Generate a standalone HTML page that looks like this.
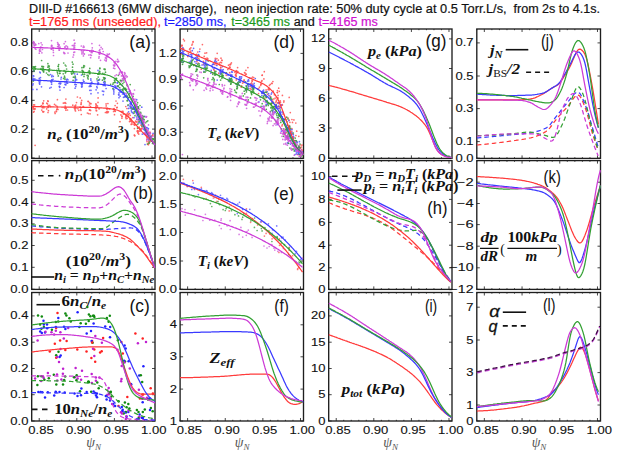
<!DOCTYPE html><html><head><meta charset="utf-8"><style>html,body{margin:0;padding:0;background:#fff;overflow:hidden}svg{display:block}</style></head><body><svg width="617" height="453" viewBox="0 0 617 453" font-family="Liberation Sans, sans-serif">
<rect width="617" height="453" fill="#fff"/>
<text x="29.1" y="12.9" font-size="12" fill="#111" stroke="#111" stroke-width="0.2" textLength="187.6" lengthAdjust="spacingAndGlyphs">DIII-D #166613 (6MW discharge),</text>
<text x="224.8" y="12.9" font-size="12" fill="#111" stroke="#111" stroke-width="0.2" textLength="281.8" lengthAdjust="spacingAndGlyphs">neon injection rate: 50% duty cycle at 0.5 Torr.L/s,</text>
<text x="513.5" y="12.9" font-size="12" fill="#111" stroke="#111" stroke-width="0.2" textLength="86.5" lengthAdjust="spacingAndGlyphs">from 2s to 4.1s.</text>
<text x="29.1" y="26.2" font-size="12" fill="#ff1a1a" stroke="#ff1a1a" stroke-width="0.2" textLength="131.9" lengthAdjust="spacingAndGlyphs">t=1765 ms (unseeded),</text>
<text x="164.0" y="26.2" font-size="12" fill="#1a1aff" stroke="#1a1aff" stroke-width="0.2" textLength="62.5" lengthAdjust="spacingAndGlyphs">t=2850 ms,</text>
<text x="231.3" y="26.2" font-size="12" fill="#1a9a1a" stroke="#1a9a1a" stroke-width="0.2" textLength="58.7" lengthAdjust="spacingAndGlyphs">t=3465 ms</text>
<text x="293.7" y="26.2" font-size="12" fill="#111" stroke="#111" stroke-width="0.2" textLength="21.1" lengthAdjust="spacingAndGlyphs">and</text>
<text x="318.6" y="26.2" font-size="12" fill="#d010d0" stroke="#d010d0" stroke-width="0.2" textLength="59.2" lengthAdjust="spacingAndGlyphs">t=4165 ms</text>
<g fill="#111">
<path d="M31.70,158.40v-1.20 M31.70,29.00v1.20 M39.22,158.40v-3.00 M39.22,29.00v3.00 M46.74,158.40v-1.20 M46.74,29.00v1.20 M54.25,158.40v-1.20 M54.25,29.00v1.20 M61.77,158.40v-1.20 M61.77,29.00v1.20 M69.29,158.40v-1.20 M69.29,29.00v1.20 M76.81,158.40v-3.00 M76.81,29.00v3.00 M84.33,158.40v-1.20 M84.33,29.00v1.20 M91.85,158.40v-1.20 M91.85,29.00v1.20 M99.36,158.40v-1.20 M99.36,29.00v1.20 M106.88,158.40v-1.20 M106.88,29.00v1.20 M114.40,158.40v-3.00 M114.40,29.00v3.00 M121.92,158.40v-1.20 M121.92,29.00v1.20 M129.44,158.40v-1.20 M129.44,29.00v1.20 M136.96,158.40v-1.20 M136.96,29.00v1.20 M144.47,158.40v-1.20 M144.47,29.00v1.20 M151.99,158.40v-3.00 M151.99,29.00v3.00 M31.70,42.90h3 M155.00,42.90h-3 M31.70,71.60h3 M155.00,71.60h-3 M31.70,100.30h3 M155.00,100.30h-3 M31.70,129.10h3 M155.00,129.10h-3 M31.70,158.00h3 M155.00,158.00h-3" stroke="#333" stroke-width="0.9" fill="none"/>
<rect x="31.70" y="29.00" width="123.30" height="129.40" fill="none" stroke="#1e1e1e" stroke-width="1.35"/>
<text x="28.50" y="46.40" text-anchor="end" font-size="11.6" stroke="#111" stroke-width="0.12" textLength="18.13" lengthAdjust="spacingAndGlyphs">0.8</text>
<text x="28.50" y="75.10" text-anchor="end" font-size="11.6" stroke="#111" stroke-width="0.12" textLength="18.13" lengthAdjust="spacingAndGlyphs">0.6</text>
<text x="28.50" y="103.80" text-anchor="end" font-size="11.6" stroke="#111" stroke-width="0.12" textLength="18.13" lengthAdjust="spacingAndGlyphs">0.4</text>
<text x="28.50" y="132.60" text-anchor="end" font-size="11.6" stroke="#111" stroke-width="0.12" textLength="18.13" lengthAdjust="spacingAndGlyphs">0.2</text>
<text x="28.50" y="161.50" text-anchor="end" font-size="11.6" stroke="#111" stroke-width="0.12" textLength="18.13" lengthAdjust="spacingAndGlyphs">0.0</text>
<path d="M180.10,158.40v-1.20 M180.10,29.00v1.20 M187.62,158.40v-3.00 M187.62,29.00v3.00 M195.15,158.40v-1.20 M195.15,29.00v1.20 M202.67,158.40v-1.20 M202.67,29.00v1.20 M210.20,158.40v-1.20 M210.20,29.00v1.20 M217.72,158.40v-1.20 M217.72,29.00v1.20 M225.25,158.40v-3.00 M225.25,29.00v3.00 M232.77,158.40v-1.20 M232.77,29.00v1.20 M240.30,158.40v-1.20 M240.30,29.00v1.20 M247.82,158.40v-1.20 M247.82,29.00v1.20 M255.34,158.40v-1.20 M255.34,29.00v1.20 M262.87,158.40v-3.00 M262.87,29.00v3.00 M270.39,158.40v-1.20 M270.39,29.00v1.20 M277.92,158.40v-1.20 M277.92,29.00v1.20 M285.44,158.40v-1.20 M285.44,29.00v1.20 M292.97,158.40v-1.20 M292.97,29.00v1.20 M300.49,158.40v-3.00 M300.49,29.00v3.00 M180.10,53.40h3 M303.50,53.40h-3 M180.10,79.70h3 M303.50,79.70h-3 M180.10,106.00h3 M303.50,106.00h-3 M180.10,132.20h3 M303.50,132.20h-3 M180.10,158.20h3 M303.50,158.20h-3" stroke="#333" stroke-width="0.9" fill="none"/>
<rect x="180.10" y="29.00" width="123.40" height="129.40" fill="none" stroke="#1e1e1e" stroke-width="1.35"/>
<text x="176.90" y="56.90" text-anchor="end" font-size="11.6" stroke="#111" stroke-width="0.12" textLength="18.13" lengthAdjust="spacingAndGlyphs">1.2</text>
<text x="176.90" y="83.20" text-anchor="end" font-size="11.6" stroke="#111" stroke-width="0.12" textLength="18.13" lengthAdjust="spacingAndGlyphs">0.9</text>
<text x="176.90" y="109.50" text-anchor="end" font-size="11.6" stroke="#111" stroke-width="0.12" textLength="18.13" lengthAdjust="spacingAndGlyphs">0.6</text>
<text x="176.90" y="135.70" text-anchor="end" font-size="11.6" stroke="#111" stroke-width="0.12" textLength="18.13" lengthAdjust="spacingAndGlyphs">0.3</text>
<text x="176.90" y="161.70" text-anchor="end" font-size="11.6" stroke="#111" stroke-width="0.12" textLength="18.13" lengthAdjust="spacingAndGlyphs">0.0</text>
<path d="M328.70,158.40v-1.20 M328.70,29.00v1.20 M336.22,158.40v-3.00 M336.22,29.00v3.00 M343.74,158.40v-1.20 M343.74,29.00v1.20 M351.25,158.40v-1.20 M351.25,29.00v1.20 M358.77,158.40v-1.20 M358.77,29.00v1.20 M366.29,158.40v-1.20 M366.29,29.00v1.20 M373.81,158.40v-3.00 M373.81,29.00v3.00 M381.33,158.40v-1.20 M381.33,29.00v1.20 M388.85,158.40v-1.20 M388.85,29.00v1.20 M396.36,158.40v-1.20 M396.36,29.00v1.20 M403.88,158.40v-1.20 M403.88,29.00v1.20 M411.40,158.40v-3.00 M411.40,29.00v3.00 M418.92,158.40v-1.20 M418.92,29.00v1.20 M426.44,158.40v-1.20 M426.44,29.00v1.20 M433.96,158.40v-1.20 M433.96,29.00v1.20 M441.47,158.40v-1.20 M441.47,29.00v1.20 M448.99,158.40v-3.00 M448.99,29.00v3.00 M328.70,38.90h3 M452.00,38.90h-3 M328.70,68.50h3 M452.00,68.50h-3 M328.70,98.20h3 M452.00,98.20h-3 M328.70,128.00h3 M452.00,128.00h-3 M328.70,158.20h3 M452.00,158.20h-3" stroke="#333" stroke-width="0.9" fill="none"/>
<rect x="328.70" y="29.00" width="123.30" height="129.40" fill="none" stroke="#1e1e1e" stroke-width="1.35"/>
<text x="325.50" y="42.40" text-anchor="end" font-size="11.6" stroke="#111" stroke-width="0.12" textLength="14.50" lengthAdjust="spacingAndGlyphs">12</text>
<text x="325.50" y="72.00" text-anchor="end" font-size="11.6" stroke="#111" stroke-width="0.12" textLength="7.25" lengthAdjust="spacingAndGlyphs">9</text>
<text x="325.50" y="101.70" text-anchor="end" font-size="11.6" stroke="#111" stroke-width="0.12" textLength="7.25" lengthAdjust="spacingAndGlyphs">6</text>
<text x="325.50" y="131.50" text-anchor="end" font-size="11.6" stroke="#111" stroke-width="0.12" textLength="7.25" lengthAdjust="spacingAndGlyphs">3</text>
<text x="325.50" y="161.70" text-anchor="end" font-size="11.6" stroke="#111" stroke-width="0.12" textLength="7.25" lengthAdjust="spacingAndGlyphs">0</text>
<path d="M476.80,158.40v-1.20 M476.80,29.00v1.20 M484.34,158.40v-3.00 M484.34,29.00v3.00 M491.89,158.40v-1.20 M491.89,29.00v1.20 M499.43,158.40v-1.20 M499.43,29.00v1.20 M506.97,158.40v-1.20 M506.97,29.00v1.20 M514.51,158.40v-1.20 M514.51,29.00v1.20 M522.06,158.40v-3.00 M522.06,29.00v3.00 M529.60,158.40v-1.20 M529.60,29.00v1.20 M537.14,158.40v-1.20 M537.14,29.00v1.20 M544.68,158.40v-1.20 M544.68,29.00v1.20 M552.23,158.40v-1.20 M552.23,29.00v1.20 M559.77,158.40v-3.00 M559.77,29.00v3.00 M567.31,158.40v-1.20 M567.31,29.00v1.20 M574.85,158.40v-1.20 M574.85,29.00v1.20 M582.40,158.40v-1.20 M582.40,29.00v1.20 M589.94,158.40v-1.20 M589.94,29.00v1.20 M597.48,158.40v-3.00 M597.48,29.00v3.00 M476.80,42.90h3 M600.50,42.90h-3 M476.80,76.00h3 M600.50,76.00h-3 M476.80,108.60h3 M600.50,108.60h-3 M476.80,141.60h3 M600.50,141.60h-3 M476.80,158.20h3 M600.50,158.20h-3" stroke="#333" stroke-width="0.9" fill="none"/>
<rect x="476.80" y="29.00" width="123.70" height="129.40" fill="none" stroke="#1e1e1e" stroke-width="1.35"/>
<text x="473.60" y="46.40" text-anchor="end" font-size="11.6" stroke="#111" stroke-width="0.12" textLength="18.13" lengthAdjust="spacingAndGlyphs">0.7</text>
<text x="473.60" y="79.50" text-anchor="end" font-size="11.6" stroke="#111" stroke-width="0.12" textLength="18.13" lengthAdjust="spacingAndGlyphs">0.5</text>
<text x="473.60" y="112.10" text-anchor="end" font-size="11.6" stroke="#111" stroke-width="0.12" textLength="18.13" lengthAdjust="spacingAndGlyphs">0.3</text>
<text x="473.60" y="145.10" text-anchor="end" font-size="11.6" stroke="#111" stroke-width="0.12" textLength="18.13" lengthAdjust="spacingAndGlyphs">0.1</text>
<text x="473.60" y="161.70" text-anchor="end" font-size="11.6" stroke="#111" stroke-width="0.12" textLength="18.13" lengthAdjust="spacingAndGlyphs">0.0</text>
<path d="M31.70,289.40v-1.20 M31.70,160.60v1.20 M39.22,289.40v-3.00 M39.22,160.60v3.00 M46.74,289.40v-1.20 M46.74,160.60v1.20 M54.25,289.40v-1.20 M54.25,160.60v1.20 M61.77,289.40v-1.20 M61.77,160.60v1.20 M69.29,289.40v-1.20 M69.29,160.60v1.20 M76.81,289.40v-3.00 M76.81,160.60v3.00 M84.33,289.40v-1.20 M84.33,160.60v1.20 M91.85,289.40v-1.20 M91.85,160.60v1.20 M99.36,289.40v-1.20 M99.36,160.60v1.20 M106.88,289.40v-1.20 M106.88,160.60v1.20 M114.40,289.40v-3.00 M114.40,160.60v3.00 M121.92,289.40v-1.20 M121.92,160.60v1.20 M129.44,289.40v-1.20 M129.44,160.60v1.20 M136.96,289.40v-1.20 M136.96,160.60v1.20 M144.47,289.40v-1.20 M144.47,160.60v1.20 M151.99,289.40v-3.00 M151.99,160.60v3.00 M31.70,180.30h3 M155.00,180.30h-3 M31.70,202.30h3 M155.00,202.30h-3 M31.70,223.90h3 M155.00,223.90h-3 M31.70,245.50h3 M155.00,245.50h-3 M31.70,267.30h3 M155.00,267.30h-3 M31.70,289.30h3 M155.00,289.30h-3" stroke="#333" stroke-width="0.9" fill="none"/>
<rect x="31.70" y="160.60" width="123.30" height="128.80" fill="none" stroke="#1e1e1e" stroke-width="1.35"/>
<text x="28.50" y="183.80" text-anchor="end" font-size="11.6" stroke="#111" stroke-width="0.12" textLength="18.13" lengthAdjust="spacingAndGlyphs">0.5</text>
<text x="28.50" y="205.80" text-anchor="end" font-size="11.6" stroke="#111" stroke-width="0.12" textLength="18.13" lengthAdjust="spacingAndGlyphs">0.4</text>
<text x="28.50" y="227.40" text-anchor="end" font-size="11.6" stroke="#111" stroke-width="0.12" textLength="18.13" lengthAdjust="spacingAndGlyphs">0.3</text>
<text x="28.50" y="249.00" text-anchor="end" font-size="11.6" stroke="#111" stroke-width="0.12" textLength="18.13" lengthAdjust="spacingAndGlyphs">0.2</text>
<text x="28.50" y="270.80" text-anchor="end" font-size="11.6" stroke="#111" stroke-width="0.12" textLength="18.13" lengthAdjust="spacingAndGlyphs">0.1</text>
<text x="28.50" y="292.80" text-anchor="end" font-size="11.6" stroke="#111" stroke-width="0.12" textLength="18.13" lengthAdjust="spacingAndGlyphs">0.0</text>
<path d="M180.10,289.40v-1.20 M180.10,160.60v1.20 M187.62,289.40v-3.00 M187.62,160.60v3.00 M195.15,289.40v-1.20 M195.15,160.60v1.20 M202.67,289.40v-1.20 M202.67,160.60v1.20 M210.20,289.40v-1.20 M210.20,160.60v1.20 M217.72,289.40v-1.20 M217.72,160.60v1.20 M225.25,289.40v-3.00 M225.25,160.60v3.00 M232.77,289.40v-1.20 M232.77,160.60v1.20 M240.30,289.40v-1.20 M240.30,160.60v1.20 M247.82,289.40v-1.20 M247.82,160.60v1.20 M255.34,289.40v-1.20 M255.34,160.60v1.20 M262.87,289.40v-3.00 M262.87,160.60v3.00 M270.39,289.40v-1.20 M270.39,160.60v1.20 M277.92,289.40v-1.20 M277.92,160.60v1.20 M285.44,289.40v-1.20 M285.44,160.60v1.20 M292.97,289.40v-1.20 M292.97,160.60v1.20 M300.49,289.40v-3.00 M300.49,160.60v3.00 M180.10,176.00h3 M303.50,176.00h-3 M180.10,204.40h3 M303.50,204.40h-3 M180.10,232.50h3 M303.50,232.50h-3 M180.10,261.00h3 M303.50,261.00h-3 M180.10,289.30h3 M303.50,289.30h-3" stroke="#333" stroke-width="0.9" fill="none"/>
<rect x="180.10" y="160.60" width="123.40" height="128.80" fill="none" stroke="#1e1e1e" stroke-width="1.35"/>
<text x="176.90" y="179.50" text-anchor="end" font-size="11.6" stroke="#111" stroke-width="0.12" textLength="18.13" lengthAdjust="spacingAndGlyphs">2.0</text>
<text x="176.90" y="207.90" text-anchor="end" font-size="11.6" stroke="#111" stroke-width="0.12" textLength="18.13" lengthAdjust="spacingAndGlyphs">1.5</text>
<text x="176.90" y="236.00" text-anchor="end" font-size="11.6" stroke="#111" stroke-width="0.12" textLength="18.13" lengthAdjust="spacingAndGlyphs">1.0</text>
<text x="176.90" y="264.50" text-anchor="end" font-size="11.6" stroke="#111" stroke-width="0.12" textLength="18.13" lengthAdjust="spacingAndGlyphs">0.5</text>
<text x="176.90" y="292.80" text-anchor="end" font-size="11.6" stroke="#111" stroke-width="0.12" textLength="18.13" lengthAdjust="spacingAndGlyphs">0.0</text>
<path d="M328.70,289.40v-1.20 M328.70,160.60v1.20 M336.22,289.40v-3.00 M336.22,160.60v3.00 M343.74,289.40v-1.20 M343.74,160.60v1.20 M351.25,289.40v-1.20 M351.25,160.60v1.20 M358.77,289.40v-1.20 M358.77,160.60v1.20 M366.29,289.40v-1.20 M366.29,160.60v1.20 M373.81,289.40v-3.00 M373.81,160.60v3.00 M381.33,289.40v-1.20 M381.33,160.60v1.20 M388.85,289.40v-1.20 M388.85,160.60v1.20 M396.36,289.40v-1.20 M396.36,160.60v1.20 M403.88,289.40v-1.20 M403.88,160.60v1.20 M411.40,289.40v-3.00 M411.40,160.60v3.00 M418.92,289.40v-1.20 M418.92,160.60v1.20 M426.44,289.40v-1.20 M426.44,160.60v1.20 M433.96,289.40v-1.20 M433.96,160.60v1.20 M441.47,289.40v-1.20 M441.47,160.60v1.20 M448.99,289.40v-3.00 M448.99,160.60v3.00 M328.70,176.60h3 M452.00,176.60h-3 M328.70,199.40h3 M452.00,199.40h-3 M328.70,222.40h3 M452.00,222.40h-3 M328.70,245.20h3 M452.00,245.20h-3 M328.70,267.80h3 M452.00,267.80h-3 M328.70,289.60h3 M452.00,289.60h-3" stroke="#333" stroke-width="0.9" fill="none"/>
<rect x="328.70" y="160.60" width="123.30" height="128.80" fill="none" stroke="#1e1e1e" stroke-width="1.35"/>
<text x="325.50" y="180.10" text-anchor="end" font-size="11.6" stroke="#111" stroke-width="0.12" textLength="14.50" lengthAdjust="spacingAndGlyphs">10</text>
<text x="325.50" y="202.90" text-anchor="end" font-size="11.6" stroke="#111" stroke-width="0.12" textLength="7.25" lengthAdjust="spacingAndGlyphs">8</text>
<text x="325.50" y="225.90" text-anchor="end" font-size="11.6" stroke="#111" stroke-width="0.12" textLength="7.25" lengthAdjust="spacingAndGlyphs">6</text>
<text x="325.50" y="248.70" text-anchor="end" font-size="11.6" stroke="#111" stroke-width="0.12" textLength="7.25" lengthAdjust="spacingAndGlyphs">4</text>
<text x="325.50" y="271.30" text-anchor="end" font-size="11.6" stroke="#111" stroke-width="0.12" textLength="7.25" lengthAdjust="spacingAndGlyphs">2</text>
<text x="325.50" y="293.10" text-anchor="end" font-size="11.6" stroke="#111" stroke-width="0.12" textLength="7.25" lengthAdjust="spacingAndGlyphs">0</text>
<path d="M476.80,289.40v-1.20 M476.80,160.60v1.20 M484.34,289.40v-3.00 M484.34,160.60v3.00 M491.89,289.40v-1.20 M491.89,160.60v1.20 M499.43,289.40v-1.20 M499.43,160.60v1.20 M506.97,289.40v-1.20 M506.97,160.60v1.20 M514.51,289.40v-1.20 M514.51,160.60v1.20 M522.06,289.40v-3.00 M522.06,160.60v3.00 M529.60,289.40v-1.20 M529.60,160.60v1.20 M537.14,289.40v-1.20 M537.14,160.60v1.20 M544.68,289.40v-1.20 M544.68,160.60v1.20 M552.23,289.40v-1.20 M552.23,160.60v1.20 M559.77,289.40v-3.00 M559.77,160.60v3.00 M567.31,289.40v-1.20 M567.31,160.60v1.20 M574.85,289.40v-1.20 M574.85,160.60v1.20 M582.40,289.40v-1.20 M582.40,160.60v1.20 M589.94,289.40v-1.20 M589.94,160.60v1.20 M597.48,289.40v-3.00 M597.48,160.60v3.00 M476.80,182.20h3 M600.50,182.20h-3 M476.80,203.50h3 M600.50,203.50h-3 M476.80,224.60h3 M600.50,224.60h-3 M476.80,246.20h3 M600.50,246.20h-3 M476.80,267.80h3 M600.50,267.80h-3 M476.80,289.40h3 M600.50,289.40h-3" stroke="#333" stroke-width="0.9" fill="none"/>
<rect x="476.80" y="160.60" width="123.70" height="128.80" fill="none" stroke="#1e1e1e" stroke-width="1.35"/>
<text x="473.60" y="185.70" text-anchor="end" font-size="11.6" stroke="#111" stroke-width="0.12" textLength="16.80" lengthAdjust="spacingAndGlyphs">−2</text>
<text x="473.60" y="207.00" text-anchor="end" font-size="11.6" stroke="#111" stroke-width="0.12" textLength="16.80" lengthAdjust="spacingAndGlyphs">−4</text>
<text x="473.60" y="228.10" text-anchor="end" font-size="11.6" stroke="#111" stroke-width="0.12" textLength="16.80" lengthAdjust="spacingAndGlyphs">−6</text>
<text x="473.60" y="249.70" text-anchor="end" font-size="11.6" stroke="#111" stroke-width="0.12" textLength="16.80" lengthAdjust="spacingAndGlyphs">−8</text>
<text x="473.60" y="271.30" text-anchor="end" font-size="11.6" stroke="#111" stroke-width="0.12" textLength="24.05" lengthAdjust="spacingAndGlyphs">−10</text>
<text x="473.60" y="292.90" text-anchor="end" font-size="11.6" stroke="#111" stroke-width="0.12" textLength="24.05" lengthAdjust="spacingAndGlyphs">−12</text>
<path d="M31.70,421.00v-1.20 M31.70,292.50v1.20 M39.22,421.00v-3.00 M39.22,292.50v3.00 M46.74,421.00v-1.20 M46.74,292.50v1.20 M54.25,421.00v-1.20 M54.25,292.50v1.20 M61.77,421.00v-1.20 M61.77,292.50v1.20 M69.29,421.00v-1.20 M69.29,292.50v1.20 M76.81,421.00v-3.00 M76.81,292.50v3.00 M84.33,421.00v-1.20 M84.33,292.50v1.20 M91.85,421.00v-1.20 M91.85,292.50v1.20 M99.36,421.00v-1.20 M99.36,292.50v1.20 M106.88,421.00v-1.20 M106.88,292.50v1.20 M114.40,421.00v-3.00 M114.40,292.50v3.00 M121.92,421.00v-1.20 M121.92,292.50v1.20 M129.44,421.00v-1.20 M129.44,292.50v1.20 M136.96,421.00v-1.20 M136.96,292.50v1.20 M144.47,421.00v-1.20 M144.47,292.50v1.20 M151.99,421.00v-3.00 M151.99,292.50v3.00 M31.70,315.90h3 M155.00,315.90h-3 M31.70,342.20h3 M155.00,342.20h-3 M31.70,368.50h3 M155.00,368.50h-3 M31.70,394.70h3 M155.00,394.70h-3 M31.70,421.00h3 M155.00,421.00h-3" stroke="#333" stroke-width="0.9" fill="none"/>
<rect x="31.70" y="292.50" width="123.30" height="128.50" fill="none" stroke="#1e1e1e" stroke-width="1.35"/>
<text x="28.50" y="319.40" text-anchor="end" font-size="11.6" stroke="#111" stroke-width="0.12" textLength="18.13" lengthAdjust="spacingAndGlyphs">0.4</text>
<text x="28.50" y="345.70" text-anchor="end" font-size="11.6" stroke="#111" stroke-width="0.12" textLength="18.13" lengthAdjust="spacingAndGlyphs">0.3</text>
<text x="28.50" y="372.00" text-anchor="end" font-size="11.6" stroke="#111" stroke-width="0.12" textLength="18.13" lengthAdjust="spacingAndGlyphs">0.2</text>
<text x="28.50" y="398.20" text-anchor="end" font-size="11.6" stroke="#111" stroke-width="0.12" textLength="18.13" lengthAdjust="spacingAndGlyphs">0.1</text>
<text x="28.50" y="424.50" text-anchor="end" font-size="11.6" stroke="#111" stroke-width="0.12" textLength="18.13" lengthAdjust="spacingAndGlyphs">0.0</text>
<path d="M180.10,421.00v-1.20 M180.10,292.50v1.20 M187.62,421.00v-3.00 M187.62,292.50v3.00 M195.15,421.00v-1.20 M195.15,292.50v1.20 M202.67,421.00v-1.20 M202.67,292.50v1.20 M210.20,421.00v-1.20 M210.20,292.50v1.20 M217.72,421.00v-1.20 M217.72,292.50v1.20 M225.25,421.00v-3.00 M225.25,292.50v3.00 M232.77,421.00v-1.20 M232.77,292.50v1.20 M240.30,421.00v-1.20 M240.30,292.50v1.20 M247.82,421.00v-1.20 M247.82,292.50v1.20 M255.34,421.00v-1.20 M255.34,292.50v1.20 M262.87,421.00v-3.00 M262.87,292.50v3.00 M270.39,421.00v-1.20 M270.39,292.50v1.20 M277.92,421.00v-1.20 M277.92,292.50v1.20 M285.44,421.00v-1.20 M285.44,292.50v1.20 M292.97,421.00v-1.20 M292.97,292.50v1.20 M300.49,421.00v-3.00 M300.49,292.50v3.00 M180.10,324.80h3 M303.50,324.80h-3 M180.10,356.80h3 M303.50,356.80h-3 M180.10,389.10h3 M303.50,389.10h-3 M180.10,421.00h3 M303.50,421.00h-3" stroke="#333" stroke-width="0.9" fill="none"/>
<rect x="180.10" y="292.50" width="123.40" height="128.50" fill="none" stroke="#1e1e1e" stroke-width="1.35"/>
<text x="176.90" y="328.30" text-anchor="end" font-size="11.6" stroke="#111" stroke-width="0.12" textLength="7.25" lengthAdjust="spacingAndGlyphs">4</text>
<text x="176.90" y="360.30" text-anchor="end" font-size="11.6" stroke="#111" stroke-width="0.12" textLength="7.25" lengthAdjust="spacingAndGlyphs">3</text>
<text x="176.90" y="392.60" text-anchor="end" font-size="11.6" stroke="#111" stroke-width="0.12" textLength="7.25" lengthAdjust="spacingAndGlyphs">2</text>
<text x="176.90" y="424.50" text-anchor="end" font-size="11.6" stroke="#111" stroke-width="0.12" textLength="7.25" lengthAdjust="spacingAndGlyphs">1</text>
<path d="M328.70,421.00v-1.20 M328.70,292.50v1.20 M336.22,421.00v-3.00 M336.22,292.50v3.00 M343.74,421.00v-1.20 M343.74,292.50v1.20 M351.25,421.00v-1.20 M351.25,292.50v1.20 M358.77,421.00v-1.20 M358.77,292.50v1.20 M366.29,421.00v-1.20 M366.29,292.50v1.20 M373.81,421.00v-3.00 M373.81,292.50v3.00 M381.33,421.00v-1.20 M381.33,292.50v1.20 M388.85,421.00v-1.20 M388.85,292.50v1.20 M396.36,421.00v-1.20 M396.36,292.50v1.20 M403.88,421.00v-1.20 M403.88,292.50v1.20 M411.40,421.00v-3.00 M411.40,292.50v3.00 M418.92,421.00v-1.20 M418.92,292.50v1.20 M426.44,421.00v-1.20 M426.44,292.50v1.20 M433.96,421.00v-1.20 M433.96,292.50v1.20 M441.47,421.00v-1.20 M441.47,292.50v1.20 M448.99,421.00v-3.00 M448.99,292.50v3.00 M328.70,315.90h3 M452.00,315.90h-3 M328.70,342.20h3 M452.00,342.20h-3 M328.70,368.50h3 M452.00,368.50h-3 M328.70,394.70h3 M452.00,394.70h-3 M328.70,421.00h3 M452.00,421.00h-3" stroke="#333" stroke-width="0.9" fill="none"/>
<rect x="328.70" y="292.50" width="123.30" height="128.50" fill="none" stroke="#1e1e1e" stroke-width="1.35"/>
<text x="325.50" y="319.40" text-anchor="end" font-size="11.6" stroke="#111" stroke-width="0.12" textLength="14.50" lengthAdjust="spacingAndGlyphs">20</text>
<text x="325.50" y="345.70" text-anchor="end" font-size="11.6" stroke="#111" stroke-width="0.12" textLength="14.50" lengthAdjust="spacingAndGlyphs">15</text>
<text x="325.50" y="372.00" text-anchor="end" font-size="11.6" stroke="#111" stroke-width="0.12" textLength="14.50" lengthAdjust="spacingAndGlyphs">10</text>
<text x="325.50" y="398.20" text-anchor="end" font-size="11.6" stroke="#111" stroke-width="0.12" textLength="7.25" lengthAdjust="spacingAndGlyphs">5</text>
<text x="325.50" y="424.50" text-anchor="end" font-size="11.6" stroke="#111" stroke-width="0.12" textLength="7.25" lengthAdjust="spacingAndGlyphs">0</text>
<path d="M476.80,421.00v-1.20 M476.80,292.50v1.20 M484.34,421.00v-3.00 M484.34,292.50v3.00 M491.89,421.00v-1.20 M491.89,292.50v1.20 M499.43,421.00v-1.20 M499.43,292.50v1.20 M506.97,421.00v-1.20 M506.97,292.50v1.20 M514.51,421.00v-1.20 M514.51,292.50v1.20 M522.06,421.00v-3.00 M522.06,292.50v3.00 M529.60,421.00v-1.20 M529.60,292.50v1.20 M537.14,421.00v-1.20 M537.14,292.50v1.20 M544.68,421.00v-1.20 M544.68,292.50v1.20 M552.23,421.00v-1.20 M552.23,292.50v1.20 M559.77,421.00v-3.00 M559.77,292.50v3.00 M567.31,421.00v-1.20 M567.31,292.50v1.20 M574.85,421.00v-1.20 M574.85,292.50v1.20 M582.40,421.00v-1.20 M582.40,292.50v1.20 M589.94,421.00v-1.20 M589.94,292.50v1.20 M597.48,421.00v-3.00 M597.48,292.50v3.00 M476.80,307.20h3 M600.50,307.20h-3 M476.80,340.00h3 M600.50,340.00h-3 M476.80,372.60h3 M600.50,372.60h-3 M476.80,405.00h3 M600.50,405.00h-3 M476.80,421.00h3 M600.50,421.00h-3" stroke="#333" stroke-width="0.9" fill="none"/>
<rect x="476.80" y="292.50" width="123.70" height="128.50" fill="none" stroke="#1e1e1e" stroke-width="1.35"/>
<text x="473.60" y="310.70" text-anchor="end" font-size="11.6" stroke="#111" stroke-width="0.12" textLength="7.25" lengthAdjust="spacingAndGlyphs">7</text>
<text x="473.60" y="343.50" text-anchor="end" font-size="11.6" stroke="#111" stroke-width="0.12" textLength="7.25" lengthAdjust="spacingAndGlyphs">5</text>
<text x="473.60" y="376.10" text-anchor="end" font-size="11.6" stroke="#111" stroke-width="0.12" textLength="7.25" lengthAdjust="spacingAndGlyphs">3</text>
<text x="473.60" y="408.50" text-anchor="end" font-size="11.6" stroke="#111" stroke-width="0.12" textLength="7.25" lengthAdjust="spacingAndGlyphs">1</text>
<text x="473.60" y="424.50" text-anchor="end" font-size="11.6" stroke="#111" stroke-width="0.12" textLength="7.25" lengthAdjust="spacingAndGlyphs">0</text>
<text x="28.33" y="433.80" font-size="11.6" stroke="#111" stroke-width="0.12" textLength="25.38" lengthAdjust="spacingAndGlyphs">0.85</text>
<text x="65.92" y="433.80" font-size="11.6" stroke="#111" stroke-width="0.12" textLength="25.38" lengthAdjust="spacingAndGlyphs">0.90</text>
<text x="103.51" y="433.80" font-size="11.6" stroke="#111" stroke-width="0.12" textLength="25.38" lengthAdjust="spacingAndGlyphs">0.95</text>
<text x="141.10" y="433.80" font-size="11.6" stroke="#111" stroke-width="0.12" textLength="25.38" lengthAdjust="spacingAndGlyphs">1.00</text>
<text x="86.35" y="447.3" font-family="Liberation Serif" font-style="italic" font-size="14" fill="#555">&#968;<tspan font-size="9" dy="2.5">N</tspan></text>
<text x="176.74" y="433.80" font-size="11.6" stroke="#111" stroke-width="0.12" textLength="25.38" lengthAdjust="spacingAndGlyphs">0.85</text>
<text x="214.36" y="433.80" font-size="11.6" stroke="#111" stroke-width="0.12" textLength="25.38" lengthAdjust="spacingAndGlyphs">0.90</text>
<text x="251.98" y="433.80" font-size="11.6" stroke="#111" stroke-width="0.12" textLength="25.38" lengthAdjust="spacingAndGlyphs">0.95</text>
<text x="289.60" y="433.80" font-size="11.6" stroke="#111" stroke-width="0.12" textLength="25.38" lengthAdjust="spacingAndGlyphs">1.00</text>
<text x="234.80" y="447.3" font-family="Liberation Serif" font-style="italic" font-size="14" fill="#555">&#968;<tspan font-size="9" dy="2.5">N</tspan></text>
<text x="325.33" y="433.80" font-size="11.6" stroke="#111" stroke-width="0.12" textLength="25.38" lengthAdjust="spacingAndGlyphs">0.85</text>
<text x="362.92" y="433.80" font-size="11.6" stroke="#111" stroke-width="0.12" textLength="25.38" lengthAdjust="spacingAndGlyphs">0.90</text>
<text x="400.51" y="433.80" font-size="11.6" stroke="#111" stroke-width="0.12" textLength="25.38" lengthAdjust="spacingAndGlyphs">0.95</text>
<text x="438.10" y="433.80" font-size="11.6" stroke="#111" stroke-width="0.12" textLength="25.38" lengthAdjust="spacingAndGlyphs">1.00</text>
<text x="383.35" y="447.3" font-family="Liberation Serif" font-style="italic" font-size="14" fill="#555">&#968;<tspan font-size="9" dy="2.5">N</tspan></text>
<text x="473.45" y="433.80" font-size="11.6" stroke="#111" stroke-width="0.12" textLength="25.38" lengthAdjust="spacingAndGlyphs">0.85</text>
<text x="511.17" y="433.80" font-size="11.6" stroke="#111" stroke-width="0.12" textLength="25.38" lengthAdjust="spacingAndGlyphs">0.90</text>
<text x="548.88" y="433.80" font-size="11.6" stroke="#111" stroke-width="0.12" textLength="25.38" lengthAdjust="spacingAndGlyphs">0.95</text>
<text x="586.59" y="433.80" font-size="11.6" stroke="#111" stroke-width="0.12" textLength="25.38" lengthAdjust="spacingAndGlyphs">1.00</text>
<text x="531.65" y="447.3" font-family="Liberation Serif" font-style="italic" font-size="14" fill="#555">&#968;<tspan font-size="9" dy="2.5">N</tspan></text>
</g>
<g fill="#ff5a5a" fill-opacity="0.90"><circle cx="34.1" cy="111.3" r="0.85"/><circle cx="34.4" cy="108.8" r="0.85"/><circle cx="33.1" cy="107.7" r="0.85"/><circle cx="33.0" cy="106.6" r="0.85"/><circle cx="32.9" cy="107.2" r="0.85"/><circle cx="34.2" cy="108.9" r="0.85"/><circle cx="33.6" cy="104.8" r="0.85"/><circle cx="33.5" cy="112.2" r="0.85"/><circle cx="34.6" cy="104.9" r="0.85"/><circle cx="35.1" cy="145.3" r="0.85"/><circle cx="35.2" cy="108.9" r="0.85"/><circle cx="33.1" cy="108.8" r="0.85"/><circle cx="33.9" cy="108.9" r="0.85"/><circle cx="43.8" cy="111.6" r="0.85"/><circle cx="42.7" cy="103.8" r="0.85"/><circle cx="42.9" cy="106.3" r="0.85"/><circle cx="43.9" cy="107.8" r="0.85"/><circle cx="42.9" cy="102.9" r="0.85"/><circle cx="42.7" cy="111.6" r="0.85"/><circle cx="42.4" cy="107.7" r="0.85"/><circle cx="43.7" cy="100.8" r="0.85"/><circle cx="43.3" cy="112.0" r="0.85"/><circle cx="41.3" cy="105.5" r="0.85"/><circle cx="43.2" cy="103.5" r="0.85"/><circle cx="43.8" cy="106.5" r="0.85"/><circle cx="41.8" cy="110.1" r="0.85"/><circle cx="48.3" cy="106.9" r="0.85"/><circle cx="47.8" cy="100.9" r="0.85"/><circle cx="46.8" cy="103.2" r="0.85"/><circle cx="48.0" cy="112.5" r="0.85"/><circle cx="47.5" cy="103.9" r="0.85"/><circle cx="46.7" cy="108.9" r="0.85"/><circle cx="49.7" cy="105.3" r="0.85"/><circle cx="48.4" cy="105.6" r="0.85"/><circle cx="48.2" cy="101.3" r="0.85"/><circle cx="50.5" cy="106.6" r="0.85"/><circle cx="48.4" cy="110.7" r="0.85"/><circle cx="48.5" cy="106.1" r="0.85"/><circle cx="48.0" cy="107.4" r="0.85"/><circle cx="58.0" cy="109.5" r="0.85"/><circle cx="57.0" cy="109.2" r="0.85"/><circle cx="54.9" cy="112.1" r="0.85"/><circle cx="57.4" cy="109.1" r="0.85"/><circle cx="54.5" cy="104.4" r="0.85"/><circle cx="57.4" cy="99.7" r="0.85"/><circle cx="56.2" cy="111.0" r="0.85"/><circle cx="55.1" cy="113.4" r="0.85"/><circle cx="57.0" cy="106.4" r="0.85"/><circle cx="56.8" cy="109.6" r="0.85"/><circle cx="56.5" cy="111.6" r="0.85"/><circle cx="55.8" cy="105.3" r="0.85"/><circle cx="57.5" cy="107.1" r="0.85"/><circle cx="63.3" cy="103.1" r="0.85"/><circle cx="65.1" cy="102.6" r="0.85"/><circle cx="64.4" cy="103.0" r="0.85"/><circle cx="67.5" cy="110.0" r="0.85"/><circle cx="65.9" cy="99.1" r="0.85"/><circle cx="65.8" cy="103.3" r="0.85"/><circle cx="65.1" cy="108.2" r="0.85"/><circle cx="65.2" cy="106.0" r="0.85"/><circle cx="66.1" cy="108.2" r="0.85"/><circle cx="65.9" cy="110.2" r="0.85"/><circle cx="65.5" cy="107.1" r="0.85"/><circle cx="65.7" cy="108.6" r="0.85"/><circle cx="65.3" cy="107.8" r="0.85"/><circle cx="75.1" cy="105.7" r="0.85"/><circle cx="75.5" cy="110.9" r="0.85"/><circle cx="75.1" cy="108.8" r="0.85"/><circle cx="77.4" cy="97.0" r="0.85"/><circle cx="74.4" cy="108.2" r="0.85"/><circle cx="75.9" cy="108.2" r="0.85"/><circle cx="75.0" cy="109.8" r="0.85"/><circle cx="75.8" cy="105.1" r="0.85"/><circle cx="77.9" cy="108.7" r="0.85"/><circle cx="74.9" cy="106.8" r="0.85"/><circle cx="75.3" cy="107.0" r="0.85"/><circle cx="72.8" cy="105.2" r="0.85"/><circle cx="76.5" cy="102.6" r="0.85"/><circle cx="80.6" cy="109.1" r="0.85"/><circle cx="81.2" cy="102.4" r="0.85"/><circle cx="81.2" cy="103.8" r="0.85"/><circle cx="81.3" cy="114.5" r="0.85"/><circle cx="83.0" cy="106.6" r="0.85"/><circle cx="81.7" cy="100.4" r="0.85"/><circle cx="81.0" cy="104.4" r="0.85"/><circle cx="80.1" cy="106.9" r="0.85"/><circle cx="81.3" cy="107.5" r="0.85"/><circle cx="80.9" cy="110.3" r="0.85"/><circle cx="80.2" cy="97.9" r="0.85"/><circle cx="78.8" cy="110.3" r="0.85"/><circle cx="83.5" cy="106.6" r="0.85"/><circle cx="89.6" cy="110.2" r="0.85"/><circle cx="89.6" cy="109.9" r="0.85"/><circle cx="88.0" cy="101.3" r="0.85"/><circle cx="90.2" cy="103.6" r="0.85"/><circle cx="88.5" cy="101.5" r="0.85"/><circle cx="90.6" cy="110.4" r="0.85"/><circle cx="91.0" cy="103.7" r="0.85"/><circle cx="89.5" cy="102.8" r="0.85"/><circle cx="90.1" cy="113.8" r="0.85"/><circle cx="88.5" cy="113.6" r="0.85"/><circle cx="90.5" cy="106.7" r="0.85"/><circle cx="87.4" cy="113.0" r="0.85"/><circle cx="89.4" cy="105.0" r="0.85"/><circle cx="97.6" cy="114.8" r="0.85"/><circle cx="96.8" cy="105.6" r="0.85"/><circle cx="98.1" cy="97.9" r="0.85"/><circle cx="96.1" cy="104.6" r="0.85"/><circle cx="96.0" cy="107.1" r="0.85"/><circle cx="99.1" cy="108.8" r="0.85"/><circle cx="95.9" cy="103.8" r="0.85"/><circle cx="97.5" cy="106.1" r="0.85"/><circle cx="98.0" cy="102.4" r="0.85"/><circle cx="96.6" cy="110.7" r="0.85"/><circle cx="96.2" cy="110.6" r="0.85"/><circle cx="95.9" cy="106.1" r="0.85"/><circle cx="96.0" cy="108.7" r="0.85"/><circle cx="106.6" cy="111.9" r="0.85"/><circle cx="106.1" cy="103.9" r="0.85"/><circle cx="105.4" cy="112.5" r="0.85"/><circle cx="106.4" cy="108.3" r="0.85"/><circle cx="107.5" cy="108.4" r="0.85"/><circle cx="107.0" cy="109.4" r="0.85"/><circle cx="109.4" cy="109.0" r="0.85"/><circle cx="107.8" cy="112.6" r="0.85"/><circle cx="107.9" cy="103.5" r="0.85"/><circle cx="106.7" cy="112.7" r="0.85"/><circle cx="106.2" cy="105.9" r="0.85"/><circle cx="108.4" cy="111.8" r="0.85"/><circle cx="107.4" cy="111.7" r="0.85"/><circle cx="113.8" cy="109.2" r="0.85"/><circle cx="116.0" cy="101.0" r="0.85"/><circle cx="113.6" cy="111.4" r="0.85"/><circle cx="113.9" cy="109.3" r="0.85"/><circle cx="115.1" cy="105.6" r="0.85"/><circle cx="114.1" cy="108.6" r="0.85"/><circle cx="116.7" cy="107.7" r="0.85"/><circle cx="117.4" cy="103.3" r="0.85"/><circle cx="114.5" cy="114.7" r="0.85"/><circle cx="117.2" cy="107.3" r="0.85"/><circle cx="115.3" cy="111.3" r="0.85"/><circle cx="114.7" cy="110.2" r="0.85"/><circle cx="115.0" cy="111.2" r="0.85"/><circle cx="125.8" cy="106.5" r="0.85"/><circle cx="121.9" cy="118.2" r="0.85"/><circle cx="123.0" cy="111.4" r="0.85"/><circle cx="126.9" cy="108.5" r="0.85"/><circle cx="120.0" cy="121.7" r="0.85"/><circle cx="120.9" cy="114.9" r="0.85"/><circle cx="124.7" cy="114.0" r="0.85"/><circle cx="122.1" cy="116.6" r="0.85"/><circle cx="121.9" cy="112.3" r="0.85"/><circle cx="121.9" cy="116.2" r="0.85"/><circle cx="122.9" cy="112.5" r="0.85"/><circle cx="122.1" cy="111.4" r="0.85"/><circle cx="123.4" cy="114.1" r="0.85"/><circle cx="126.2" cy="115.3" r="0.85"/><circle cx="128.5" cy="116.3" r="0.85"/><circle cx="127.1" cy="115.7" r="0.85"/><circle cx="126.1" cy="116.6" r="0.85"/><circle cx="127.6" cy="113.1" r="0.85"/><circle cx="126.2" cy="118.7" r="0.85"/><circle cx="129.5" cy="113.5" r="0.85"/><circle cx="125.7" cy="117.6" r="0.85"/><circle cx="128.5" cy="114.3" r="0.85"/><circle cx="126.9" cy="114.2" r="0.85"/><circle cx="127.2" cy="118.3" r="0.85"/><circle cx="125.9" cy="116.0" r="0.85"/><circle cx="128.5" cy="114.7" r="0.85"/><circle cx="131.2" cy="124.4" r="0.85"/><circle cx="131.6" cy="124.0" r="0.85"/><circle cx="129.9" cy="119.6" r="0.85"/><circle cx="130.3" cy="115.3" r="0.85"/><circle cx="130.2" cy="121.2" r="0.85"/><circle cx="130.7" cy="118.7" r="0.85"/><circle cx="131.0" cy="121.3" r="0.85"/><circle cx="131.5" cy="121.1" r="0.85"/><circle cx="129.5" cy="121.6" r="0.85"/><circle cx="132.7" cy="117.6" r="0.85"/><circle cx="130.6" cy="119.2" r="0.85"/><circle cx="130.8" cy="120.1" r="0.85"/><circle cx="130.9" cy="120.3" r="0.85"/><circle cx="134.7" cy="122.7" r="0.85"/><circle cx="132.0" cy="122.4" r="0.85"/><circle cx="134.4" cy="128.6" r="0.85"/><circle cx="133.0" cy="124.0" r="0.85"/><circle cx="137.0" cy="122.1" r="0.85"/><circle cx="133.5" cy="122.0" r="0.85"/><circle cx="136.0" cy="124.6" r="0.85"/><circle cx="138.1" cy="121.0" r="0.85"/><circle cx="135.6" cy="121.1" r="0.85"/><circle cx="134.3" cy="124.4" r="0.85"/><circle cx="134.7" cy="124.9" r="0.85"/><circle cx="136.2" cy="121.8" r="0.85"/><circle cx="134.5" cy="125.1" r="0.85"/><circle cx="142.3" cy="127.0" r="0.85"/><circle cx="137.9" cy="130.5" r="0.85"/><circle cx="137.2" cy="131.3" r="0.85"/><circle cx="138.3" cy="131.8" r="0.85"/><circle cx="134.6" cy="135.3" r="0.85"/><circle cx="141.0" cy="129.5" r="0.85"/><circle cx="134.8" cy="135.8" r="0.85"/><circle cx="137.5" cy="130.7" r="0.85"/><circle cx="140.3" cy="129.8" r="0.85"/><circle cx="137.9" cy="127.9" r="0.85"/><circle cx="137.7" cy="132.2" r="0.85"/><circle cx="140.1" cy="129.7" r="0.85"/><circle cx="139.3" cy="131.1" r="0.85"/><circle cx="140.8" cy="130.9" r="0.85"/><circle cx="138.0" cy="133.3" r="0.85"/><circle cx="139.1" cy="127.0" r="0.85"/><circle cx="141.7" cy="125.1" r="0.85"/><circle cx="142.1" cy="128.6" r="0.85"/><circle cx="134.3" cy="135.0" r="0.85"/><circle cx="138.8" cy="134.1" r="0.85"/><circle cx="140.4" cy="128.8" r="0.85"/><circle cx="144.5" cy="126.0" r="0.85"/><circle cx="141.1" cy="125.2" r="0.85"/><circle cx="141.3" cy="128.5" r="0.85"/><circle cx="139.3" cy="127.8" r="0.85"/><circle cx="143.9" cy="126.5" r="0.85"/><circle cx="147.2" cy="132.0" r="0.85"/><circle cx="148.9" cy="132.0" r="0.85"/><circle cx="146.9" cy="137.6" r="0.85"/><circle cx="146.8" cy="139.5" r="0.85"/><circle cx="147.0" cy="141.6" r="0.85"/><circle cx="146.8" cy="134.1" r="0.85"/><circle cx="147.9" cy="132.6" r="0.85"/><circle cx="147.2" cy="136.7" r="0.85"/><circle cx="150.3" cy="132.4" r="0.85"/><circle cx="146.1" cy="135.6" r="0.85"/><circle cx="147.6" cy="135.7" r="0.85"/><circle cx="148.4" cy="134.4" r="0.85"/><circle cx="147.4" cy="138.5" r="0.85"/><circle cx="148.5" cy="144.6" r="0.85"/><circle cx="152.4" cy="140.9" r="0.85"/><circle cx="148.9" cy="141.5" r="0.85"/><circle cx="152.8" cy="134.7" r="0.85"/><circle cx="151.4" cy="136.1" r="0.85"/><circle cx="150.9" cy="141.2" r="0.85"/><circle cx="148.0" cy="144.5" r="0.85"/><circle cx="148.5" cy="143.1" r="0.85"/><circle cx="151.2" cy="140.4" r="0.85"/><circle cx="148.2" cy="143.9" r="0.85"/><circle cx="152.7" cy="135.4" r="0.85"/><circle cx="148.6" cy="143.0" r="0.85"/><circle cx="149.4" cy="139.7" r="0.85"/></g>
<g fill="#5a5aff" fill-opacity="0.90"><circle cx="33.1" cy="78.4" r="0.85"/><circle cx="34.8" cy="78.9" r="0.85"/><circle cx="33.6" cy="80.6" r="0.85"/><circle cx="33.9" cy="70.6" r="0.85"/><circle cx="32.8" cy="89.4" r="0.85"/><circle cx="32.6" cy="85.2" r="0.85"/><circle cx="33.1" cy="83.9" r="0.85"/><circle cx="33.0" cy="79.4" r="0.85"/><circle cx="33.1" cy="75.8" r="0.85"/><circle cx="33.8" cy="76.0" r="0.85"/><circle cx="38.9" cy="80.6" r="0.85"/><circle cx="39.8" cy="82.5" r="0.85"/><circle cx="39.4" cy="83.3" r="0.85"/><circle cx="40.1" cy="80.2" r="0.85"/><circle cx="40.3" cy="72.8" r="0.85"/><circle cx="41.5" cy="86.8" r="0.85"/><circle cx="39.8" cy="72.0" r="0.85"/><circle cx="39.7" cy="84.2" r="0.85"/><circle cx="36.9" cy="89.4" r="0.85"/><circle cx="39.3" cy="78.4" r="0.85"/><circle cx="39.2" cy="81.8" r="0.85"/><circle cx="40.4" cy="81.0" r="0.85"/><circle cx="40.5" cy="77.6" r="0.85"/><circle cx="51.6" cy="84.2" r="0.85"/><circle cx="51.1" cy="80.9" r="0.85"/><circle cx="49.8" cy="88.1" r="0.85"/><circle cx="53.3" cy="76.3" r="0.85"/><circle cx="50.4" cy="74.5" r="0.85"/><circle cx="53.0" cy="79.3" r="0.85"/><circle cx="51.7" cy="79.8" r="0.85"/><circle cx="51.8" cy="76.7" r="0.85"/><circle cx="52.0" cy="75.3" r="0.85"/><circle cx="51.6" cy="82.3" r="0.85"/><circle cx="52.2" cy="80.2" r="0.85"/><circle cx="50.8" cy="81.7" r="0.85"/><circle cx="51.1" cy="87.3" r="0.85"/><circle cx="59.6" cy="87.3" r="0.85"/><circle cx="59.3" cy="86.3" r="0.85"/><circle cx="59.4" cy="83.0" r="0.85"/><circle cx="60.2" cy="83.8" r="0.85"/><circle cx="61.0" cy="79.0" r="0.85"/><circle cx="60.0" cy="90.1" r="0.85"/><circle cx="61.0" cy="81.5" r="0.85"/><circle cx="60.3" cy="83.5" r="0.85"/><circle cx="60.6" cy="83.5" r="0.85"/><circle cx="60.5" cy="83.1" r="0.85"/><circle cx="59.7" cy="86.7" r="0.85"/><circle cx="61.3" cy="77.3" r="0.85"/><circle cx="59.0" cy="83.6" r="0.85"/><circle cx="65.4" cy="84.3" r="0.85"/><circle cx="66.8" cy="83.1" r="0.85"/><circle cx="66.6" cy="81.5" r="0.85"/><circle cx="64.7" cy="81.6" r="0.85"/><circle cx="66.6" cy="79.8" r="0.85"/><circle cx="65.9" cy="84.8" r="0.85"/><circle cx="65.1" cy="84.4" r="0.85"/><circle cx="68.0" cy="79.8" r="0.85"/><circle cx="66.3" cy="81.3" r="0.85"/><circle cx="67.6" cy="83.2" r="0.85"/><circle cx="67.1" cy="79.2" r="0.85"/><circle cx="66.1" cy="81.8" r="0.85"/><circle cx="64.1" cy="87.5" r="0.85"/><circle cx="77.3" cy="74.2" r="0.85"/><circle cx="75.2" cy="84.4" r="0.85"/><circle cx="75.8" cy="86.5" r="0.85"/><circle cx="74.7" cy="73.8" r="0.85"/><circle cx="75.3" cy="76.8" r="0.85"/><circle cx="75.6" cy="78.1" r="0.85"/><circle cx="75.0" cy="82.1" r="0.85"/><circle cx="75.6" cy="79.6" r="0.85"/><circle cx="76.7" cy="79.8" r="0.85"/><circle cx="75.0" cy="84.4" r="0.85"/><circle cx="75.1" cy="88.2" r="0.85"/><circle cx="75.2" cy="80.6" r="0.85"/><circle cx="76.3" cy="84.6" r="0.85"/><circle cx="81.7" cy="84.8" r="0.85"/><circle cx="82.2" cy="82.6" r="0.85"/><circle cx="81.8" cy="87.1" r="0.85"/><circle cx="83.8" cy="81.6" r="0.85"/><circle cx="83.3" cy="80.0" r="0.85"/><circle cx="82.3" cy="86.0" r="0.85"/><circle cx="83.9" cy="81.5" r="0.85"/><circle cx="82.2" cy="83.7" r="0.85"/><circle cx="80.8" cy="82.9" r="0.85"/><circle cx="81.6" cy="84.4" r="0.85"/><circle cx="81.5" cy="75.0" r="0.85"/><circle cx="82.3" cy="84.0" r="0.85"/><circle cx="81.6" cy="86.5" r="0.85"/><circle cx="91.0" cy="90.3" r="0.85"/><circle cx="90.8" cy="78.8" r="0.85"/><circle cx="91.0" cy="93.7" r="0.85"/><circle cx="89.8" cy="90.3" r="0.85"/><circle cx="90.7" cy="86.3" r="0.85"/><circle cx="90.9" cy="80.2" r="0.85"/><circle cx="91.9" cy="82.2" r="0.85"/><circle cx="90.9" cy="86.2" r="0.85"/><circle cx="89.3" cy="86.4" r="0.85"/><circle cx="91.3" cy="82.9" r="0.85"/><circle cx="90.1" cy="85.2" r="0.85"/><circle cx="91.3" cy="83.2" r="0.85"/><circle cx="91.0" cy="84.0" r="0.85"/><circle cx="99.5" cy="79.4" r="0.85"/><circle cx="98.0" cy="70.4" r="0.85"/><circle cx="98.5" cy="82.8" r="0.85"/><circle cx="98.0" cy="92.8" r="0.85"/><circle cx="97.6" cy="83.2" r="0.85"/><circle cx="97.3" cy="80.8" r="0.85"/><circle cx="96.8" cy="86.7" r="0.85"/><circle cx="97.6" cy="84.4" r="0.85"/><circle cx="97.2" cy="87.8" r="0.85"/><circle cx="98.1" cy="83.7" r="0.85"/><circle cx="98.3" cy="83.6" r="0.85"/><circle cx="96.1" cy="89.8" r="0.85"/><circle cx="98.3" cy="80.4" r="0.85"/><circle cx="103.2" cy="85.4" r="0.85"/><circle cx="104.8" cy="83.6" r="0.85"/><circle cx="102.4" cy="91.1" r="0.85"/><circle cx="105.2" cy="85.7" r="0.85"/><circle cx="105.2" cy="78.6" r="0.85"/><circle cx="104.4" cy="85.1" r="0.85"/><circle cx="106.1" cy="88.5" r="0.85"/><circle cx="103.7" cy="91.4" r="0.85"/><circle cx="105.1" cy="82.7" r="0.85"/><circle cx="103.3" cy="94.7" r="0.85"/><circle cx="103.7" cy="82.7" r="0.85"/><circle cx="104.2" cy="81.4" r="0.85"/><circle cx="104.2" cy="85.2" r="0.85"/><circle cx="117.0" cy="86.1" r="0.85"/><circle cx="115.3" cy="87.8" r="0.85"/><circle cx="113.9" cy="92.1" r="0.85"/><circle cx="118.1" cy="86.8" r="0.85"/><circle cx="113.9" cy="89.5" r="0.85"/><circle cx="113.4" cy="89.2" r="0.85"/><circle cx="115.9" cy="87.3" r="0.85"/><circle cx="117.3" cy="82.7" r="0.85"/><circle cx="117.5" cy="82.9" r="0.85"/><circle cx="114.9" cy="85.6" r="0.85"/><circle cx="113.7" cy="90.8" r="0.85"/><circle cx="115.5" cy="86.6" r="0.85"/><circle cx="113.8" cy="93.9" r="0.85"/><circle cx="121.1" cy="91.7" r="0.85"/><circle cx="120.5" cy="89.6" r="0.85"/><circle cx="123.5" cy="92.6" r="0.85"/><circle cx="121.9" cy="91.8" r="0.85"/><circle cx="121.0" cy="92.2" r="0.85"/><circle cx="119.4" cy="90.3" r="0.85"/><circle cx="120.0" cy="91.5" r="0.85"/><circle cx="119.0" cy="92.9" r="0.85"/><circle cx="122.1" cy="85.6" r="0.85"/><circle cx="124.0" cy="88.7" r="0.85"/><circle cx="120.1" cy="96.2" r="0.85"/><circle cx="118.9" cy="94.9" r="0.85"/><circle cx="118.6" cy="94.6" r="0.85"/><circle cx="123.5" cy="97.3" r="0.85"/><circle cx="123.0" cy="101.1" r="0.85"/><circle cx="124.8" cy="93.2" r="0.85"/><circle cx="119.0" cy="97.7" r="0.85"/><circle cx="124.1" cy="94.3" r="0.85"/><circle cx="127.7" cy="92.1" r="0.85"/><circle cx="125.3" cy="95.6" r="0.85"/><circle cx="122.5" cy="94.0" r="0.85"/><circle cx="129.3" cy="91.4" r="0.85"/><circle cx="125.2" cy="96.6" r="0.85"/><circle cx="124.5" cy="96.9" r="0.85"/><circle cx="126.5" cy="96.0" r="0.85"/><circle cx="126.4" cy="95.0" r="0.85"/><circle cx="130.2" cy="103.3" r="0.85"/><circle cx="136.7" cy="99.7" r="0.85"/><circle cx="130.8" cy="107.4" r="0.85"/><circle cx="131.9" cy="102.1" r="0.85"/><circle cx="130.3" cy="104.2" r="0.85"/><circle cx="130.2" cy="105.9" r="0.85"/><circle cx="132.0" cy="100.3" r="0.85"/><circle cx="131.2" cy="104.3" r="0.85"/><circle cx="128.0" cy="105.6" r="0.85"/><circle cx="130.2" cy="106.2" r="0.85"/><circle cx="128.5" cy="108.4" r="0.85"/><circle cx="131.3" cy="103.2" r="0.85"/><circle cx="131.1" cy="106.5" r="0.85"/><circle cx="134.6" cy="107.3" r="0.85"/><circle cx="132.3" cy="112.5" r="0.85"/><circle cx="132.6" cy="108.2" r="0.85"/><circle cx="128.6" cy="111.8" r="0.85"/><circle cx="131.3" cy="110.1" r="0.85"/><circle cx="131.9" cy="109.1" r="0.85"/><circle cx="141.8" cy="107.2" r="0.85"/><circle cx="132.7" cy="108.8" r="0.85"/><circle cx="135.5" cy="106.9" r="0.85"/><circle cx="136.2" cy="112.1" r="0.85"/><circle cx="130.8" cy="107.5" r="0.85"/><circle cx="130.1" cy="108.0" r="0.85"/><circle cx="133.3" cy="107.8" r="0.85"/><circle cx="135.6" cy="108.3" r="0.85"/><circle cx="136.9" cy="111.6" r="0.85"/><circle cx="136.7" cy="108.9" r="0.85"/><circle cx="135.5" cy="110.5" r="0.85"/><circle cx="133.3" cy="113.4" r="0.85"/><circle cx="136.9" cy="111.8" r="0.85"/><circle cx="134.0" cy="108.7" r="0.85"/><circle cx="137.0" cy="112.4" r="0.85"/><circle cx="134.0" cy="117.7" r="0.85"/><circle cx="137.6" cy="113.3" r="0.85"/><circle cx="136.6" cy="117.0" r="0.85"/><circle cx="131.5" cy="111.7" r="0.85"/><circle cx="137.3" cy="106.6" r="0.85"/><circle cx="142.3" cy="119.8" r="0.85"/><circle cx="136.7" cy="119.3" r="0.85"/><circle cx="142.1" cy="120.3" r="0.85"/><circle cx="138.7" cy="122.8" r="0.85"/><circle cx="139.9" cy="118.5" r="0.85"/><circle cx="140.0" cy="122.7" r="0.85"/><circle cx="144.8" cy="116.3" r="0.85"/><circle cx="141.2" cy="123.8" r="0.85"/><circle cx="141.3" cy="120.2" r="0.85"/><circle cx="141.8" cy="120.4" r="0.85"/><circle cx="141.2" cy="117.3" r="0.85"/><circle cx="141.4" cy="118.4" r="0.85"/><circle cx="138.1" cy="119.4" r="0.85"/><circle cx="147.0" cy="127.7" r="0.85"/><circle cx="145.3" cy="130.3" r="0.85"/><circle cx="146.5" cy="127.5" r="0.85"/><circle cx="142.3" cy="134.1" r="0.85"/><circle cx="148.2" cy="128.8" r="0.85"/><circle cx="144.0" cy="133.4" r="0.85"/><circle cx="145.4" cy="131.9" r="0.85"/><circle cx="144.9" cy="130.2" r="0.85"/><circle cx="143.7" cy="129.4" r="0.85"/><circle cx="146.3" cy="133.7" r="0.85"/><circle cx="145.4" cy="134.6" r="0.85"/><circle cx="148.4" cy="128.6" r="0.85"/><circle cx="146.0" cy="133.3" r="0.85"/><circle cx="150.4" cy="137.9" r="0.85"/><circle cx="153.1" cy="133.4" r="0.85"/><circle cx="145.0" cy="144.6" r="0.85"/><circle cx="146.7" cy="133.1" r="0.85"/><circle cx="150.7" cy="137.7" r="0.85"/><circle cx="149.6" cy="139.6" r="0.85"/><circle cx="150.8" cy="136.2" r="0.85"/><circle cx="151.2" cy="137.5" r="0.85"/><circle cx="150.8" cy="136.7" r="0.85"/><circle cx="147.3" cy="133.3" r="0.85"/><circle cx="148.1" cy="139.2" r="0.85"/></g>
<g fill="#40a040" fill-opacity="0.90"><circle cx="33.9" cy="69.8" r="0.85"/><circle cx="34.2" cy="71.0" r="0.85"/><circle cx="35.5" cy="66.5" r="0.85"/><circle cx="34.6" cy="67.3" r="0.85"/><circle cx="34.2" cy="66.9" r="0.85"/><circle cx="32.9" cy="66.9" r="0.85"/><circle cx="34.4" cy="67.5" r="0.85"/><circle cx="35.4" cy="68.6" r="0.85"/><circle cx="35.3" cy="68.8" r="0.85"/><circle cx="33.2" cy="80.9" r="0.85"/><circle cx="33.3" cy="67.0" r="0.85"/><circle cx="42.4" cy="70.3" r="0.85"/><circle cx="43.1" cy="68.2" r="0.85"/><circle cx="43.5" cy="66.7" r="0.85"/><circle cx="41.6" cy="60.5" r="0.85"/><circle cx="41.9" cy="66.4" r="0.85"/><circle cx="43.0" cy="69.7" r="0.85"/><circle cx="43.6" cy="70.0" r="0.85"/><circle cx="42.4" cy="66.6" r="0.85"/><circle cx="41.0" cy="68.6" r="0.85"/><circle cx="43.4" cy="71.6" r="0.85"/><circle cx="43.0" cy="68.8" r="0.85"/><circle cx="44.0" cy="69.6" r="0.85"/><circle cx="43.7" cy="71.9" r="0.85"/><circle cx="47.9" cy="67.2" r="0.85"/><circle cx="49.0" cy="75.3" r="0.85"/><circle cx="48.4" cy="70.2" r="0.85"/><circle cx="49.6" cy="68.8" r="0.85"/><circle cx="49.1" cy="71.4" r="0.85"/><circle cx="47.9" cy="63.7" r="0.85"/><circle cx="49.3" cy="66.0" r="0.85"/><circle cx="48.9" cy="70.5" r="0.85"/><circle cx="48.3" cy="65.8" r="0.85"/><circle cx="47.8" cy="74.5" r="0.85"/><circle cx="46.5" cy="73.0" r="0.85"/><circle cx="49.0" cy="66.9" r="0.85"/><circle cx="49.2" cy="69.3" r="0.85"/><circle cx="57.4" cy="72.2" r="0.85"/><circle cx="59.6" cy="73.3" r="0.85"/><circle cx="59.4" cy="71.1" r="0.85"/><circle cx="58.7" cy="69.9" r="0.85"/><circle cx="58.3" cy="75.9" r="0.85"/><circle cx="56.7" cy="70.3" r="0.85"/><circle cx="58.5" cy="68.4" r="0.85"/><circle cx="57.7" cy="73.8" r="0.85"/><circle cx="60.0" cy="73.3" r="0.85"/><circle cx="58.7" cy="64.5" r="0.85"/><circle cx="60.0" cy="71.1" r="0.85"/><circle cx="58.3" cy="66.2" r="0.85"/><circle cx="58.3" cy="66.3" r="0.85"/><circle cx="65.4" cy="73.0" r="0.85"/><circle cx="65.7" cy="72.1" r="0.85"/><circle cx="65.2" cy="65.0" r="0.85"/><circle cx="66.0" cy="66.0" r="0.85"/><circle cx="64.5" cy="76.2" r="0.85"/><circle cx="63.2" cy="73.8" r="0.85"/><circle cx="64.1" cy="70.7" r="0.85"/><circle cx="63.7" cy="63.0" r="0.85"/><circle cx="65.0" cy="79.2" r="0.85"/><circle cx="65.7" cy="71.5" r="0.85"/><circle cx="64.8" cy="77.7" r="0.85"/><circle cx="66.6" cy="69.0" r="0.85"/><circle cx="63.6" cy="78.4" r="0.85"/><circle cx="73.1" cy="80.4" r="0.85"/><circle cx="72.5" cy="67.2" r="0.85"/><circle cx="72.3" cy="62.1" r="0.85"/><circle cx="71.4" cy="73.1" r="0.85"/><circle cx="73.0" cy="64.2" r="0.85"/><circle cx="71.7" cy="74.1" r="0.85"/><circle cx="72.6" cy="70.2" r="0.85"/><circle cx="73.4" cy="77.2" r="0.85"/><circle cx="75.1" cy="76.0" r="0.85"/><circle cx="73.4" cy="72.5" r="0.85"/><circle cx="74.9" cy="77.6" r="0.85"/><circle cx="72.9" cy="73.5" r="0.85"/><circle cx="73.6" cy="72.0" r="0.85"/><circle cx="81.9" cy="67.7" r="0.85"/><circle cx="82.8" cy="70.9" r="0.85"/><circle cx="82.1" cy="70.3" r="0.85"/><circle cx="83.8" cy="65.7" r="0.85"/><circle cx="83.1" cy="71.5" r="0.85"/><circle cx="84.5" cy="66.0" r="0.85"/><circle cx="83.2" cy="71.8" r="0.85"/><circle cx="82.8" cy="74.3" r="0.85"/><circle cx="84.6" cy="74.2" r="0.85"/><circle cx="83.5" cy="67.2" r="0.85"/><circle cx="83.6" cy="67.4" r="0.85"/><circle cx="82.6" cy="74.2" r="0.85"/><circle cx="84.0" cy="76.4" r="0.85"/><circle cx="88.2" cy="76.6" r="0.85"/><circle cx="89.6" cy="73.3" r="0.85"/><circle cx="88.2" cy="79.0" r="0.85"/><circle cx="88.1" cy="75.3" r="0.85"/><circle cx="90.0" cy="71.8" r="0.85"/><circle cx="89.8" cy="68.4" r="0.85"/><circle cx="89.8" cy="73.7" r="0.85"/><circle cx="87.1" cy="75.4" r="0.85"/><circle cx="87.7" cy="77.9" r="0.85"/><circle cx="88.2" cy="72.1" r="0.85"/><circle cx="89.2" cy="71.5" r="0.85"/><circle cx="89.2" cy="70.6" r="0.85"/><circle cx="89.5" cy="72.9" r="0.85"/><circle cx="99.1" cy="74.0" r="0.85"/><circle cx="97.9" cy="74.1" r="0.85"/><circle cx="99.4" cy="71.6" r="0.85"/><circle cx="98.1" cy="74.0" r="0.85"/><circle cx="99.7" cy="71.4" r="0.85"/><circle cx="99.9" cy="73.0" r="0.85"/><circle cx="98.9" cy="80.1" r="0.85"/><circle cx="98.6" cy="74.0" r="0.85"/><circle cx="98.9" cy="72.8" r="0.85"/><circle cx="99.9" cy="68.1" r="0.85"/><circle cx="99.8" cy="68.7" r="0.85"/><circle cx="98.2" cy="77.1" r="0.85"/><circle cx="97.0" cy="78.9" r="0.85"/><circle cx="104.6" cy="74.2" r="0.85"/><circle cx="104.3" cy="77.8" r="0.85"/><circle cx="105.5" cy="72.2" r="0.85"/><circle cx="102.4" cy="80.2" r="0.85"/><circle cx="104.1" cy="79.2" r="0.85"/><circle cx="102.8" cy="73.3" r="0.85"/><circle cx="104.9" cy="69.1" r="0.85"/><circle cx="103.6" cy="77.6" r="0.85"/><circle cx="104.9" cy="81.3" r="0.85"/><circle cx="104.0" cy="69.1" r="0.85"/><circle cx="104.5" cy="78.6" r="0.85"/><circle cx="105.0" cy="69.7" r="0.85"/><circle cx="104.9" cy="78.0" r="0.85"/><circle cx="114.6" cy="82.0" r="0.85"/><circle cx="112.9" cy="84.2" r="0.85"/><circle cx="116.6" cy="78.6" r="0.85"/><circle cx="115.0" cy="82.2" r="0.85"/><circle cx="113.4" cy="82.8" r="0.85"/><circle cx="114.9" cy="82.6" r="0.85"/><circle cx="112.9" cy="88.6" r="0.85"/><circle cx="116.2" cy="78.4" r="0.85"/><circle cx="116.1" cy="79.9" r="0.85"/><circle cx="110.6" cy="84.3" r="0.85"/><circle cx="118.3" cy="75.3" r="0.85"/><circle cx="114.5" cy="80.2" r="0.85"/><circle cx="115.8" cy="78.5" r="0.85"/><circle cx="120.3" cy="84.3" r="0.85"/><circle cx="117.9" cy="86.2" r="0.85"/><circle cx="122.2" cy="80.4" r="0.85"/><circle cx="121.3" cy="80.8" r="0.85"/><circle cx="119.7" cy="87.7" r="0.85"/><circle cx="118.1" cy="85.8" r="0.85"/><circle cx="122.8" cy="83.6" r="0.85"/><circle cx="120.4" cy="80.4" r="0.85"/><circle cx="119.7" cy="84.5" r="0.85"/><circle cx="123.8" cy="77.7" r="0.85"/><circle cx="123.8" cy="80.0" r="0.85"/><circle cx="124.0" cy="82.1" r="0.85"/><circle cx="121.4" cy="80.8" r="0.85"/><circle cx="125.6" cy="88.4" r="0.85"/><circle cx="122.1" cy="89.7" r="0.85"/><circle cx="127.5" cy="85.9" r="0.85"/><circle cx="123.3" cy="92.2" r="0.85"/><circle cx="123.2" cy="88.9" r="0.85"/><circle cx="122.5" cy="90.0" r="0.85"/><circle cx="126.3" cy="89.7" r="0.85"/><circle cx="127.0" cy="84.9" r="0.85"/><circle cx="122.9" cy="90.3" r="0.85"/><circle cx="125.6" cy="89.9" r="0.85"/><circle cx="125.0" cy="88.5" r="0.85"/><circle cx="130.2" cy="84.6" r="0.85"/><circle cx="124.9" cy="88.9" r="0.85"/><circle cx="129.6" cy="93.5" r="0.85"/><circle cx="129.1" cy="94.3" r="0.85"/><circle cx="133.1" cy="96.3" r="0.85"/><circle cx="125.7" cy="96.4" r="0.85"/><circle cx="127.6" cy="100.7" r="0.85"/><circle cx="126.8" cy="96.9" r="0.85"/><circle cx="128.1" cy="104.9" r="0.85"/><circle cx="129.5" cy="97.3" r="0.85"/><circle cx="128.0" cy="98.8" r="0.85"/><circle cx="131.2" cy="99.3" r="0.85"/><circle cx="127.4" cy="96.1" r="0.85"/><circle cx="128.5" cy="97.5" r="0.85"/><circle cx="127.1" cy="100.7" r="0.85"/><circle cx="135.3" cy="105.9" r="0.85"/><circle cx="138.2" cy="106.9" r="0.85"/><circle cx="134.8" cy="108.8" r="0.85"/><circle cx="140.0" cy="105.5" r="0.85"/><circle cx="136.8" cy="104.6" r="0.85"/><circle cx="135.7" cy="105.8" r="0.85"/><circle cx="137.1" cy="109.5" r="0.85"/><circle cx="137.6" cy="102.7" r="0.85"/><circle cx="138.5" cy="107.1" r="0.85"/><circle cx="132.8" cy="109.0" r="0.85"/><circle cx="134.1" cy="112.9" r="0.85"/><circle cx="131.3" cy="108.0" r="0.85"/><circle cx="133.5" cy="109.1" r="0.85"/><circle cx="135.8" cy="109.8" r="0.85"/><circle cx="138.6" cy="114.3" r="0.85"/><circle cx="135.3" cy="111.4" r="0.85"/><circle cx="134.3" cy="111.5" r="0.85"/><circle cx="134.4" cy="108.7" r="0.85"/><circle cx="138.3" cy="108.2" r="0.85"/><circle cx="140.7" cy="113.3" r="0.85"/><circle cx="137.3" cy="115.7" r="0.85"/><circle cx="140.6" cy="112.4" r="0.85"/><circle cx="135.0" cy="115.7" r="0.85"/><circle cx="137.2" cy="110.1" r="0.85"/><circle cx="139.1" cy="116.5" r="0.85"/><circle cx="138.0" cy="108.6" r="0.85"/><circle cx="139.6" cy="120.3" r="0.85"/><circle cx="142.6" cy="117.2" r="0.85"/><circle cx="137.8" cy="124.1" r="0.85"/><circle cx="141.9" cy="117.8" r="0.85"/><circle cx="143.4" cy="119.4" r="0.85"/><circle cx="143.9" cy="116.7" r="0.85"/><circle cx="144.2" cy="119.7" r="0.85"/><circle cx="142.0" cy="118.3" r="0.85"/><circle cx="142.5" cy="115.5" r="0.85"/><circle cx="142.7" cy="116.5" r="0.85"/><circle cx="143.2" cy="119.1" r="0.85"/><circle cx="138.7" cy="119.4" r="0.85"/><circle cx="139.2" cy="121.5" r="0.85"/><circle cx="143.4" cy="125.6" r="0.85"/><circle cx="142.9" cy="124.2" r="0.85"/><circle cx="143.4" cy="121.8" r="0.85"/><circle cx="146.0" cy="130.4" r="0.85"/><circle cx="142.4" cy="124.4" r="0.85"/><circle cx="146.8" cy="121.6" r="0.85"/><circle cx="141.9" cy="126.3" r="0.85"/><circle cx="144.8" cy="127.1" r="0.85"/><circle cx="145.6" cy="122.7" r="0.85"/><circle cx="145.1" cy="129.6" r="0.85"/><circle cx="147.8" cy="120.8" r="0.85"/><circle cx="137.5" cy="128.1" r="0.85"/><circle cx="143.2" cy="124.0" r="0.85"/><circle cx="152.5" cy="143.5" r="0.85"/><circle cx="152.3" cy="138.6" r="0.85"/><circle cx="153.6" cy="139.7" r="0.85"/><circle cx="150.0" cy="139.1" r="0.85"/><circle cx="153.0" cy="139.2" r="0.85"/><circle cx="149.8" cy="140.1" r="0.85"/><circle cx="151.2" cy="136.5" r="0.85"/><circle cx="147.4" cy="144.0" r="0.85"/><circle cx="149.2" cy="140.6" r="0.85"/><circle cx="149.1" cy="143.2" r="0.85"/><circle cx="153.5" cy="142.0" r="0.85"/><circle cx="153.5" cy="138.9" r="0.85"/><circle cx="149.7" cy="142.0" r="0.85"/></g>
<g fill="#d060dc" fill-opacity="0.90"><circle cx="33.3" cy="42.2" r="0.85"/><circle cx="35.9" cy="49.2" r="0.85"/><circle cx="35.4" cy="44.2" r="0.85"/><circle cx="35.1" cy="48.6" r="0.85"/><circle cx="35.0" cy="47.6" r="0.85"/><circle cx="35.6" cy="45.0" r="0.85"/><circle cx="33.5" cy="41.6" r="0.85"/><circle cx="35.6" cy="44.6" r="0.85"/><circle cx="33.4" cy="43.7" r="0.85"/><circle cx="34.0" cy="42.4" r="0.85"/><circle cx="34.1" cy="45.0" r="0.85"/><circle cx="33.9" cy="43.7" r="0.85"/><circle cx="34.4" cy="45.7" r="0.85"/><circle cx="42.4" cy="49.4" r="0.85"/><circle cx="42.1" cy="44.8" r="0.85"/><circle cx="39.3" cy="53.2" r="0.85"/><circle cx="41.1" cy="42.8" r="0.85"/><circle cx="40.6" cy="51.2" r="0.85"/><circle cx="39.9" cy="49.4" r="0.85"/><circle cx="39.4" cy="50.1" r="0.85"/><circle cx="41.0" cy="47.2" r="0.85"/><circle cx="40.5" cy="47.3" r="0.85"/><circle cx="41.9" cy="52.8" r="0.85"/><circle cx="38.8" cy="43.6" r="0.85"/><circle cx="40.6" cy="48.0" r="0.85"/><circle cx="39.6" cy="51.2" r="0.85"/><circle cx="52.9" cy="47.7" r="0.85"/><circle cx="51.3" cy="49.2" r="0.85"/><circle cx="51.4" cy="46.0" r="0.85"/><circle cx="51.8" cy="48.8" r="0.85"/><circle cx="53.3" cy="48.5" r="0.85"/><circle cx="53.5" cy="55.5" r="0.85"/><circle cx="53.4" cy="52.5" r="0.85"/><circle cx="51.9" cy="48.8" r="0.85"/><circle cx="51.7" cy="45.3" r="0.85"/><circle cx="51.7" cy="45.7" r="0.85"/><circle cx="53.3" cy="50.4" r="0.85"/><circle cx="51.5" cy="40.6" r="0.85"/><circle cx="51.7" cy="46.6" r="0.85"/><circle cx="58.3" cy="44.2" r="0.85"/><circle cx="59.2" cy="47.3" r="0.85"/><circle cx="60.1" cy="47.2" r="0.85"/><circle cx="58.7" cy="48.6" r="0.85"/><circle cx="57.6" cy="42.5" r="0.85"/><circle cx="59.2" cy="50.2" r="0.85"/><circle cx="58.5" cy="46.1" r="0.85"/><circle cx="59.3" cy="45.0" r="0.85"/><circle cx="59.4" cy="50.0" r="0.85"/><circle cx="57.6" cy="46.5" r="0.85"/><circle cx="58.3" cy="46.5" r="0.85"/><circle cx="58.9" cy="44.9" r="0.85"/><circle cx="57.8" cy="44.0" r="0.85"/><circle cx="64.2" cy="53.4" r="0.85"/><circle cx="67.4" cy="46.6" r="0.85"/><circle cx="65.0" cy="47.4" r="0.85"/><circle cx="68.0" cy="53.0" r="0.85"/><circle cx="65.4" cy="41.6" r="0.85"/><circle cx="64.8" cy="53.5" r="0.85"/><circle cx="67.6" cy="47.9" r="0.85"/><circle cx="65.0" cy="46.8" r="0.85"/><circle cx="63.7" cy="52.4" r="0.85"/><circle cx="64.5" cy="53.0" r="0.85"/><circle cx="64.1" cy="43.7" r="0.85"/><circle cx="66.1" cy="45.8" r="0.85"/><circle cx="66.5" cy="48.9" r="0.85"/><circle cx="72.3" cy="45.5" r="0.85"/><circle cx="73.9" cy="48.7" r="0.85"/><circle cx="74.9" cy="43.2" r="0.85"/><circle cx="74.7" cy="45.7" r="0.85"/><circle cx="73.0" cy="57.1" r="0.85"/><circle cx="74.5" cy="43.8" r="0.85"/><circle cx="74.6" cy="47.6" r="0.85"/><circle cx="74.7" cy="52.1" r="0.85"/><circle cx="74.0" cy="46.9" r="0.85"/><circle cx="74.1" cy="40.2" r="0.85"/><circle cx="73.6" cy="54.9" r="0.85"/><circle cx="73.4" cy="45.4" r="0.85"/><circle cx="73.8" cy="52.4" r="0.85"/><circle cx="83.5" cy="46.0" r="0.85"/><circle cx="84.4" cy="54.1" r="0.85"/><circle cx="83.2" cy="47.3" r="0.85"/><circle cx="81.3" cy="46.0" r="0.85"/><circle cx="84.1" cy="47.1" r="0.85"/><circle cx="81.6" cy="50.9" r="0.85"/><circle cx="83.1" cy="52.6" r="0.85"/><circle cx="83.4" cy="55.9" r="0.85"/><circle cx="82.0" cy="54.0" r="0.85"/><circle cx="81.9" cy="52.9" r="0.85"/><circle cx="83.1" cy="51.2" r="0.85"/><circle cx="84.0" cy="50.2" r="0.85"/><circle cx="84.0" cy="53.8" r="0.85"/><circle cx="91.4" cy="55.3" r="0.85"/><circle cx="90.3" cy="54.8" r="0.85"/><circle cx="91.4" cy="51.0" r="0.85"/><circle cx="93.2" cy="50.8" r="0.85"/><circle cx="89.8" cy="51.2" r="0.85"/><circle cx="90.6" cy="57.7" r="0.85"/><circle cx="88.8" cy="55.0" r="0.85"/><circle cx="91.9" cy="43.6" r="0.85"/><circle cx="92.0" cy="50.2" r="0.85"/><circle cx="91.7" cy="51.5" r="0.85"/><circle cx="91.2" cy="52.4" r="0.85"/><circle cx="92.1" cy="52.6" r="0.85"/><circle cx="92.3" cy="47.8" r="0.85"/><circle cx="100.2" cy="52.5" r="0.85"/><circle cx="99.3" cy="50.7" r="0.85"/><circle cx="100.5" cy="60.3" r="0.85"/><circle cx="98.9" cy="58.1" r="0.85"/><circle cx="99.5" cy="45.3" r="0.85"/><circle cx="99.9" cy="49.7" r="0.85"/><circle cx="99.1" cy="53.7" r="0.85"/><circle cx="103.2" cy="51.5" r="0.85"/><circle cx="99.7" cy="54.2" r="0.85"/><circle cx="99.1" cy="56.7" r="0.85"/><circle cx="102.4" cy="48.9" r="0.85"/><circle cx="100.1" cy="52.2" r="0.85"/><circle cx="101.1" cy="47.4" r="0.85"/><circle cx="107.0" cy="55.8" r="0.85"/><circle cx="106.1" cy="60.9" r="0.85"/><circle cx="108.6" cy="54.5" r="0.85"/><circle cx="104.7" cy="60.0" r="0.85"/><circle cx="107.2" cy="54.1" r="0.85"/><circle cx="105.4" cy="57.9" r="0.85"/><circle cx="106.5" cy="59.0" r="0.85"/><circle cx="106.2" cy="58.2" r="0.85"/><circle cx="106.2" cy="60.4" r="0.85"/><circle cx="108.0" cy="57.0" r="0.85"/><circle cx="106.4" cy="56.7" r="0.85"/><circle cx="107.6" cy="55.0" r="0.85"/><circle cx="109.4" cy="53.9" r="0.85"/><circle cx="114.6" cy="65.7" r="0.85"/><circle cx="114.8" cy="68.6" r="0.85"/><circle cx="118.7" cy="61.4" r="0.85"/><circle cx="114.2" cy="62.4" r="0.85"/><circle cx="118.1" cy="61.4" r="0.85"/><circle cx="115.9" cy="61.3" r="0.85"/><circle cx="115.0" cy="63.7" r="0.85"/><circle cx="117.6" cy="59.4" r="0.85"/><circle cx="113.6" cy="68.2" r="0.85"/><circle cx="113.5" cy="65.1" r="0.85"/><circle cx="114.7" cy="65.0" r="0.85"/><circle cx="117.6" cy="61.9" r="0.85"/><circle cx="114.1" cy="65.9" r="0.85"/><circle cx="122.3" cy="72.1" r="0.85"/><circle cx="121.7" cy="72.4" r="0.85"/><circle cx="124.4" cy="72.7" r="0.85"/><circle cx="119.2" cy="74.3" r="0.85"/><circle cx="119.5" cy="72.8" r="0.85"/><circle cx="119.6" cy="74.0" r="0.85"/><circle cx="125.2" cy="78.8" r="0.85"/><circle cx="122.1" cy="72.3" r="0.85"/><circle cx="116.4" cy="74.8" r="0.85"/><circle cx="121.5" cy="75.9" r="0.85"/><circle cx="115.0" cy="75.8" r="0.85"/><circle cx="122.7" cy="75.9" r="0.85"/><circle cx="120.0" cy="72.0" r="0.85"/><circle cx="126.9" cy="77.0" r="0.85"/><circle cx="122.3" cy="80.1" r="0.85"/><circle cx="125.4" cy="78.1" r="0.85"/><circle cx="124.0" cy="76.1" r="0.85"/><circle cx="121.4" cy="81.7" r="0.85"/><circle cx="125.2" cy="76.1" r="0.85"/><circle cx="123.9" cy="78.7" r="0.85"/><circle cx="124.7" cy="74.3" r="0.85"/><circle cx="122.5" cy="78.5" r="0.85"/><circle cx="125.0" cy="73.3" r="0.85"/><circle cx="127.2" cy="76.5" r="0.85"/><circle cx="123.4" cy="78.4" r="0.85"/><circle cx="126.1" cy="75.5" r="0.85"/><circle cx="131.2" cy="98.6" r="0.85"/><circle cx="126.2" cy="93.6" r="0.85"/><circle cx="133.6" cy="94.0" r="0.85"/><circle cx="132.6" cy="98.9" r="0.85"/><circle cx="128.2" cy="89.0" r="0.85"/><circle cx="129.4" cy="94.5" r="0.85"/><circle cx="133.2" cy="93.5" r="0.85"/><circle cx="129.6" cy="96.2" r="0.85"/><circle cx="130.9" cy="93.4" r="0.85"/><circle cx="130.1" cy="90.7" r="0.85"/><circle cx="130.5" cy="92.3" r="0.85"/><circle cx="134.5" cy="90.0" r="0.85"/><circle cx="132.9" cy="94.0" r="0.85"/><circle cx="131.1" cy="101.7" r="0.85"/><circle cx="135.0" cy="108.3" r="0.85"/><circle cx="136.7" cy="104.8" r="0.85"/><circle cx="133.8" cy="99.6" r="0.85"/><circle cx="134.8" cy="102.0" r="0.85"/><circle cx="135.9" cy="104.0" r="0.85"/><circle cx="134.1" cy="103.6" r="0.85"/><circle cx="130.8" cy="105.4" r="0.85"/><circle cx="135.1" cy="103.7" r="0.85"/><circle cx="136.0" cy="101.1" r="0.85"/><circle cx="135.9" cy="106.1" r="0.85"/><circle cx="135.0" cy="99.2" r="0.85"/><circle cx="135.7" cy="101.5" r="0.85"/><circle cx="140.1" cy="113.4" r="0.85"/><circle cx="138.5" cy="117.3" r="0.85"/><circle cx="138.7" cy="112.0" r="0.85"/><circle cx="138.6" cy="116.9" r="0.85"/><circle cx="138.1" cy="117.7" r="0.85"/><circle cx="140.8" cy="114.3" r="0.85"/><circle cx="139.6" cy="109.2" r="0.85"/><circle cx="136.9" cy="118.9" r="0.85"/><circle cx="141.2" cy="115.7" r="0.85"/><circle cx="135.8" cy="111.2" r="0.85"/><circle cx="138.8" cy="111.3" r="0.85"/><circle cx="142.5" cy="117.0" r="0.85"/><circle cx="137.7" cy="114.0" r="0.85"/><circle cx="136.3" cy="113.9" r="0.85"/><circle cx="146.6" cy="116.6" r="0.85"/><circle cx="146.0" cy="117.1" r="0.85"/><circle cx="141.6" cy="121.6" r="0.85"/><circle cx="144.9" cy="122.3" r="0.85"/><circle cx="139.0" cy="120.2" r="0.85"/><circle cx="142.3" cy="116.0" r="0.85"/><circle cx="141.1" cy="117.6" r="0.85"/><circle cx="139.2" cy="116.7" r="0.85"/><circle cx="141.7" cy="119.8" r="0.85"/><circle cx="143.8" cy="121.6" r="0.85"/><circle cx="143.8" cy="120.4" r="0.85"/><circle cx="146.3" cy="116.8" r="0.85"/><circle cx="148.3" cy="135.6" r="0.85"/><circle cx="144.1" cy="133.9" r="0.85"/><circle cx="144.6" cy="133.4" r="0.85"/><circle cx="150.2" cy="133.7" r="0.85"/><circle cx="144.9" cy="133.7" r="0.85"/><circle cx="143.1" cy="128.6" r="0.85"/><circle cx="145.5" cy="132.7" r="0.85"/><circle cx="148.1" cy="130.4" r="0.85"/><circle cx="148.5" cy="124.9" r="0.85"/><circle cx="146.9" cy="129.9" r="0.85"/><circle cx="145.8" cy="129.6" r="0.85"/><circle cx="146.9" cy="133.2" r="0.85"/><circle cx="146.8" cy="134.1" r="0.85"/><circle cx="147.8" cy="137.5" r="0.85"/><circle cx="149.3" cy="140.5" r="0.85"/><circle cx="152.9" cy="136.5" r="0.85"/><circle cx="149.7" cy="132.7" r="0.85"/><circle cx="146.8" cy="140.3" r="0.85"/><circle cx="147.7" cy="134.3" r="0.85"/><circle cx="150.4" cy="133.6" r="0.85"/><circle cx="147.8" cy="137.2" r="0.85"/><circle cx="147.2" cy="139.1" r="0.85"/><circle cx="146.7" cy="135.8" r="0.85"/><circle cx="150.4" cy="139.1" r="0.85"/><circle cx="151.3" cy="137.0" r="0.85"/><circle cx="149.4" cy="133.5" r="0.85"/></g>
<path d="M31.7,106.6 32.7,106.6 33.7,106.6 34.7,106.6 35.7,106.7 36.7,106.7 37.7,106.7 38.7,106.7 39.7,106.7 40.7,106.7 41.7,106.8 42.7,106.8 43.7,106.8 44.7,106.8 45.7,106.8 46.7,106.8 47.7,106.9 48.7,106.9 49.7,106.9 50.7,106.9 51.7,106.9 52.7,106.9 53.7,106.9 54.7,107.0 55.7,107.0 56.7,107.0 57.7,107.0 58.7,107.0 59.7,107.0 60.7,107.0 61.7,107.1 62.7,107.1 63.7,107.1 64.7,107.1 65.7,107.1 66.7,107.1 67.7,107.1 68.7,107.1 69.7,107.1 70.7,107.2 71.7,107.2 72.7,107.2 73.7,107.2 74.7,107.2 75.7,107.2 76.7,107.2 77.7,107.2 78.7,107.2 79.7,107.3 80.7,107.3 81.7,107.3 82.7,107.3 83.7,107.3 84.7,107.3 85.7,107.3 86.7,107.3 87.7,107.4 88.7,107.4 89.7,107.4 90.7,107.4 91.7,107.5 92.7,107.5 93.7,107.5 94.7,107.6 95.7,107.6 96.7,107.7 97.7,107.7 98.7,107.8 99.7,107.8 100.7,107.9 101.7,107.9 102.7,108.0 103.7,108.1 104.7,108.2 105.7,108.2 106.7,108.3 107.7,108.4 108.7,108.6 109.7,108.7 110.7,108.8 111.7,109.0 112.7,109.1 113.7,109.3 114.7,109.5 115.7,109.7 116.7,110.0 117.7,110.3 118.7,110.7 119.7,111.1 120.7,111.6 121.7,112.1 122.7,112.7 123.7,113.4 124.7,114.1 125.7,114.8 126.7,115.6 127.7,116.4 128.7,117.3 129.7,118.2 130.7,119.2 131.7,120.2 132.7,121.3 133.7,122.3 134.7,123.5 135.7,124.6 136.7,125.7 137.7,126.9 138.7,128.0 139.7,129.1 140.7,130.2 141.7,131.3 142.7,132.3 143.7,133.4 144.7,134.3 145.7,135.3 146.7,136.2 147.7,137.1 148.7,138.1 149.7,139.0 150.7,140.1 151.7,141.1 152.7,142.3 153.7,143.4 154.7,144.6 154.9,144.9" fill="none" stroke="#ff3b3b" stroke-width="1.20" stroke-opacity="1.00" stroke-linejoin="round"/>
<path d="M31.7,80.0 32.7,80.0 33.7,80.1 34.7,80.1 35.7,80.2 36.7,80.2 37.7,80.3 38.7,80.3 39.7,80.4 40.7,80.4 41.7,80.5 42.7,80.5 43.7,80.6 44.7,80.6 45.7,80.7 46.7,80.7 47.7,80.8 48.7,80.9 49.7,80.9 50.7,81.0 51.7,81.0 52.7,81.1 53.7,81.1 54.7,81.2 55.7,81.2 56.7,81.3 57.7,81.4 58.7,81.4 59.7,81.5 60.7,81.5 61.7,81.6 62.7,81.6 63.7,81.7 64.7,81.8 65.7,81.8 66.7,81.9 67.7,81.9 68.7,82.0 69.7,82.1 70.7,82.1 71.7,82.2 72.7,82.3 73.7,82.3 74.7,82.4 75.7,82.4 76.7,82.5 77.7,82.6 78.7,82.6 79.7,82.7 80.7,82.8 81.7,82.8 82.7,82.9 83.7,83.0 84.7,83.1 85.7,83.1 86.7,83.2 87.7,83.3 88.7,83.4 89.7,83.4 90.7,83.5 91.7,83.6 92.7,83.7 93.7,83.7 94.7,83.8 95.7,83.9 96.7,84.0 97.7,84.0 98.7,84.1 99.7,84.2 100.7,84.3 101.7,84.4 102.7,84.5 103.7,84.6 104.7,84.7 105.7,84.8 106.7,85.0 107.7,85.1 108.7,85.3 109.7,85.5 110.7,85.8 111.7,86.1 112.7,86.4 113.7,86.9 114.7,87.3 115.7,87.8 116.7,88.4 117.7,89.0 118.7,89.7 119.7,90.4 120.7,91.1 121.7,92.0 122.7,92.9 123.7,93.8 124.7,94.9 125.7,96.0 126.7,97.2 127.7,98.4 128.7,99.8 129.7,101.2 130.7,102.6 131.7,104.2 132.7,105.8 133.7,107.5 134.7,109.2 135.7,111.0 136.7,112.9 137.7,114.8 138.7,116.7 139.7,118.7 140.7,120.7 141.7,122.7 142.7,124.7 143.7,126.7 144.7,128.7 145.7,130.6 146.7,132.4 147.7,134.2 148.7,135.9 149.7,137.5 150.7,139.1 151.7,140.6 152.7,142.0 153.7,143.3 154.7,144.6 154.9,144.9" fill="none" stroke="#3a3aff" stroke-width="1.20" stroke-opacity="1.00" stroke-linejoin="round"/>
<path d="M31.7,68.6 32.7,68.7 33.7,68.8 34.7,68.8 35.7,68.9 36.7,69.0 37.7,69.1 38.7,69.2 39.7,69.2 40.7,69.3 41.7,69.4 42.7,69.5 43.7,69.6 44.7,69.6 45.7,69.7 46.7,69.8 47.7,69.9 48.7,70.0 49.7,70.0 50.7,70.1 51.7,70.2 52.7,70.3 53.7,70.3 54.7,70.4 55.7,70.5 56.7,70.6 57.7,70.6 58.7,70.7 59.7,70.8 60.7,70.9 61.7,70.9 62.7,71.0 63.7,71.1 64.7,71.2 65.7,71.2 66.7,71.3 67.7,71.4 68.7,71.4 69.7,71.5 70.7,71.6 71.7,71.6 72.7,71.7 73.7,71.7 74.7,71.8 75.7,71.9 76.7,71.9 77.7,72.0 78.7,72.0 79.7,72.1 80.7,72.2 81.7,72.2 82.7,72.3 83.7,72.4 84.7,72.4 85.7,72.5 86.7,72.6 87.7,72.7 88.7,72.7 89.7,72.8 90.7,72.9 91.7,73.0 92.7,73.1 93.7,73.2 94.7,73.3 95.7,73.4 96.7,73.5 97.7,73.6 98.7,73.7 99.7,73.8 100.7,73.9 101.7,74.1 102.7,74.2 103.7,74.4 104.7,74.6 105.7,74.7 106.7,75.0 107.7,75.2 108.7,75.5 109.7,75.8 110.7,76.2 111.7,76.7 112.7,77.2 113.7,77.8 114.7,78.5 115.7,79.3 116.7,80.1 117.7,81.0 118.7,82.0 119.7,83.0 120.7,84.0 121.7,85.1 122.7,86.2 123.7,87.4 124.7,88.7 125.7,90.1 126.7,91.5 127.7,93.0 128.7,94.5 129.7,96.2 130.7,97.9 131.7,99.8 132.7,101.7 133.7,103.6 134.7,105.7 135.7,107.8 136.7,110.0 137.7,112.2 138.7,114.4 139.7,116.7 140.7,118.9 141.7,121.0 142.7,123.2 143.7,125.3 144.7,127.4 145.7,129.4 146.7,131.4 147.7,133.3 148.7,135.2 149.7,137.0 150.7,138.8 151.7,140.4 152.7,141.9 153.7,143.3 154.7,144.6 154.9,145.0" fill="none" stroke="#33a033" stroke-width="1.20" stroke-opacity="1.00" stroke-linejoin="round"/>
<path d="M31.7,47.4 32.7,47.4 33.7,47.4 34.7,47.5 35.7,47.5 36.7,47.5 37.7,47.6 38.7,47.6 39.7,47.6 40.7,47.7 41.7,47.7 42.7,47.7 43.7,47.8 44.7,47.8 45.7,47.8 46.7,47.9 47.7,47.9 48.7,48.0 49.7,48.0 50.7,48.1 51.7,48.1 52.7,48.1 53.7,48.2 54.7,48.2 55.7,48.3 56.7,48.3 57.7,48.4 58.7,48.4 59.7,48.5 60.7,48.6 61.7,48.6 62.7,48.7 63.7,48.7 64.7,48.8 65.7,48.8 66.7,48.9 67.7,48.9 68.7,49.0 69.7,49.0 70.7,49.1 71.7,49.2 72.7,49.2 73.7,49.3 74.7,49.3 75.7,49.4 76.7,49.5 77.7,49.5 78.7,49.6 79.7,49.7 80.7,49.8 81.7,49.9 82.7,49.9 83.7,50.0 84.7,50.1 85.7,50.2 86.7,50.3 87.7,50.4 88.7,50.5 89.7,50.7 90.7,50.8 91.7,51.0 92.7,51.1 93.7,51.3 94.7,51.5 95.7,51.7 96.7,52.0 97.7,52.3 98.7,52.6 99.7,52.9 100.7,53.2 101.7,53.6 102.7,53.9 103.7,54.3 104.7,54.8 105.7,55.3 106.7,55.8 107.7,56.4 108.7,57.0 109.7,57.7 110.7,58.4 111.7,59.2 112.7,60.1 113.7,61.1 114.7,62.2 115.7,63.4 116.7,64.7 117.7,66.1 118.7,67.7 119.7,69.3 120.7,71.1 121.7,72.9 122.7,74.8 123.7,76.9 124.7,79.0 125.7,81.2 126.7,83.4 127.7,85.8 128.7,88.2 129.7,90.6 130.7,92.9 131.7,95.3 132.7,97.7 133.7,100.1 134.7,102.4 135.7,104.8 136.7,107.2 137.7,109.6 138.7,112.0 139.7,114.4 140.7,116.7 141.7,119.0 142.7,121.3 143.7,123.5 144.7,125.7 145.7,127.9 146.7,130.1 147.7,132.3 148.7,134.4 149.7,136.4 150.7,138.3 151.7,140.1 152.7,141.7 153.7,143.2 154.7,144.6 154.9,145.0" fill="none" stroke="#cc3ad6" stroke-width="1.20" stroke-opacity="1.00" stroke-linejoin="round"/>
<g fill="#ff5a5a" fill-opacity="0.90"><circle cx="182.1" cy="48.6" r="0.85"/><circle cx="182.0" cy="45.4" r="0.85"/><circle cx="181.8" cy="53.9" r="0.85"/><circle cx="181.3" cy="48.5" r="0.85"/><circle cx="182.8" cy="48.3" r="0.85"/><circle cx="181.8" cy="45.9" r="0.85"/><circle cx="181.9" cy="45.4" r="0.85"/><circle cx="183.5" cy="48.5" r="0.85"/><circle cx="184.4" cy="40.8" r="0.85"/><circle cx="183.5" cy="39.3" r="0.85"/><circle cx="192.4" cy="44.0" r="0.85"/><circle cx="190.7" cy="51.1" r="0.85"/><circle cx="190.1" cy="52.0" r="0.85"/><circle cx="191.9" cy="45.1" r="0.85"/><circle cx="187.3" cy="51.4" r="0.85"/><circle cx="189.6" cy="49.4" r="0.85"/><circle cx="193.1" cy="41.6" r="0.85"/><circle cx="190.0" cy="48.7" r="0.85"/><circle cx="188.4" cy="53.7" r="0.85"/><circle cx="190.9" cy="47.8" r="0.85"/><circle cx="187.8" cy="56.4" r="0.85"/><circle cx="188.4" cy="55.3" r="0.85"/><circle cx="193.0" cy="42.1" r="0.85"/><circle cx="197.1" cy="56.8" r="0.85"/><circle cx="197.1" cy="58.7" r="0.85"/><circle cx="197.7" cy="52.0" r="0.85"/><circle cx="198.2" cy="63.1" r="0.85"/><circle cx="194.7" cy="64.9" r="0.85"/><circle cx="202.4" cy="44.6" r="0.85"/><circle cx="196.9" cy="61.5" r="0.85"/><circle cx="198.2" cy="55.4" r="0.85"/><circle cx="198.7" cy="58.4" r="0.85"/><circle cx="195.7" cy="55.1" r="0.85"/><circle cx="199.9" cy="49.1" r="0.85"/><circle cx="199.2" cy="56.3" r="0.85"/><circle cx="196.7" cy="54.3" r="0.85"/><circle cx="203.2" cy="64.5" r="0.85"/><circle cx="201.3" cy="69.2" r="0.85"/><circle cx="206.6" cy="52.8" r="0.85"/><circle cx="205.5" cy="62.5" r="0.85"/><circle cx="203.5" cy="62.7" r="0.85"/><circle cx="205.0" cy="53.2" r="0.85"/><circle cx="207.0" cy="58.1" r="0.85"/><circle cx="203.5" cy="61.3" r="0.85"/><circle cx="206.5" cy="59.3" r="0.85"/><circle cx="204.2" cy="56.4" r="0.85"/><circle cx="204.9" cy="63.5" r="0.85"/><circle cx="207.8" cy="58.5" r="0.85"/><circle cx="205.1" cy="58.6" r="0.85"/><circle cx="217.2" cy="53.3" r="0.85"/><circle cx="217.8" cy="63.3" r="0.85"/><circle cx="214.7" cy="64.5" r="0.85"/><circle cx="213.7" cy="69.5" r="0.85"/><circle cx="215.0" cy="62.8" r="0.85"/><circle cx="214.4" cy="70.6" r="0.85"/><circle cx="215.6" cy="59.8" r="0.85"/><circle cx="217.1" cy="63.5" r="0.85"/><circle cx="216.2" cy="65.1" r="0.85"/><circle cx="216.9" cy="58.6" r="0.85"/><circle cx="215.7" cy="62.7" r="0.85"/><circle cx="212.5" cy="73.0" r="0.85"/><circle cx="215.3" cy="58.4" r="0.85"/><circle cx="219.5" cy="64.9" r="0.85"/><circle cx="218.7" cy="73.2" r="0.85"/><circle cx="218.3" cy="60.2" r="0.85"/><circle cx="220.5" cy="62.3" r="0.85"/><circle cx="220.7" cy="67.7" r="0.85"/><circle cx="221.5" cy="62.7" r="0.85"/><circle cx="220.8" cy="67.5" r="0.85"/><circle cx="219.3" cy="63.1" r="0.85"/><circle cx="221.0" cy="58.2" r="0.85"/><circle cx="220.9" cy="65.7" r="0.85"/><circle cx="222.1" cy="60.5" r="0.85"/><circle cx="221.8" cy="60.1" r="0.85"/><circle cx="220.2" cy="69.3" r="0.85"/><circle cx="230.5" cy="64.6" r="0.85"/><circle cx="226.6" cy="73.0" r="0.85"/><circle cx="227.8" cy="69.5" r="0.85"/><circle cx="230.6" cy="64.1" r="0.85"/><circle cx="229.8" cy="67.3" r="0.85"/><circle cx="228.5" cy="65.2" r="0.85"/><circle cx="229.7" cy="72.7" r="0.85"/><circle cx="229.9" cy="64.7" r="0.85"/><circle cx="231.4" cy="62.9" r="0.85"/><circle cx="226.2" cy="75.3" r="0.85"/><circle cx="229.9" cy="67.2" r="0.85"/><circle cx="229.4" cy="67.4" r="0.85"/><circle cx="225.8" cy="73.5" r="0.85"/><circle cx="233.3" cy="82.2" r="0.85"/><circle cx="234.9" cy="72.3" r="0.85"/><circle cx="236.0" cy="75.5" r="0.85"/><circle cx="235.7" cy="74.7" r="0.85"/><circle cx="237.9" cy="71.7" r="0.85"/><circle cx="236.7" cy="70.9" r="0.85"/><circle cx="236.2" cy="70.5" r="0.85"/><circle cx="236.3" cy="73.1" r="0.85"/><circle cx="236.3" cy="79.9" r="0.85"/><circle cx="235.5" cy="75.2" r="0.85"/><circle cx="236.1" cy="76.4" r="0.85"/><circle cx="236.5" cy="73.6" r="0.85"/><circle cx="237.6" cy="67.6" r="0.85"/><circle cx="245.1" cy="73.2" r="0.85"/><circle cx="241.6" cy="85.8" r="0.85"/><circle cx="244.2" cy="80.2" r="0.85"/><circle cx="247.9" cy="67.6" r="0.85"/><circle cx="244.0" cy="80.1" r="0.85"/><circle cx="245.9" cy="70.3" r="0.85"/><circle cx="245.5" cy="74.9" r="0.85"/><circle cx="246.3" cy="74.2" r="0.85"/><circle cx="243.2" cy="81.6" r="0.85"/><circle cx="244.0" cy="82.4" r="0.85"/><circle cx="241.3" cy="87.2" r="0.85"/><circle cx="244.5" cy="72.5" r="0.85"/><circle cx="242.6" cy="83.1" r="0.85"/><circle cx="253.8" cy="77.5" r="0.85"/><circle cx="251.8" cy="78.2" r="0.85"/><circle cx="250.1" cy="88.5" r="0.85"/><circle cx="250.3" cy="84.1" r="0.85"/><circle cx="252.6" cy="77.0" r="0.85"/><circle cx="252.1" cy="80.7" r="0.85"/><circle cx="251.1" cy="89.3" r="0.85"/><circle cx="250.2" cy="86.3" r="0.85"/><circle cx="252.6" cy="84.2" r="0.85"/><circle cx="250.8" cy="83.9" r="0.85"/><circle cx="252.2" cy="81.2" r="0.85"/><circle cx="251.6" cy="82.8" r="0.85"/><circle cx="252.3" cy="86.0" r="0.85"/><circle cx="257.6" cy="89.0" r="0.85"/><circle cx="264.3" cy="71.7" r="0.85"/><circle cx="262.0" cy="80.7" r="0.85"/><circle cx="260.8" cy="84.2" r="0.85"/><circle cx="262.3" cy="75.2" r="0.85"/><circle cx="259.4" cy="87.2" r="0.85"/><circle cx="262.1" cy="75.3" r="0.85"/><circle cx="258.5" cy="93.6" r="0.85"/><circle cx="258.7" cy="88.8" r="0.85"/><circle cx="260.7" cy="85.4" r="0.85"/><circle cx="263.9" cy="78.9" r="0.85"/><circle cx="261.5" cy="81.3" r="0.85"/><circle cx="261.5" cy="83.9" r="0.85"/><circle cx="266.5" cy="92.2" r="0.85"/><circle cx="269.2" cy="89.7" r="0.85"/><circle cx="269.4" cy="85.4" r="0.85"/><circle cx="271.9" cy="83.3" r="0.85"/><circle cx="270.3" cy="84.3" r="0.85"/><circle cx="266.1" cy="89.9" r="0.85"/><circle cx="268.7" cy="88.2" r="0.85"/><circle cx="272.9" cy="81.5" r="0.85"/><circle cx="268.1" cy="89.4" r="0.85"/><circle cx="272.0" cy="83.4" r="0.85"/><circle cx="269.0" cy="89.6" r="0.85"/><circle cx="267.6" cy="94.3" r="0.85"/><circle cx="264.7" cy="98.7" r="0.85"/><circle cx="273.9" cy="98.9" r="0.85"/><circle cx="270.8" cy="96.9" r="0.85"/><circle cx="277.4" cy="92.6" r="0.85"/><circle cx="272.9" cy="101.5" r="0.85"/><circle cx="270.0" cy="96.1" r="0.85"/><circle cx="278.7" cy="88.2" r="0.85"/><circle cx="279.3" cy="91.3" r="0.85"/><circle cx="274.4" cy="94.7" r="0.85"/><circle cx="277.5" cy="90.5" r="0.85"/><circle cx="273.2" cy="91.2" r="0.85"/><circle cx="272.5" cy="100.0" r="0.85"/><circle cx="275.2" cy="98.1" r="0.85"/><circle cx="277.3" cy="92.3" r="0.85"/><circle cx="280.5" cy="102.2" r="0.85"/><circle cx="278.1" cy="98.1" r="0.85"/><circle cx="278.0" cy="102.8" r="0.85"/><circle cx="276.5" cy="100.0" r="0.85"/><circle cx="276.4" cy="101.1" r="0.85"/><circle cx="282.4" cy="95.4" r="0.85"/><circle cx="275.9" cy="102.2" r="0.85"/><circle cx="277.4" cy="97.7" r="0.85"/><circle cx="280.2" cy="100.8" r="0.85"/><circle cx="271.2" cy="104.2" r="0.85"/><circle cx="275.8" cy="104.4" r="0.85"/><circle cx="272.2" cy="102.6" r="0.85"/><circle cx="278.1" cy="95.4" r="0.85"/><circle cx="283.9" cy="100.9" r="0.85"/><circle cx="277.7" cy="102.9" r="0.85"/><circle cx="282.4" cy="105.1" r="0.85"/><circle cx="277.4" cy="106.9" r="0.85"/><circle cx="279.6" cy="106.4" r="0.85"/><circle cx="278.4" cy="106.5" r="0.85"/><circle cx="283.8" cy="102.1" r="0.85"/><circle cx="279.4" cy="108.4" r="0.85"/><circle cx="279.1" cy="103.7" r="0.85"/><circle cx="279.7" cy="106.6" r="0.85"/><circle cx="283.1" cy="114.3" r="0.85"/><circle cx="282.1" cy="104.5" r="0.85"/><circle cx="289.2" cy="97.4" r="0.85"/><circle cx="284.7" cy="124.3" r="0.85"/><circle cx="284.8" cy="119.4" r="0.85"/><circle cx="286.2" cy="120.0" r="0.85"/><circle cx="289.9" cy="122.3" r="0.85"/><circle cx="290.3" cy="112.6" r="0.85"/><circle cx="287.9" cy="117.9" r="0.85"/><circle cx="284.4" cy="121.6" r="0.85"/><circle cx="286.9" cy="125.5" r="0.85"/><circle cx="289.1" cy="120.1" r="0.85"/><circle cx="282.4" cy="124.7" r="0.85"/><circle cx="293.9" cy="119.9" r="0.85"/><circle cx="282.0" cy="125.9" r="0.85"/><circle cx="291.9" cy="119.5" r="0.85"/><circle cx="284.2" cy="134.4" r="0.85"/><circle cx="285.9" cy="129.3" r="0.85"/><circle cx="289.4" cy="125.6" r="0.85"/><circle cx="291.9" cy="128.7" r="0.85"/><circle cx="289.4" cy="133.2" r="0.85"/><circle cx="292.5" cy="122.4" r="0.85"/><circle cx="295.8" cy="123.0" r="0.85"/><circle cx="291.8" cy="131.4" r="0.85"/><circle cx="288.7" cy="127.1" r="0.85"/><circle cx="284.6" cy="130.1" r="0.85"/><circle cx="288.1" cy="134.3" r="0.85"/><circle cx="286.7" cy="132.3" r="0.85"/><circle cx="290.0" cy="130.0" r="0.85"/><circle cx="290.7" cy="135.8" r="0.85"/><circle cx="292.4" cy="136.8" r="0.85"/><circle cx="298.8" cy="136.3" r="0.85"/><circle cx="295.9" cy="135.5" r="0.85"/><circle cx="287.0" cy="139.1" r="0.85"/><circle cx="291.4" cy="134.0" r="0.85"/><circle cx="288.5" cy="137.3" r="0.85"/><circle cx="296.7" cy="131.2" r="0.85"/><circle cx="293.8" cy="137.6" r="0.85"/><circle cx="288.3" cy="138.3" r="0.85"/><circle cx="292.5" cy="133.9" r="0.85"/><circle cx="291.0" cy="138.2" r="0.85"/><circle cx="288.3" cy="137.7" r="0.85"/><circle cx="302.1" cy="145.1" r="0.85"/><circle cx="299.9" cy="154.8" r="0.85"/><circle cx="300.6" cy="148.1" r="0.85"/><circle cx="300.9" cy="145.0" r="0.85"/><circle cx="298.0" cy="150.3" r="0.85"/><circle cx="297.4" cy="154.5" r="0.85"/><circle cx="300.5" cy="150.5" r="0.85"/><circle cx="299.1" cy="151.2" r="0.85"/><circle cx="301.4" cy="147.0" r="0.85"/><circle cx="300.3" cy="148.1" r="0.85"/><circle cx="302.2" cy="150.6" r="0.85"/><circle cx="301.6" cy="155.5" r="0.85"/><circle cx="301.0" cy="155.1" r="0.85"/><circle cx="301.7" cy="151.8" r="0.85"/><circle cx="300.6" cy="152.3" r="0.85"/><circle cx="302.3" cy="151.9" r="0.85"/><circle cx="301.3" cy="153.8" r="0.85"/><circle cx="298.4" cy="154.6" r="0.85"/><circle cx="301.8" cy="149.6" r="0.85"/></g>
<g fill="#5a5aff" fill-opacity="0.90"><circle cx="183.4" cy="61.9" r="0.85"/><circle cx="183.4" cy="51.8" r="0.85"/><circle cx="184.4" cy="50.6" r="0.85"/><circle cx="182.1" cy="62.2" r="0.85"/><circle cx="182.1" cy="50.4" r="0.85"/><circle cx="182.9" cy="58.8" r="0.85"/><circle cx="183.5" cy="54.8" r="0.85"/><circle cx="182.8" cy="53.9" r="0.85"/><circle cx="182.8" cy="51.9" r="0.85"/><circle cx="181.1" cy="58.8" r="0.85"/><circle cx="182.9" cy="47.8" r="0.85"/><circle cx="190.9" cy="62.9" r="0.85"/><circle cx="189.2" cy="62.1" r="0.85"/><circle cx="192.3" cy="50.7" r="0.85"/><circle cx="191.5" cy="60.1" r="0.85"/><circle cx="193.6" cy="48.3" r="0.85"/><circle cx="191.7" cy="56.2" r="0.85"/><circle cx="191.4" cy="56.1" r="0.85"/><circle cx="190.3" cy="54.5" r="0.85"/><circle cx="191.8" cy="63.5" r="0.85"/><circle cx="191.8" cy="54.6" r="0.85"/><circle cx="190.9" cy="61.2" r="0.85"/><circle cx="193.3" cy="53.5" r="0.85"/><circle cx="191.5" cy="57.8" r="0.85"/><circle cx="197.2" cy="57.3" r="0.85"/><circle cx="195.9" cy="58.1" r="0.85"/><circle cx="196.9" cy="56.0" r="0.85"/><circle cx="196.1" cy="65.9" r="0.85"/><circle cx="195.3" cy="57.5" r="0.85"/><circle cx="199.5" cy="51.5" r="0.85"/><circle cx="197.3" cy="60.2" r="0.85"/><circle cx="196.2" cy="63.3" r="0.85"/><circle cx="198.9" cy="55.3" r="0.85"/><circle cx="196.9" cy="60.3" r="0.85"/><circle cx="198.4" cy="54.7" r="0.85"/><circle cx="194.9" cy="61.7" r="0.85"/><circle cx="195.9" cy="65.9" r="0.85"/><circle cx="207.5" cy="60.4" r="0.85"/><circle cx="206.0" cy="65.4" r="0.85"/><circle cx="204.0" cy="71.3" r="0.85"/><circle cx="205.5" cy="62.8" r="0.85"/><circle cx="205.2" cy="66.8" r="0.85"/><circle cx="204.0" cy="63.9" r="0.85"/><circle cx="204.3" cy="65.4" r="0.85"/><circle cx="206.8" cy="64.3" r="0.85"/><circle cx="205.3" cy="64.1" r="0.85"/><circle cx="202.0" cy="65.0" r="0.85"/><circle cx="206.0" cy="64.3" r="0.85"/><circle cx="205.9" cy="60.8" r="0.85"/><circle cx="204.3" cy="67.7" r="0.85"/><circle cx="212.5" cy="64.7" r="0.85"/><circle cx="216.9" cy="65.5" r="0.85"/><circle cx="214.0" cy="68.6" r="0.85"/><circle cx="215.4" cy="60.0" r="0.85"/><circle cx="214.7" cy="62.1" r="0.85"/><circle cx="213.2" cy="64.2" r="0.85"/><circle cx="210.8" cy="73.1" r="0.85"/><circle cx="216.5" cy="61.8" r="0.85"/><circle cx="213.5" cy="64.1" r="0.85"/><circle cx="214.9" cy="61.2" r="0.85"/><circle cx="211.7" cy="66.1" r="0.85"/><circle cx="211.2" cy="70.3" r="0.85"/><circle cx="212.5" cy="67.6" r="0.85"/><circle cx="217.2" cy="80.1" r="0.85"/><circle cx="220.3" cy="71.1" r="0.85"/><circle cx="220.6" cy="73.8" r="0.85"/><circle cx="220.6" cy="72.6" r="0.85"/><circle cx="223.3" cy="72.5" r="0.85"/><circle cx="220.0" cy="71.8" r="0.85"/><circle cx="221.0" cy="69.5" r="0.85"/><circle cx="221.2" cy="72.4" r="0.85"/><circle cx="220.2" cy="73.9" r="0.85"/><circle cx="222.5" cy="66.6" r="0.85"/><circle cx="222.6" cy="70.3" r="0.85"/><circle cx="223.2" cy="69.5" r="0.85"/><circle cx="221.6" cy="72.5" r="0.85"/><circle cx="231.3" cy="75.7" r="0.85"/><circle cx="231.6" cy="71.9" r="0.85"/><circle cx="230.9" cy="74.7" r="0.85"/><circle cx="228.0" cy="75.3" r="0.85"/><circle cx="229.4" cy="78.2" r="0.85"/><circle cx="230.8" cy="76.2" r="0.85"/><circle cx="228.5" cy="81.0" r="0.85"/><circle cx="229.5" cy="79.2" r="0.85"/><circle cx="229.4" cy="80.4" r="0.85"/><circle cx="232.4" cy="72.1" r="0.85"/><circle cx="229.2" cy="81.3" r="0.85"/><circle cx="232.0" cy="75.1" r="0.85"/><circle cx="231.0" cy="79.5" r="0.85"/><circle cx="238.7" cy="81.5" r="0.85"/><circle cx="238.8" cy="84.4" r="0.85"/><circle cx="241.6" cy="76.9" r="0.85"/><circle cx="240.5" cy="79.2" r="0.85"/><circle cx="237.2" cy="85.0" r="0.85"/><circle cx="239.8" cy="76.8" r="0.85"/><circle cx="240.0" cy="76.9" r="0.85"/><circle cx="240.1" cy="81.8" r="0.85"/><circle cx="240.4" cy="82.1" r="0.85"/><circle cx="237.9" cy="83.4" r="0.85"/><circle cx="239.3" cy="78.1" r="0.85"/><circle cx="239.3" cy="80.1" r="0.85"/><circle cx="241.3" cy="78.5" r="0.85"/><circle cx="248.7" cy="86.5" r="0.85"/><circle cx="248.7" cy="80.9" r="0.85"/><circle cx="248.1" cy="85.6" r="0.85"/><circle cx="247.6" cy="89.5" r="0.85"/><circle cx="248.5" cy="88.4" r="0.85"/><circle cx="246.2" cy="85.7" r="0.85"/><circle cx="247.6" cy="81.2" r="0.85"/><circle cx="248.4" cy="79.7" r="0.85"/><circle cx="245.6" cy="88.9" r="0.85"/><circle cx="246.2" cy="89.8" r="0.85"/><circle cx="249.9" cy="78.0" r="0.85"/><circle cx="245.6" cy="89.6" r="0.85"/><circle cx="249.2" cy="84.1" r="0.85"/><circle cx="251.1" cy="84.3" r="0.85"/><circle cx="253.1" cy="87.1" r="0.85"/><circle cx="251.4" cy="86.8" r="0.85"/><circle cx="254.2" cy="83.4" r="0.85"/><circle cx="253.9" cy="86.9" r="0.85"/><circle cx="253.6" cy="85.1" r="0.85"/><circle cx="253.5" cy="87.3" r="0.85"/><circle cx="253.7" cy="88.8" r="0.85"/><circle cx="252.7" cy="85.6" r="0.85"/><circle cx="254.4" cy="85.8" r="0.85"/><circle cx="253.0" cy="88.7" r="0.85"/><circle cx="255.3" cy="78.5" r="0.85"/><circle cx="253.0" cy="87.5" r="0.85"/><circle cx="258.9" cy="101.9" r="0.85"/><circle cx="261.7" cy="92.1" r="0.85"/><circle cx="260.1" cy="97.3" r="0.85"/><circle cx="261.9" cy="93.2" r="0.85"/><circle cx="263.9" cy="92.6" r="0.85"/><circle cx="263.6" cy="91.9" r="0.85"/><circle cx="263.6" cy="90.0" r="0.85"/><circle cx="263.8" cy="92.5" r="0.85"/><circle cx="262.7" cy="91.1" r="0.85"/><circle cx="267.1" cy="91.6" r="0.85"/><circle cx="263.4" cy="91.1" r="0.85"/><circle cx="261.9" cy="95.5" r="0.85"/><circle cx="262.0" cy="93.5" r="0.85"/><circle cx="271.2" cy="94.1" r="0.85"/><circle cx="262.9" cy="106.5" r="0.85"/><circle cx="267.0" cy="102.3" r="0.85"/><circle cx="267.2" cy="104.2" r="0.85"/><circle cx="270.3" cy="97.1" r="0.85"/><circle cx="271.8" cy="92.8" r="0.85"/><circle cx="267.2" cy="100.7" r="0.85"/><circle cx="266.4" cy="96.9" r="0.85"/><circle cx="267.5" cy="102.8" r="0.85"/><circle cx="268.9" cy="95.6" r="0.85"/><circle cx="268.6" cy="93.7" r="0.85"/><circle cx="266.1" cy="104.7" r="0.85"/><circle cx="265.5" cy="101.2" r="0.85"/><circle cx="272.7" cy="111.0" r="0.85"/><circle cx="276.3" cy="106.9" r="0.85"/><circle cx="275.8" cy="106.6" r="0.85"/><circle cx="275.6" cy="106.0" r="0.85"/><circle cx="276.5" cy="105.8" r="0.85"/><circle cx="276.3" cy="104.7" r="0.85"/><circle cx="273.6" cy="109.8" r="0.85"/><circle cx="275.3" cy="107.9" r="0.85"/><circle cx="278.4" cy="106.2" r="0.85"/><circle cx="281.4" cy="105.1" r="0.85"/><circle cx="275.9" cy="107.1" r="0.85"/><circle cx="278.7" cy="102.9" r="0.85"/><circle cx="276.0" cy="108.1" r="0.85"/><circle cx="276.1" cy="107.7" r="0.85"/><circle cx="279.2" cy="113.8" r="0.85"/><circle cx="272.4" cy="111.0" r="0.85"/><circle cx="276.1" cy="111.0" r="0.85"/><circle cx="276.0" cy="110.8" r="0.85"/><circle cx="274.8" cy="111.9" r="0.85"/><circle cx="275.2" cy="112.3" r="0.85"/><circle cx="276.4" cy="107.2" r="0.85"/><circle cx="274.4" cy="108.9" r="0.85"/><circle cx="278.7" cy="108.4" r="0.85"/><circle cx="272.3" cy="114.2" r="0.85"/><circle cx="280.4" cy="107.7" r="0.85"/><circle cx="275.6" cy="109.2" r="0.85"/><circle cx="281.1" cy="115.9" r="0.85"/><circle cx="280.2" cy="113.0" r="0.85"/><circle cx="280.9" cy="112.7" r="0.85"/><circle cx="282.4" cy="118.5" r="0.85"/><circle cx="282.5" cy="111.8" r="0.85"/><circle cx="280.6" cy="111.5" r="0.85"/><circle cx="283.6" cy="118.9" r="0.85"/><circle cx="283.0" cy="113.0" r="0.85"/><circle cx="278.6" cy="116.0" r="0.85"/><circle cx="282.4" cy="116.9" r="0.85"/><circle cx="278.9" cy="114.9" r="0.85"/><circle cx="277.2" cy="124.6" r="0.85"/><circle cx="282.3" cy="118.0" r="0.85"/><circle cx="284.6" cy="131.8" r="0.85"/><circle cx="286.0" cy="129.3" r="0.85"/><circle cx="286.8" cy="130.8" r="0.85"/><circle cx="291.9" cy="129.6" r="0.85"/><circle cx="288.4" cy="130.0" r="0.85"/><circle cx="289.2" cy="127.7" r="0.85"/><circle cx="289.1" cy="126.3" r="0.85"/><circle cx="281.3" cy="131.1" r="0.85"/><circle cx="289.3" cy="133.5" r="0.85"/><circle cx="290.5" cy="129.8" r="0.85"/><circle cx="288.9" cy="120.6" r="0.85"/><circle cx="284.8" cy="132.3" r="0.85"/><circle cx="289.8" cy="128.0" r="0.85"/><circle cx="288.2" cy="135.9" r="0.85"/><circle cx="291.9" cy="132.7" r="0.85"/><circle cx="287.4" cy="137.5" r="0.85"/><circle cx="290.6" cy="135.0" r="0.85"/><circle cx="291.4" cy="134.7" r="0.85"/><circle cx="293.1" cy="138.0" r="0.85"/><circle cx="293.3" cy="134.5" r="0.85"/><circle cx="289.9" cy="135.4" r="0.85"/><circle cx="288.5" cy="143.3" r="0.85"/><circle cx="290.1" cy="133.8" r="0.85"/><circle cx="289.7" cy="132.2" r="0.85"/><circle cx="289.5" cy="138.0" r="0.85"/><circle cx="293.5" cy="136.3" r="0.85"/><circle cx="299.4" cy="141.7" r="0.85"/><circle cx="295.2" cy="143.8" r="0.85"/><circle cx="290.5" cy="144.1" r="0.85"/><circle cx="295.7" cy="143.3" r="0.85"/><circle cx="293.7" cy="145.9" r="0.85"/><circle cx="294.1" cy="146.3" r="0.85"/><circle cx="297.3" cy="142.2" r="0.85"/><circle cx="293.9" cy="143.4" r="0.85"/><circle cx="287.4" cy="142.9" r="0.85"/><circle cx="296.3" cy="141.1" r="0.85"/><circle cx="292.3" cy="141.3" r="0.85"/><circle cx="295.8" cy="142.8" r="0.85"/><circle cx="295.9" cy="141.4" r="0.85"/><circle cx="296.5" cy="151.9" r="0.85"/><circle cx="296.1" cy="150.7" r="0.85"/><circle cx="298.6" cy="150.0" r="0.85"/><circle cx="298.0" cy="148.4" r="0.85"/><circle cx="296.3" cy="153.8" r="0.85"/><circle cx="296.4" cy="151.4" r="0.85"/><circle cx="295.0" cy="154.5" r="0.85"/><circle cx="298.0" cy="152.5" r="0.85"/><circle cx="299.4" cy="148.0" r="0.85"/><circle cx="294.9" cy="149.0" r="0.85"/><circle cx="298.6" cy="146.7" r="0.85"/><circle cx="298.6" cy="151.0" r="0.85"/><circle cx="294.8" cy="150.8" r="0.85"/><circle cx="298.6" cy="153.2" r="0.85"/><circle cx="298.7" cy="153.6" r="0.85"/><circle cx="302.3" cy="151.9" r="0.85"/><circle cx="298.3" cy="154.2" r="0.85"/><circle cx="300.4" cy="152.9" r="0.85"/><circle cx="300.3" cy="150.5" r="0.85"/><circle cx="302.1" cy="154.1" r="0.85"/><circle cx="299.7" cy="151.8" r="0.85"/></g>
<g fill="#40a040" fill-opacity="0.90"><circle cx="183.3" cy="58.2" r="0.85"/><circle cx="183.7" cy="55.8" r="0.85"/><circle cx="182.7" cy="56.6" r="0.85"/><circle cx="183.0" cy="62.4" r="0.85"/><circle cx="182.4" cy="58.6" r="0.85"/><circle cx="181.6" cy="61.9" r="0.85"/><circle cx="182.5" cy="58.9" r="0.85"/><circle cx="182.5" cy="64.3" r="0.85"/><circle cx="181.7" cy="59.8" r="0.85"/><circle cx="182.5" cy="54.9" r="0.85"/><circle cx="181.5" cy="60.4" r="0.85"/><circle cx="189.0" cy="65.9" r="0.85"/><circle cx="192.6" cy="64.5" r="0.85"/><circle cx="191.5" cy="62.6" r="0.85"/><circle cx="189.2" cy="67.6" r="0.85"/><circle cx="193.7" cy="65.5" r="0.85"/><circle cx="190.0" cy="66.7" r="0.85"/><circle cx="189.8" cy="66.4" r="0.85"/><circle cx="192.4" cy="60.5" r="0.85"/><circle cx="189.8" cy="63.2" r="0.85"/><circle cx="191.3" cy="65.2" r="0.85"/><circle cx="193.1" cy="59.4" r="0.85"/><circle cx="191.8" cy="61.8" r="0.85"/><circle cx="190.6" cy="65.1" r="0.85"/><circle cx="196.7" cy="69.5" r="0.85"/><circle cx="196.7" cy="66.6" r="0.85"/><circle cx="195.8" cy="71.3" r="0.85"/><circle cx="197.0" cy="75.0" r="0.85"/><circle cx="197.9" cy="66.3" r="0.85"/><circle cx="196.7" cy="70.8" r="0.85"/><circle cx="196.5" cy="69.0" r="0.85"/><circle cx="197.2" cy="69.3" r="0.85"/><circle cx="199.1" cy="63.9" r="0.85"/><circle cx="199.2" cy="60.1" r="0.85"/><circle cx="197.8" cy="64.2" r="0.85"/><circle cx="199.5" cy="65.6" r="0.85"/><circle cx="198.6" cy="66.0" r="0.85"/><circle cx="205.7" cy="68.8" r="0.85"/><circle cx="206.2" cy="68.8" r="0.85"/><circle cx="205.5" cy="68.2" r="0.85"/><circle cx="207.4" cy="68.0" r="0.85"/><circle cx="207.1" cy="65.8" r="0.85"/><circle cx="206.2" cy="64.5" r="0.85"/><circle cx="205.0" cy="72.2" r="0.85"/><circle cx="206.4" cy="68.1" r="0.85"/><circle cx="206.6" cy="68.7" r="0.85"/><circle cx="205.9" cy="70.9" r="0.85"/><circle cx="208.4" cy="61.0" r="0.85"/><circle cx="203.8" cy="72.1" r="0.85"/><circle cx="203.7" cy="77.8" r="0.85"/><circle cx="214.6" cy="74.9" r="0.85"/><circle cx="214.9" cy="72.7" r="0.85"/><circle cx="215.9" cy="71.4" r="0.85"/><circle cx="213.5" cy="78.6" r="0.85"/><circle cx="213.0" cy="77.7" r="0.85"/><circle cx="214.1" cy="80.9" r="0.85"/><circle cx="212.1" cy="79.5" r="0.85"/><circle cx="214.3" cy="79.5" r="0.85"/><circle cx="215.9" cy="73.8" r="0.85"/><circle cx="215.5" cy="74.9" r="0.85"/><circle cx="214.9" cy="71.5" r="0.85"/><circle cx="214.4" cy="73.1" r="0.85"/><circle cx="212.8" cy="74.3" r="0.85"/><circle cx="222.0" cy="75.3" r="0.85"/><circle cx="222.4" cy="75.5" r="0.85"/><circle cx="226.2" cy="72.8" r="0.85"/><circle cx="223.3" cy="75.9" r="0.85"/><circle cx="220.6" cy="80.1" r="0.85"/><circle cx="222.9" cy="72.8" r="0.85"/><circle cx="222.3" cy="76.5" r="0.85"/><circle cx="219.5" cy="76.8" r="0.85"/><circle cx="221.4" cy="73.9" r="0.85"/><circle cx="221.9" cy="78.3" r="0.85"/><circle cx="219.3" cy="84.5" r="0.85"/><circle cx="222.7" cy="75.1" r="0.85"/><circle cx="222.1" cy="76.7" r="0.85"/><circle cx="231.5" cy="80.9" r="0.85"/><circle cx="232.3" cy="80.0" r="0.85"/><circle cx="231.0" cy="82.5" r="0.85"/><circle cx="229.4" cy="81.6" r="0.85"/><circle cx="231.0" cy="78.8" r="0.85"/><circle cx="231.5" cy="78.3" r="0.85"/><circle cx="231.0" cy="83.6" r="0.85"/><circle cx="230.7" cy="84.2" r="0.85"/><circle cx="232.1" cy="76.6" r="0.85"/><circle cx="230.1" cy="81.2" r="0.85"/><circle cx="230.0" cy="80.7" r="0.85"/><circle cx="230.5" cy="79.4" r="0.85"/><circle cx="230.0" cy="79.1" r="0.85"/><circle cx="237.7" cy="82.7" r="0.85"/><circle cx="236.4" cy="92.7" r="0.85"/><circle cx="234.7" cy="90.2" r="0.85"/><circle cx="239.2" cy="82.2" r="0.85"/><circle cx="237.4" cy="86.1" r="0.85"/><circle cx="238.2" cy="83.6" r="0.85"/><circle cx="236.2" cy="84.2" r="0.85"/><circle cx="237.5" cy="87.8" r="0.85"/><circle cx="237.0" cy="88.8" r="0.85"/><circle cx="236.6" cy="84.1" r="0.85"/><circle cx="236.8" cy="88.3" r="0.85"/><circle cx="237.1" cy="86.5" r="0.85"/><circle cx="235.4" cy="92.0" r="0.85"/><circle cx="246.3" cy="88.6" r="0.85"/><circle cx="247.5" cy="88.1" r="0.85"/><circle cx="247.7" cy="84.6" r="0.85"/><circle cx="246.5" cy="86.4" r="0.85"/><circle cx="246.6" cy="86.9" r="0.85"/><circle cx="245.7" cy="89.8" r="0.85"/><circle cx="244.2" cy="91.2" r="0.85"/><circle cx="243.3" cy="95.9" r="0.85"/><circle cx="246.4" cy="91.9" r="0.85"/><circle cx="244.7" cy="93.8" r="0.85"/><circle cx="248.0" cy="83.6" r="0.85"/><circle cx="246.4" cy="90.3" r="0.85"/><circle cx="245.5" cy="81.9" r="0.85"/><circle cx="252.2" cy="87.8" r="0.85"/><circle cx="253.4" cy="89.3" r="0.85"/><circle cx="253.7" cy="88.6" r="0.85"/><circle cx="252.4" cy="91.9" r="0.85"/><circle cx="253.5" cy="91.2" r="0.85"/><circle cx="251.6" cy="92.7" r="0.85"/><circle cx="250.5" cy="97.9" r="0.85"/><circle cx="252.5" cy="90.1" r="0.85"/><circle cx="251.4" cy="93.5" r="0.85"/><circle cx="251.7" cy="94.6" r="0.85"/><circle cx="248.3" cy="99.9" r="0.85"/><circle cx="254.0" cy="92.9" r="0.85"/><circle cx="250.8" cy="92.0" r="0.85"/><circle cx="265.9" cy="96.7" r="0.85"/><circle cx="263.4" cy="96.4" r="0.85"/><circle cx="263.4" cy="92.8" r="0.85"/><circle cx="263.8" cy="97.1" r="0.85"/><circle cx="264.2" cy="95.3" r="0.85"/><circle cx="261.1" cy="106.3" r="0.85"/><circle cx="264.3" cy="93.0" r="0.85"/><circle cx="262.2" cy="103.7" r="0.85"/><circle cx="266.4" cy="97.5" r="0.85"/><circle cx="265.7" cy="92.2" r="0.85"/><circle cx="265.4" cy="94.8" r="0.85"/><circle cx="260.5" cy="99.8" r="0.85"/><circle cx="266.5" cy="92.5" r="0.85"/><circle cx="270.9" cy="103.5" r="0.85"/><circle cx="269.9" cy="103.3" r="0.85"/><circle cx="271.5" cy="103.8" r="0.85"/><circle cx="266.3" cy="109.3" r="0.85"/><circle cx="268.3" cy="105.5" r="0.85"/><circle cx="268.2" cy="103.4" r="0.85"/><circle cx="266.9" cy="101.9" r="0.85"/><circle cx="270.8" cy="98.4" r="0.85"/><circle cx="266.2" cy="105.7" r="0.85"/><circle cx="271.8" cy="99.2" r="0.85"/><circle cx="272.1" cy="102.9" r="0.85"/><circle cx="268.5" cy="103.8" r="0.85"/><circle cx="270.5" cy="97.7" r="0.85"/><circle cx="273.7" cy="102.9" r="0.85"/><circle cx="273.5" cy="107.4" r="0.85"/><circle cx="273.2" cy="107.4" r="0.85"/><circle cx="272.7" cy="112.3" r="0.85"/><circle cx="271.0" cy="108.0" r="0.85"/><circle cx="272.1" cy="107.2" r="0.85"/><circle cx="271.9" cy="110.2" r="0.85"/><circle cx="276.2" cy="105.4" r="0.85"/><circle cx="272.5" cy="108.6" r="0.85"/><circle cx="270.4" cy="111.4" r="0.85"/><circle cx="271.0" cy="107.4" r="0.85"/><circle cx="274.4" cy="106.5" r="0.85"/><circle cx="273.7" cy="106.7" r="0.85"/><circle cx="278.2" cy="117.5" r="0.85"/><circle cx="280.7" cy="116.2" r="0.85"/><circle cx="275.5" cy="120.5" r="0.85"/><circle cx="280.4" cy="110.0" r="0.85"/><circle cx="276.9" cy="115.6" r="0.85"/><circle cx="281.1" cy="116.4" r="0.85"/><circle cx="280.0" cy="116.3" r="0.85"/><circle cx="280.6" cy="114.7" r="0.85"/><circle cx="279.3" cy="115.4" r="0.85"/><circle cx="276.1" cy="121.8" r="0.85"/><circle cx="276.5" cy="113.9" r="0.85"/><circle cx="277.4" cy="117.5" r="0.85"/><circle cx="278.8" cy="118.6" r="0.85"/><circle cx="282.7" cy="120.5" r="0.85"/><circle cx="287.3" cy="124.8" r="0.85"/><circle cx="284.0" cy="121.6" r="0.85"/><circle cx="284.3" cy="119.7" r="0.85"/><circle cx="284.9" cy="124.0" r="0.85"/><circle cx="285.3" cy="119.0" r="0.85"/><circle cx="280.8" cy="122.4" r="0.85"/><circle cx="286.7" cy="117.2" r="0.85"/><circle cx="282.5" cy="120.7" r="0.85"/><circle cx="283.9" cy="123.2" r="0.85"/><circle cx="287.0" cy="121.8" r="0.85"/><circle cx="283.3" cy="119.9" r="0.85"/><circle cx="288.0" cy="118.9" r="0.85"/><circle cx="287.5" cy="129.3" r="0.85"/><circle cx="285.6" cy="130.0" r="0.85"/><circle cx="290.3" cy="132.9" r="0.85"/><circle cx="285.5" cy="133.2" r="0.85"/><circle cx="287.0" cy="128.9" r="0.85"/><circle cx="283.4" cy="128.8" r="0.85"/><circle cx="287.8" cy="127.5" r="0.85"/><circle cx="288.8" cy="128.4" r="0.85"/><circle cx="286.5" cy="127.1" r="0.85"/><circle cx="288.8" cy="132.4" r="0.85"/><circle cx="290.5" cy="128.4" r="0.85"/><circle cx="281.3" cy="128.9" r="0.85"/><circle cx="289.8" cy="126.4" r="0.85"/><circle cx="287.4" cy="137.8" r="0.85"/><circle cx="293.3" cy="133.0" r="0.85"/><circle cx="287.8" cy="134.5" r="0.85"/><circle cx="287.5" cy="129.7" r="0.85"/><circle cx="287.0" cy="138.6" r="0.85"/><circle cx="287.9" cy="136.6" r="0.85"/><circle cx="289.3" cy="136.4" r="0.85"/><circle cx="283.4" cy="133.2" r="0.85"/><circle cx="290.1" cy="135.3" r="0.85"/><circle cx="283.4" cy="136.3" r="0.85"/><circle cx="287.6" cy="136.5" r="0.85"/><circle cx="288.3" cy="133.8" r="0.85"/><circle cx="286.9" cy="136.0" r="0.85"/><circle cx="294.7" cy="143.6" r="0.85"/><circle cx="289.9" cy="148.1" r="0.85"/><circle cx="290.5" cy="140.4" r="0.85"/><circle cx="295.2" cy="138.1" r="0.85"/><circle cx="292.2" cy="143.3" r="0.85"/><circle cx="295.9" cy="140.5" r="0.85"/><circle cx="293.3" cy="139.1" r="0.85"/><circle cx="295.2" cy="141.1" r="0.85"/><circle cx="288.5" cy="143.2" r="0.85"/><circle cx="293.1" cy="140.9" r="0.85"/><circle cx="294.2" cy="140.6" r="0.85"/><circle cx="294.2" cy="142.2" r="0.85"/><circle cx="296.5" cy="141.3" r="0.85"/><circle cx="298.7" cy="148.9" r="0.85"/><circle cx="296.7" cy="149.5" r="0.85"/><circle cx="296.8" cy="145.1" r="0.85"/><circle cx="298.8" cy="145.9" r="0.85"/><circle cx="298.5" cy="147.8" r="0.85"/><circle cx="294.2" cy="150.9" r="0.85"/><circle cx="299.3" cy="149.4" r="0.85"/><circle cx="300.0" cy="144.1" r="0.85"/><circle cx="292.6" cy="149.1" r="0.85"/><circle cx="299.2" cy="146.4" r="0.85"/><circle cx="293.7" cy="149.0" r="0.85"/><circle cx="296.0" cy="149.2" r="0.85"/><circle cx="299.9" cy="147.4" r="0.85"/><circle cx="301.7" cy="155.9" r="0.85"/><circle cx="302.5" cy="155.5" r="0.85"/><circle cx="300.2" cy="151.4" r="0.85"/><circle cx="299.8" cy="154.4" r="0.85"/></g>
<g fill="#d060dc" fill-opacity="0.90"><circle cx="181.3" cy="77.2" r="0.85"/><circle cx="182.4" cy="74.7" r="0.85"/><circle cx="181.1" cy="78.2" r="0.85"/><circle cx="182.5" cy="74.2" r="0.85"/><circle cx="182.4" cy="154.6" r="0.85"/><circle cx="181.5" cy="78.4" r="0.85"/><circle cx="181.3" cy="74.6" r="0.85"/><circle cx="192.7" cy="81.0" r="0.85"/><circle cx="191.4" cy="80.5" r="0.85"/><circle cx="191.2" cy="75.9" r="0.85"/><circle cx="189.6" cy="82.6" r="0.85"/><circle cx="190.1" cy="85.2" r="0.85"/><circle cx="190.2" cy="85.7" r="0.85"/><circle cx="192.6" cy="74.4" r="0.85"/><circle cx="192.7" cy="80.5" r="0.85"/><circle cx="192.2" cy="79.8" r="0.85"/><circle cx="190.8" cy="79.1" r="0.85"/><circle cx="191.1" cy="73.8" r="0.85"/><circle cx="190.8" cy="76.3" r="0.85"/><circle cx="190.0" cy="77.7" r="0.85"/><circle cx="201.2" cy="72.4" r="0.85"/><circle cx="199.8" cy="72.0" r="0.85"/><circle cx="193.3" cy="89.8" r="0.85"/><circle cx="197.5" cy="83.0" r="0.85"/><circle cx="197.0" cy="84.1" r="0.85"/><circle cx="197.5" cy="75.1" r="0.85"/><circle cx="195.8" cy="81.4" r="0.85"/><circle cx="196.5" cy="84.4" r="0.85"/><circle cx="196.2" cy="83.1" r="0.85"/><circle cx="197.8" cy="76.2" r="0.85"/><circle cx="196.1" cy="81.4" r="0.85"/><circle cx="197.2" cy="78.3" r="0.85"/><circle cx="195.7" cy="85.5" r="0.85"/><circle cx="208.7" cy="84.0" r="0.85"/><circle cx="209.6" cy="82.5" r="0.85"/><circle cx="207.9" cy="78.4" r="0.85"/><circle cx="207.2" cy="85.6" r="0.85"/><circle cx="208.7" cy="85.8" r="0.85"/><circle cx="207.7" cy="79.1" r="0.85"/><circle cx="205.9" cy="87.9" r="0.85"/><circle cx="206.5" cy="89.2" r="0.85"/><circle cx="207.7" cy="84.6" r="0.85"/><circle cx="207.3" cy="85.3" r="0.85"/><circle cx="204.1" cy="90.3" r="0.85"/><circle cx="208.0" cy="80.7" r="0.85"/><circle cx="206.9" cy="85.6" r="0.85"/><circle cx="213.8" cy="82.7" r="0.85"/><circle cx="214.9" cy="87.1" r="0.85"/><circle cx="213.9" cy="82.8" r="0.85"/><circle cx="213.3" cy="85.1" r="0.85"/><circle cx="212.9" cy="90.1" r="0.85"/><circle cx="212.0" cy="86.3" r="0.85"/><circle cx="212.4" cy="87.5" r="0.85"/><circle cx="214.7" cy="84.1" r="0.85"/><circle cx="216.1" cy="84.3" r="0.85"/><circle cx="210.5" cy="88.4" r="0.85"/><circle cx="210.1" cy="90.7" r="0.85"/><circle cx="213.3" cy="85.2" r="0.85"/><circle cx="213.3" cy="87.2" r="0.85"/><circle cx="222.2" cy="91.0" r="0.85"/><circle cx="224.6" cy="85.3" r="0.85"/><circle cx="222.0" cy="90.8" r="0.85"/><circle cx="224.0" cy="88.1" r="0.85"/><circle cx="222.8" cy="92.4" r="0.85"/><circle cx="222.2" cy="84.6" r="0.85"/><circle cx="220.8" cy="90.6" r="0.85"/><circle cx="221.9" cy="93.4" r="0.85"/><circle cx="223.7" cy="89.0" r="0.85"/><circle cx="222.7" cy="94.1" r="0.85"/><circle cx="222.4" cy="92.6" r="0.85"/><circle cx="220.7" cy="91.5" r="0.85"/><circle cx="222.4" cy="85.9" r="0.85"/><circle cx="230.6" cy="96.8" r="0.85"/><circle cx="230.5" cy="95.5" r="0.85"/><circle cx="227.8" cy="96.5" r="0.85"/><circle cx="230.3" cy="91.0" r="0.85"/><circle cx="230.0" cy="88.7" r="0.85"/><circle cx="229.1" cy="93.8" r="0.85"/><circle cx="231.6" cy="91.5" r="0.85"/><circle cx="230.2" cy="95.0" r="0.85"/><circle cx="230.5" cy="93.8" r="0.85"/><circle cx="227.4" cy="97.2" r="0.85"/><circle cx="231.6" cy="89.3" r="0.85"/><circle cx="230.0" cy="92.7" r="0.85"/><circle cx="230.6" cy="100.3" r="0.85"/><circle cx="239.4" cy="98.3" r="0.85"/><circle cx="237.1" cy="106.4" r="0.85"/><circle cx="238.1" cy="103.3" r="0.85"/><circle cx="241.1" cy="96.2" r="0.85"/><circle cx="240.3" cy="96.8" r="0.85"/><circle cx="239.2" cy="98.5" r="0.85"/><circle cx="239.7" cy="96.1" r="0.85"/><circle cx="241.0" cy="97.6" r="0.85"/><circle cx="238.3" cy="104.3" r="0.85"/><circle cx="238.8" cy="101.9" r="0.85"/><circle cx="239.5" cy="102.4" r="0.85"/><circle cx="242.3" cy="93.4" r="0.85"/><circle cx="241.1" cy="98.8" r="0.85"/><circle cx="247.8" cy="97.3" r="0.85"/><circle cx="246.1" cy="97.1" r="0.85"/><circle cx="246.7" cy="99.6" r="0.85"/><circle cx="247.0" cy="103.0" r="0.85"/><circle cx="245.0" cy="104.4" r="0.85"/><circle cx="247.8" cy="102.0" r="0.85"/><circle cx="247.8" cy="102.8" r="0.85"/><circle cx="247.6" cy="97.4" r="0.85"/><circle cx="246.3" cy="105.1" r="0.85"/><circle cx="245.5" cy="104.8" r="0.85"/><circle cx="246.6" cy="108.3" r="0.85"/><circle cx="245.6" cy="99.6" r="0.85"/><circle cx="246.7" cy="104.8" r="0.85"/><circle cx="256.1" cy="103.8" r="0.85"/><circle cx="254.2" cy="107.0" r="0.85"/><circle cx="256.0" cy="103.0" r="0.85"/><circle cx="254.9" cy="97.7" r="0.85"/><circle cx="255.5" cy="104.6" r="0.85"/><circle cx="255.6" cy="106.0" r="0.85"/><circle cx="256.2" cy="100.2" r="0.85"/><circle cx="254.4" cy="104.0" r="0.85"/><circle cx="253.5" cy="107.2" r="0.85"/><circle cx="255.8" cy="97.8" r="0.85"/><circle cx="257.0" cy="98.5" r="0.85"/><circle cx="258.1" cy="102.3" r="0.85"/><circle cx="255.6" cy="104.1" r="0.85"/><circle cx="264.6" cy="106.4" r="0.85"/><circle cx="263.8" cy="107.6" r="0.85"/><circle cx="264.3" cy="108.3" r="0.85"/><circle cx="263.4" cy="106.1" r="0.85"/><circle cx="261.4" cy="111.6" r="0.85"/><circle cx="262.0" cy="110.0" r="0.85"/><circle cx="259.0" cy="110.9" r="0.85"/><circle cx="263.5" cy="101.2" r="0.85"/><circle cx="265.4" cy="102.5" r="0.85"/><circle cx="264.5" cy="109.8" r="0.85"/><circle cx="261.7" cy="111.2" r="0.85"/><circle cx="262.4" cy="109.0" r="0.85"/><circle cx="260.2" cy="115.7" r="0.85"/><circle cx="268.3" cy="119.7" r="0.85"/><circle cx="275.7" cy="111.2" r="0.85"/><circle cx="274.2" cy="113.5" r="0.85"/><circle cx="271.1" cy="121.0" r="0.85"/><circle cx="268.9" cy="119.3" r="0.85"/><circle cx="269.3" cy="118.0" r="0.85"/><circle cx="272.5" cy="116.6" r="0.85"/><circle cx="270.7" cy="114.0" r="0.85"/><circle cx="270.3" cy="112.4" r="0.85"/><circle cx="268.0" cy="118.3" r="0.85"/><circle cx="274.7" cy="108.2" r="0.85"/><circle cx="271.6" cy="117.9" r="0.85"/><circle cx="267.5" cy="121.6" r="0.85"/><circle cx="269.1" cy="120.8" r="0.85"/><circle cx="272.7" cy="117.3" r="0.85"/><circle cx="269.7" cy="116.9" r="0.85"/><circle cx="274.1" cy="111.8" r="0.85"/><circle cx="273.4" cy="114.7" r="0.85"/><circle cx="271.6" cy="117.3" r="0.85"/><circle cx="272.9" cy="114.7" r="0.85"/><circle cx="267.3" cy="123.4" r="0.85"/><circle cx="273.0" cy="112.8" r="0.85"/><circle cx="273.2" cy="112.7" r="0.85"/><circle cx="273.2" cy="114.2" r="0.85"/><circle cx="272.1" cy="117.5" r="0.85"/><circle cx="272.8" cy="118.0" r="0.85"/><circle cx="275.9" cy="125.0" r="0.85"/><circle cx="278.6" cy="123.5" r="0.85"/><circle cx="273.1" cy="125.6" r="0.85"/><circle cx="276.0" cy="123.2" r="0.85"/><circle cx="274.4" cy="123.8" r="0.85"/><circle cx="278.1" cy="118.9" r="0.85"/><circle cx="277.4" cy="120.8" r="0.85"/><circle cx="278.2" cy="122.4" r="0.85"/><circle cx="277.1" cy="121.6" r="0.85"/><circle cx="278.2" cy="121.0" r="0.85"/><circle cx="280.5" cy="120.4" r="0.85"/><circle cx="277.5" cy="119.7" r="0.85"/><circle cx="277.1" cy="123.0" r="0.85"/><circle cx="282.0" cy="136.3" r="0.85"/><circle cx="283.9" cy="128.8" r="0.85"/><circle cx="282.9" cy="133.8" r="0.85"/><circle cx="282.8" cy="139.4" r="0.85"/><circle cx="280.6" cy="133.0" r="0.85"/><circle cx="283.6" cy="130.7" r="0.85"/><circle cx="283.6" cy="132.7" r="0.85"/><circle cx="284.8" cy="131.8" r="0.85"/><circle cx="285.0" cy="133.1" r="0.85"/><circle cx="284.6" cy="131.0" r="0.85"/><circle cx="285.3" cy="130.9" r="0.85"/><circle cx="281.0" cy="133.2" r="0.85"/><circle cx="283.2" cy="134.3" r="0.85"/><circle cx="285.1" cy="139.3" r="0.85"/><circle cx="288.6" cy="135.7" r="0.85"/><circle cx="286.1" cy="139.2" r="0.85"/><circle cx="285.2" cy="137.8" r="0.85"/><circle cx="288.2" cy="134.3" r="0.85"/><circle cx="287.9" cy="137.0" r="0.85"/><circle cx="289.4" cy="132.1" r="0.85"/><circle cx="286.7" cy="137.9" r="0.85"/><circle cx="286.4" cy="137.1" r="0.85"/><circle cx="284.9" cy="136.1" r="0.85"/><circle cx="287.1" cy="138.5" r="0.85"/><circle cx="286.4" cy="136.6" r="0.85"/><circle cx="285.2" cy="140.0" r="0.85"/><circle cx="288.6" cy="141.2" r="0.85"/><circle cx="285.3" cy="137.0" r="0.85"/><circle cx="288.4" cy="138.3" r="0.85"/><circle cx="285.6" cy="143.3" r="0.85"/><circle cx="288.1" cy="134.7" r="0.85"/><circle cx="291.3" cy="140.6" r="0.85"/><circle cx="287.4" cy="145.2" r="0.85"/><circle cx="288.0" cy="137.8" r="0.85"/><circle cx="286.0" cy="144.5" r="0.85"/><circle cx="287.8" cy="140.1" r="0.85"/><circle cx="283.9" cy="144.1" r="0.85"/><circle cx="286.1" cy="137.8" r="0.85"/><circle cx="288.5" cy="141.6" r="0.85"/><circle cx="291.1" cy="149.3" r="0.85"/><circle cx="292.2" cy="145.8" r="0.85"/><circle cx="294.6" cy="146.2" r="0.85"/><circle cx="293.1" cy="145.6" r="0.85"/><circle cx="294.4" cy="141.8" r="0.85"/><circle cx="294.1" cy="146.9" r="0.85"/><circle cx="295.5" cy="141.8" r="0.85"/><circle cx="291.3" cy="148.3" r="0.85"/><circle cx="293.7" cy="141.5" r="0.85"/><circle cx="291.8" cy="150.2" r="0.85"/><circle cx="295.8" cy="145.5" r="0.85"/><circle cx="295.2" cy="143.9" r="0.85"/><circle cx="294.5" cy="144.8" r="0.85"/><circle cx="297.4" cy="144.1" r="0.85"/><circle cx="297.0" cy="150.9" r="0.85"/><circle cx="297.6" cy="151.0" r="0.85"/><circle cx="296.5" cy="151.2" r="0.85"/><circle cx="299.1" cy="145.6" r="0.85"/><circle cx="298.4" cy="149.0" r="0.85"/><circle cx="297.1" cy="148.9" r="0.85"/><circle cx="298.0" cy="149.3" r="0.85"/><circle cx="295.4" cy="148.5" r="0.85"/><circle cx="298.6" cy="149.1" r="0.85"/><circle cx="298.4" cy="150.3" r="0.85"/><circle cx="294.3" cy="155.2" r="0.85"/><circle cx="300.0" cy="155.8" r="0.85"/><circle cx="299.2" cy="156.5" r="0.85"/><circle cx="300.2" cy="156.7" r="0.85"/><circle cx="301.2" cy="150.2" r="0.85"/><circle cx="301.5" cy="155.4" r="0.85"/><circle cx="301.5" cy="154.8" r="0.85"/><circle cx="300.8" cy="151.6" r="0.85"/><circle cx="302.4" cy="152.7" r="0.85"/></g>
<path d="M180.0,48.1 181.0,48.5 182.0,49.0 183.0,49.4 184.0,49.9 185.0,50.3 186.0,50.7 187.0,51.2 188.0,51.6 189.0,52.1 190.0,52.5 191.0,52.9 192.0,53.4 193.0,53.8 194.0,54.2 195.0,54.6 196.0,55.1 197.0,55.5 198.0,55.9 199.0,56.3 200.0,56.8 201.0,57.2 202.0,57.6 203.0,58.0 204.0,58.5 205.0,58.9 206.0,59.3 207.0,59.7 208.0,60.1 209.0,60.5 210.0,60.9 211.0,61.4 212.0,61.8 213.0,62.2 214.0,62.6 215.0,63.0 216.0,63.4 217.0,63.8 218.0,64.2 219.0,64.5 220.0,64.9 221.0,65.3 222.0,65.7 223.0,66.1 224.0,66.5 225.0,66.9 226.0,67.3 227.0,67.8 228.0,68.2 229.0,68.6 230.0,69.0 231.0,69.4 232.0,69.9 233.0,70.3 234.0,70.7 235.0,71.2 236.0,71.6 237.0,72.1 238.0,72.6 239.0,73.0 240.0,73.5 241.0,73.9 242.0,74.4 243.0,74.9 244.0,75.3 245.0,75.8 246.0,76.3 247.0,76.7 248.0,77.2 249.0,77.6 250.0,78.1 251.0,78.5 252.0,79.0 253.0,79.4 254.0,79.9 255.0,80.3 256.0,80.7 257.0,81.1 258.0,81.5 259.0,81.9 260.0,82.3 261.0,82.7 262.0,83.2 263.0,83.7 264.0,84.3 265.0,84.9 266.0,85.6 267.0,86.3 268.0,87.1 269.0,87.9 270.0,88.8 271.0,89.8 272.0,90.8 273.0,92.0 274.0,93.2 275.0,94.6 276.0,96.1 277.0,97.7 278.0,99.6 279.0,101.6 280.0,103.9 281.0,106.3 282.0,108.9 283.0,111.6 284.0,114.3 285.0,117.0 286.0,119.7 287.0,122.4 288.0,125.2 289.0,128.0 290.0,130.9 291.0,133.8 292.0,136.6 293.0,139.3 294.0,141.7 295.0,143.8 296.0,145.7 297.0,147.4 298.0,148.9 299.0,150.2 300.0,151.4 301.0,152.4 302.0,153.3 303.0,154.1 303.5,154.5" fill="none" stroke="#ff3b3b" stroke-width="1.20" stroke-opacity="1.00" stroke-linejoin="round"/>
<path d="M180.0,52.2 181.0,52.6 182.0,53.0 183.0,53.5 184.0,53.9 185.0,54.3 186.0,54.7 187.0,55.2 188.0,55.6 189.0,56.0 190.0,56.5 191.0,56.9 192.0,57.3 193.0,57.8 194.0,58.2 195.0,58.7 196.0,59.1 197.0,59.5 198.0,60.0 199.0,60.4 200.0,60.9 201.0,61.4 202.0,61.8 203.0,62.3 204.0,62.7 205.0,63.2 206.0,63.7 207.0,64.1 208.0,64.6 209.0,65.1 210.0,65.5 211.0,66.0 212.0,66.5 213.0,67.0 214.0,67.4 215.0,67.9 216.0,68.4 217.0,68.9 218.0,69.4 219.0,69.9 220.0,70.4 221.0,70.9 222.0,71.4 223.0,71.9 224.0,72.4 225.0,72.9 226.0,73.4 227.0,73.9 228.0,74.4 229.0,74.9 230.0,75.4 231.0,75.9 232.0,76.4 233.0,76.8 234.0,77.3 235.0,77.8 236.0,78.2 237.0,78.7 238.0,79.2 239.0,79.6 240.0,80.1 241.0,80.5 242.0,81.0 243.0,81.5 244.0,81.9 245.0,82.4 246.0,82.9 247.0,83.4 248.0,83.9 249.0,84.4 250.0,84.9 251.0,85.4 252.0,85.9 253.0,86.5 254.0,87.0 255.0,87.6 256.0,88.2 257.0,88.8 258.0,89.5 259.0,90.1 260.0,90.8 261.0,91.5 262.0,92.2 263.0,93.0 264.0,93.8 265.0,94.6 266.0,95.5 267.0,96.4 268.0,97.3 269.0,98.3 270.0,99.3 271.0,100.4 272.0,101.5 273.0,102.7 274.0,103.9 275.0,105.2 276.0,106.6 277.0,108.1 278.0,109.7 279.0,111.4 280.0,113.2 281.0,115.0 282.0,117.0 283.0,119.1 284.0,121.3 285.0,123.5 286.0,125.7 287.0,128.1 288.0,130.4 289.0,132.7 290.0,135.0 291.0,137.2 292.0,139.3 293.0,141.3 294.0,143.2 295.0,144.9 296.0,146.4 297.0,147.9 298.0,149.1 299.0,150.3 300.0,151.4 301.0,152.4 302.0,153.3 303.0,154.1 303.5,154.5" fill="none" stroke="#3a3aff" stroke-width="1.20" stroke-opacity="1.00" stroke-linejoin="round"/>
<path d="M180.0,59.7 181.0,60.1 182.0,60.4 183.0,60.8 184.0,61.1 185.0,61.5 186.0,61.8 187.0,62.2 188.0,62.6 189.0,63.0 190.0,63.3 191.0,63.7 192.0,64.1 193.0,64.5 194.0,64.9 195.0,65.3 196.0,65.7 197.0,66.1 198.0,66.5 199.0,66.9 200.0,67.3 201.0,67.7 202.0,68.1 203.0,68.5 204.0,68.9 205.0,69.3 206.0,69.8 207.0,70.2 208.0,70.6 209.0,71.0 210.0,71.5 211.0,71.9 212.0,72.4 213.0,72.8 214.0,73.3 215.0,73.7 216.0,74.2 217.0,74.6 218.0,75.1 219.0,75.6 220.0,76.1 221.0,76.5 222.0,77.0 223.0,77.5 224.0,78.0 225.0,78.5 226.0,79.0 227.0,79.4 228.0,79.9 229.0,80.4 230.0,80.9 231.0,81.4 232.0,81.9 233.0,82.4 234.0,82.8 235.0,83.3 236.0,83.8 237.0,84.3 238.0,84.8 239.0,85.3 240.0,85.8 241.0,86.2 242.0,86.7 243.0,87.2 244.0,87.7 245.0,88.2 246.0,88.7 247.0,89.3 248.0,89.8 249.0,90.3 250.0,90.8 251.0,91.3 252.0,91.9 253.0,92.4 254.0,93.0 255.0,93.5 256.0,94.1 257.0,94.6 258.0,95.2 259.0,95.8 260.0,96.4 261.0,97.0 262.0,97.6 263.0,98.3 264.0,99.0 265.0,99.8 266.0,100.5 267.0,101.3 268.0,102.2 269.0,103.1 270.0,104.0 271.0,105.0 272.0,106.0 273.0,107.0 274.0,108.2 275.0,109.4 276.0,110.6 277.0,111.9 278.0,113.3 279.0,114.8 280.0,116.3 281.0,118.0 282.0,119.8 283.0,121.6 284.0,123.6 285.0,125.7 286.0,127.8 287.0,129.9 288.0,132.0 289.0,134.1 290.0,136.1 291.0,138.0 292.0,139.9 293.0,141.7 294.0,143.4 295.0,145.1 296.0,146.6 297.0,148.0 298.0,149.3 299.0,150.5 300.0,151.6 301.0,152.5 302.0,153.4 303.0,154.1 303.5,154.5" fill="none" stroke="#33a033" stroke-width="1.20" stroke-opacity="1.00" stroke-linejoin="round"/>
<path d="M180.0,74.4 181.0,74.8 182.0,75.1 183.0,75.5 184.0,75.8 185.0,76.2 186.0,76.6 187.0,76.9 188.0,77.3 189.0,77.6 190.0,78.0 191.0,78.4 192.0,78.8 193.0,79.1 194.0,79.5 195.0,79.9 196.0,80.3 197.0,80.6 198.0,81.0 199.0,81.4 200.0,81.8 201.0,82.1 202.0,82.5 203.0,82.9 204.0,83.3 205.0,83.7 206.0,84.1 207.0,84.5 208.0,84.8 209.0,85.2 210.0,85.6 211.0,86.0 212.0,86.4 213.0,86.8 214.0,87.2 215.0,87.6 216.0,88.0 217.0,88.4 218.0,88.8 219.0,89.2 220.0,89.6 221.0,90.1 222.0,90.5 223.0,90.9 224.0,91.3 225.0,91.7 226.0,92.1 227.0,92.5 228.0,93.0 229.0,93.4 230.0,93.8 231.0,94.2 232.0,94.6 233.0,95.1 234.0,95.5 235.0,95.9 236.0,96.3 237.0,96.8 238.0,97.2 239.0,97.6 240.0,98.1 241.0,98.5 242.0,98.9 243.0,99.4 244.0,99.8 245.0,100.2 246.0,100.7 247.0,101.1 248.0,101.6 249.0,102.0 250.0,102.5 251.0,102.9 252.0,103.4 253.0,103.9 254.0,104.3 255.0,104.8 256.0,105.3 257.0,105.7 258.0,106.2 259.0,106.7 260.0,107.2 261.0,107.7 262.0,108.3 263.0,108.9 264.0,109.6 265.0,110.3 266.0,111.1 267.0,111.9 268.0,112.8 269.0,113.6 270.0,114.6 271.0,115.5 272.0,116.6 273.0,117.6 274.0,118.8 275.0,120.0 276.0,121.2 277.0,122.6 278.0,124.0 279.0,125.5 280.0,127.0 281.0,128.5 282.0,130.0 283.0,131.4 284.0,132.9 285.0,134.3 286.0,135.7 287.0,137.1 288.0,138.5 289.0,139.8 290.0,141.2 291.0,142.5 292.0,143.7 293.0,145.0 294.0,146.2 295.0,147.3 296.0,148.4 297.0,149.4 298.0,150.4 299.0,151.2 300.0,152.0 301.0,152.8 302.0,153.5 303.0,154.2 303.5,154.5" fill="none" stroke="#cc3ad6" stroke-width="1.20" stroke-opacity="1.00" stroke-linejoin="round"/>
<path d="M328.8,85.3 329.8,85.6 330.8,85.8 331.8,86.1 332.8,86.3 333.8,86.6 334.8,86.9 335.8,87.1 336.8,87.4 337.8,87.7 338.8,88.0 339.8,88.2 340.8,88.5 341.8,88.8 342.8,89.1 343.8,89.3 344.8,89.6 345.8,89.9 346.8,90.2 347.8,90.5 348.8,90.8 349.8,91.1 350.8,91.3 351.8,91.6 352.8,91.9 353.8,92.2 354.8,92.5 355.8,92.9 356.8,93.2 357.8,93.5 358.8,93.8 359.8,94.1 360.8,94.4 361.8,94.7 362.8,95.0 363.8,95.3 364.8,95.6 365.8,95.9 366.8,96.2 367.8,96.5 368.8,96.8 369.8,97.1 370.8,97.4 371.8,97.7 372.8,98.0 373.8,98.3 374.8,98.6 375.8,98.9 376.8,99.2 377.8,99.5 378.8,99.8 379.8,100.1 380.8,100.4 381.8,100.7 382.8,101.0 383.8,101.3 384.8,101.6 385.8,101.9 386.8,102.3 387.8,102.6 388.8,102.9 389.8,103.2 390.8,103.5 391.8,103.8 392.8,104.1 393.8,104.4 394.8,104.7 395.8,105.0 396.8,105.4 397.8,105.7 398.8,106.1 399.8,106.5 400.8,106.9 401.8,107.3 402.8,107.8 403.8,108.2 404.8,108.7 405.8,109.3 406.8,109.8 407.8,110.4 408.8,110.9 409.8,111.5 410.8,112.2 411.8,112.8 412.8,113.5 413.8,114.2 414.8,114.9 415.8,115.6 416.8,116.4 417.8,117.3 418.8,118.1 419.8,119.1 420.8,120.0 421.8,121.0 422.8,122.1 423.8,123.3 424.8,124.5 425.8,125.9 426.8,127.4 427.8,129.2 428.8,131.2 429.8,133.4 430.8,135.8 431.8,138.3 432.8,140.8 433.8,143.2 434.8,145.5 435.8,147.5 436.8,149.2 437.8,150.8 438.8,152.0 439.8,153.1 440.8,154.0 441.8,154.6 442.8,155.2 443.8,155.6 444.8,156.0 445.8,156.3 446.8,156.6 447.8,156.9 448.8,157.1 449.8,157.3 450.8,157.5 451.6,157.6" fill="none" stroke="#ff3b3b" stroke-width="1.25" stroke-opacity="1.00" stroke-linejoin="round"/>
<path d="M328.8,52.0 329.8,52.5 330.8,53.0 331.8,53.5 332.8,54.0 333.8,54.5 334.8,55.0 335.8,55.5 336.8,56.0 337.8,56.5 338.8,57.0 339.8,57.6 340.8,58.1 341.8,58.6 342.8,59.1 343.8,59.6 344.8,60.2 345.8,60.7 346.8,61.2 347.8,61.8 348.8,62.3 349.8,62.8 350.8,63.4 351.8,63.9 352.8,64.4 353.8,65.0 354.8,65.5 355.8,66.1 356.8,66.6 357.8,67.1 358.8,67.7 359.8,68.3 360.8,68.8 361.8,69.4 362.8,69.9 363.8,70.5 364.8,71.1 365.8,71.6 366.8,72.2 367.8,72.8 368.8,73.4 369.8,73.9 370.8,74.5 371.8,75.1 372.8,75.8 373.8,76.4 374.8,77.0 375.8,77.6 376.8,78.2 377.8,78.8 378.8,79.5 379.8,80.1 380.8,80.7 381.8,81.3 382.8,81.9 383.8,82.5 384.8,83.0 385.8,83.6 386.8,84.1 387.8,84.7 388.8,85.2 389.8,85.7 390.8,86.1 391.8,86.6 392.8,87.1 393.8,87.5 394.8,88.0 395.8,88.5 396.8,89.0 397.8,89.5 398.8,90.0 399.8,90.5 400.8,91.1 401.8,91.8 402.8,92.4 403.8,93.1 404.8,93.8 405.8,94.5 406.8,95.3 407.8,96.0 408.8,96.8 409.8,97.7 410.8,98.5 411.8,99.4 412.8,100.3 413.8,101.3 414.8,102.3 415.8,103.5 416.8,104.7 417.8,106.1 418.8,107.6 419.8,109.2 420.8,111.0 421.8,113.0 422.8,115.0 423.8,117.1 424.8,119.2 425.8,121.4 426.8,123.7 427.8,126.0 428.8,128.4 429.8,130.8 430.8,133.1 431.8,135.5 432.8,137.9 433.8,140.1 434.8,142.3 435.8,144.4 436.8,146.3 437.8,148.1 438.8,149.6 439.8,151.0 440.8,152.1 441.8,153.1 442.8,153.9 443.8,154.5 444.8,155.1 445.8,155.6 446.8,156.1 447.8,156.5 448.8,156.8 449.8,157.1 450.8,157.4 451.6,157.6" fill="none" stroke="#3a3aff" stroke-width="1.25" stroke-opacity="1.00" stroke-linejoin="round"/>
<path d="M328.8,45.2 329.8,45.7 330.8,46.3 331.8,46.8 332.8,47.4 333.8,47.9 334.8,48.4 335.8,49.0 336.8,49.5 337.8,50.1 338.8,50.6 339.8,51.2 340.8,51.8 341.8,52.3 342.8,52.9 343.8,53.5 344.8,54.0 345.8,54.6 346.8,55.2 347.8,55.7 348.8,56.3 349.8,56.9 350.8,57.5 351.8,58.1 352.8,58.7 353.8,59.3 354.8,59.9 355.8,60.5 356.8,61.1 357.8,61.7 358.8,62.3 359.8,62.9 360.8,63.5 361.8,64.1 362.8,64.7 363.8,65.3 364.8,65.9 365.8,66.6 366.8,67.2 367.8,67.8 368.8,68.4 369.8,69.0 370.8,69.6 371.8,70.2 372.8,70.7 373.8,71.3 374.8,71.9 375.8,72.5 376.8,73.1 377.8,73.7 378.8,74.3 379.8,74.9 380.8,75.5 381.8,76.1 382.8,76.7 383.8,77.3 384.8,77.9 385.8,78.5 386.8,79.1 387.8,79.7 388.8,80.3 389.8,80.9 390.8,81.5 391.8,82.1 392.8,82.7 393.8,83.3 394.8,83.9 395.8,84.5 396.8,85.1 397.8,85.7 398.8,86.3 399.8,87.0 400.8,87.6 401.8,88.3 402.8,89.0 403.8,89.7 404.8,90.4 405.8,91.1 406.8,91.8 407.8,92.6 408.8,93.3 409.8,94.1 410.8,94.9 411.8,95.7 412.8,96.5 413.8,97.4 414.8,98.3 415.8,99.3 416.8,100.4 417.8,101.6 418.8,103.0 419.8,104.5 420.8,106.2 421.8,108.0 422.8,109.9 423.8,111.9 424.8,114.0 425.8,116.1 426.8,118.4 427.8,120.7 428.8,123.1 429.8,125.6 430.8,128.2 431.8,130.8 432.8,133.5 433.8,136.1 434.8,138.6 435.8,141.0 436.8,143.3 437.8,145.4 438.8,147.3 439.8,149.0 440.8,150.5 441.8,151.7 442.8,152.7 443.8,153.6 444.8,154.4 445.8,155.1 446.8,155.7 447.8,156.2 448.8,156.6 449.8,157.0 450.8,157.4 451.6,157.6" fill="none" stroke="#33a033" stroke-width="1.25" stroke-opacity="1.00" stroke-linejoin="round"/>
<path d="M328.8,40.2 329.8,40.7 330.8,41.2 331.8,41.8 332.8,42.3 333.8,42.8 334.8,43.3 335.8,43.9 336.8,44.4 337.8,45.0 338.8,45.5 339.8,46.1 340.8,46.7 341.8,47.2 342.8,47.8 343.8,48.4 344.8,49.0 345.8,49.6 346.8,50.2 347.8,50.8 348.8,51.4 349.8,52.0 350.8,52.6 351.8,53.2 352.8,53.9 353.8,54.5 354.8,55.2 355.8,55.9 356.8,56.5 357.8,57.2 358.8,57.9 359.8,58.5 360.8,59.2 361.8,59.9 362.8,60.5 363.8,61.2 364.8,61.8 365.8,62.5 366.8,63.1 367.8,63.7 368.8,64.4 369.8,65.0 370.8,65.6 371.8,66.2 372.8,66.8 373.8,67.4 374.8,68.0 375.8,68.6 376.8,69.1 377.8,69.7 378.8,70.3 379.8,70.9 380.8,71.5 381.8,72.1 382.8,72.7 383.8,73.3 384.8,73.9 385.8,74.6 386.8,75.2 387.8,75.9 388.8,76.5 389.8,77.2 390.8,77.9 391.8,78.6 392.8,79.3 393.8,80.0 394.8,80.7 395.8,81.4 396.8,82.1 397.8,82.8 398.8,83.5 399.8,84.2 400.8,84.9 401.8,85.6 402.8,86.3 403.8,86.9 404.8,87.6 405.8,88.3 406.8,89.1 407.8,89.9 408.8,90.7 409.8,91.7 410.8,92.7 411.8,93.7 412.8,94.8 413.8,96.0 414.8,97.3 415.8,98.6 416.8,100.0 417.8,101.5 418.8,103.1 419.8,104.8 420.8,106.6 421.8,108.5 422.8,110.6 423.8,112.8 424.8,115.2 425.8,117.9 426.8,120.8 427.8,123.9 428.8,127.3 429.8,130.8 430.8,134.3 431.8,137.7 432.8,140.8 433.8,143.6 434.8,146.1 435.8,148.1 436.8,149.8 437.8,151.2 438.8,152.3 439.8,153.3 440.8,154.1 441.8,154.8 442.8,155.3 443.8,155.8 444.8,156.3 445.8,156.6 446.8,156.9 447.8,157.1 448.8,157.3 449.8,157.4 450.8,157.5 451.6,157.6" fill="none" stroke="#cc3ad6" stroke-width="1.25" stroke-opacity="1.00" stroke-linejoin="round"/>
<path d="M476.9,145.0 477.9,144.9 478.9,144.8 479.9,144.7 480.9,144.6 481.9,144.6 482.9,144.5 483.9,144.4 484.9,144.3 485.9,144.2 486.9,144.1 487.9,143.9 488.9,143.8 489.9,143.7 490.9,143.6 491.9,143.5 492.9,143.4 493.9,143.3 494.9,143.1 495.9,143.0 496.9,142.9 497.9,142.8 498.9,142.7 499.9,142.5 500.9,142.4 501.9,142.3 502.9,142.1 503.9,142.0 504.9,141.9 505.9,141.7 506.9,141.6 507.9,141.5 508.9,141.3 509.9,141.2 510.9,141.1 511.9,140.9 512.9,140.8 513.9,140.6 514.9,140.5 515.9,140.4 516.9,140.2 517.9,140.1 518.9,139.9 519.9,139.8 520.9,139.7 521.9,139.5 522.9,139.3 523.9,139.2 524.9,139.0 525.9,138.8 526.9,138.6 527.9,138.4 528.9,138.2 529.9,138.0 530.9,137.8 531.9,137.5 532.9,137.3 533.9,137.0 534.9,136.7 535.9,136.4 536.9,136.0 537.9,135.6 538.9,135.2 539.9,134.8 540.9,134.3 541.9,133.8 542.9,133.3 543.9,132.7 544.9,132.1 545.9,131.5 546.9,130.8 547.9,129.9 548.9,128.9 549.9,127.8 550.9,126.5 551.9,125.2 552.9,123.8 553.9,122.4 554.9,121.1 555.9,119.8 556.9,118.6 557.9,117.4 558.9,116.2 559.9,115.1 560.9,114.0 561.9,112.9 562.9,111.8 563.9,110.7 564.9,109.6 565.9,108.5 566.9,107.3 567.9,106.1 568.9,104.9 569.9,103.5 570.9,102.1 571.9,100.6 572.9,99.2 573.9,97.8 574.9,96.7 575.9,95.7 576.9,95.2 577.9,95.0 578.9,95.4 579.9,96.3 580.9,97.8 581.9,99.7 582.9,102.0 583.9,104.4 584.9,106.9 585.9,109.7 586.9,112.9 587.9,116.4 588.9,120.2 589.9,124.1 590.9,127.9 591.9,131.5 592.9,134.9 593.9,138.0 594.9,141.0 595.9,144.0 596.9,146.8 597.9,149.5 598.1,150.2" fill="none" stroke="#ff3b3b" stroke-width="1.25" stroke-dasharray="4.5,3" stroke-opacity="1.00" stroke-linejoin="round"/>
<path d="M476.9,138.0 477.9,137.9 478.9,137.8 479.9,137.7 480.9,137.6 481.9,137.6 482.9,137.5 483.9,137.4 484.9,137.3 485.9,137.2 486.9,137.1 487.9,137.0 488.9,136.9 489.9,136.8 490.9,136.7 491.9,136.6 492.9,136.6 493.9,136.5 494.9,136.4 495.9,136.3 496.9,136.2 497.9,136.1 498.9,136.0 499.9,135.9 500.9,135.8 501.9,135.7 502.9,135.6 503.9,135.5 504.9,135.4 505.9,135.3 506.9,135.2 507.9,135.1 508.9,135.0 509.9,134.9 510.9,134.8 511.9,134.7 512.9,134.7 513.9,134.6 514.9,134.5 515.9,134.4 516.9,134.3 517.9,134.2 518.9,134.1 519.9,134.0 520.9,133.9 521.9,133.9 522.9,133.8 523.9,133.6 524.9,133.5 525.9,133.4 526.9,133.3 527.9,133.2 528.9,133.0 529.9,132.9 530.9,132.7 531.9,132.5 532.9,132.3 533.9,132.1 534.9,131.9 535.9,131.6 536.9,131.4 537.9,131.1 538.9,130.8 539.9,130.5 540.9,130.2 541.9,129.8 542.9,129.4 543.9,129.0 544.9,128.5 545.9,128.1 546.9,127.5 547.9,126.8 548.9,125.9 549.9,124.8 550.9,123.6 551.9,122.3 552.9,121.0 553.9,119.6 554.9,118.2 555.9,116.9 556.9,115.6 557.9,114.4 558.9,113.1 559.9,111.8 560.9,110.5 561.9,109.3 562.9,108.0 563.9,106.7 564.9,105.5 565.9,104.3 566.9,103.1 567.9,101.9 568.9,100.7 569.9,99.4 570.9,98.1 571.9,96.8 572.9,95.6 573.9,94.4 574.9,93.4 575.9,92.7 576.9,92.2 577.9,92.1 578.9,92.5 579.9,93.5 580.9,95.0 581.9,97.0 582.9,99.2 583.9,101.6 584.9,104.0 585.9,106.6 586.9,109.4 587.9,112.4 588.9,115.7 589.9,119.1 590.9,122.5 591.9,125.9 592.9,129.3 593.9,132.6 594.9,136.0 595.9,139.4 596.9,142.8 597.9,146.3 598.1,147.2" fill="none" stroke="#3a3aff" stroke-width="1.25" stroke-dasharray="4.5,3" stroke-opacity="1.00" stroke-linejoin="round"/>
<path d="M476.9,135.7 477.9,135.7 478.9,135.7 479.9,135.6 480.9,135.6 481.9,135.6 482.9,135.5 483.9,135.5 484.9,135.5 485.9,135.4 486.9,135.4 487.9,135.3 488.9,135.3 489.9,135.2 490.9,135.2 491.9,135.1 492.9,135.1 493.9,135.0 494.9,135.0 495.9,134.9 496.9,134.9 497.9,134.8 498.9,134.7 499.9,134.7 500.9,134.6 501.9,134.5 502.9,134.5 503.9,134.4 504.9,134.3 505.9,134.3 506.9,134.2 507.9,134.1 508.9,134.1 509.9,134.0 510.9,133.9 511.9,133.8 512.9,133.8 513.9,133.7 514.9,133.5 515.9,133.4 516.9,133.3 517.9,133.1 518.9,133.0 519.9,132.9 520.9,132.7 521.9,132.6 522.9,132.5 523.9,132.4 524.9,132.3 525.9,132.2 526.9,132.2 527.9,132.1 528.9,132.1 529.9,132.2 530.9,132.2 531.9,132.3 532.9,132.5 533.9,132.6 534.9,132.8 535.9,133.0 536.9,133.3 537.9,133.5 538.9,133.8 539.9,134.0 540.9,134.3 541.9,134.5 542.9,134.8 543.9,135.0 544.9,135.3 545.9,135.6 546.9,135.9 547.9,136.3 548.9,136.6 549.9,136.9 550.9,137.1 551.9,137.3 552.9,137.4 553.9,137.2 554.9,136.8 555.9,135.9 556.9,134.6 557.9,133.1 558.9,131.3 559.9,129.3 560.9,127.3 561.9,125.2 562.9,123.1 563.9,120.7 564.9,118.2 565.9,115.4 566.9,112.6 567.9,109.7 568.9,106.9 569.9,104.2 570.9,101.5 571.9,98.8 572.9,96.0 573.9,93.3 574.9,90.8 575.9,88.7 576.9,87.3 577.9,86.7 578.9,86.9 579.9,88.0 580.9,89.6 581.9,91.6 582.9,93.9 583.9,96.6 584.9,99.7 585.9,103.3 586.9,107.3 587.9,111.7 588.9,116.1 589.9,120.4 590.9,124.5 591.9,128.3 592.9,132.0 593.9,135.6 594.9,139.1 595.9,142.6 596.9,146.0 597.9,149.3 598.1,150.1" fill="none" stroke="#33a033" stroke-width="1.25" stroke-dasharray="4.5,3" stroke-opacity="1.00" stroke-linejoin="round"/>
<path d="M476.9,136.2 477.9,136.1 478.9,136.0 479.9,135.9 480.9,135.8 481.9,135.7 482.9,135.6 483.9,135.5 484.9,135.4 485.9,135.3 486.9,135.2 487.9,135.1 488.9,135.0 489.9,134.9 490.9,134.8 491.9,134.8 492.9,134.7 493.9,134.6 494.9,134.5 495.9,134.5 496.9,134.4 497.9,134.3 498.9,134.3 499.9,134.2 500.9,134.2 501.9,134.1 502.9,134.1 503.9,134.0 504.9,134.0 505.9,134.0 506.9,134.0 507.9,133.9 508.9,133.9 509.9,133.9 510.9,133.9 511.9,133.9 512.9,133.9 513.9,133.9 514.9,133.9 515.9,133.9 516.9,133.9 517.9,133.9 518.9,133.9 519.9,133.9 520.9,133.9 521.9,133.9 522.9,133.9 523.9,133.9 524.9,133.9 525.9,133.9 526.9,133.9 527.9,133.9 528.9,133.9 529.9,133.9 530.9,133.9 531.9,133.9 532.9,133.9 533.9,133.9 534.9,133.9 535.9,133.9 536.9,134.1 537.9,134.3 538.9,134.6 539.9,135.1 540.9,135.7 541.9,136.3 542.9,136.9 543.9,137.6 544.9,138.2 545.9,138.8 546.9,139.3 547.9,139.8 548.9,140.4 549.9,140.8 550.9,141.1 551.9,141.0 552.9,140.3 553.9,138.8 554.9,136.6 555.9,133.8 556.9,130.2 557.9,126.0 558.9,121.5 559.9,117.2 560.9,113.5 561.9,110.5 562.9,107.8 563.9,105.4 564.9,103.2 565.9,101.2 566.9,99.4 567.9,97.9 568.9,96.7 569.9,95.6 570.9,94.7 571.9,94.0 572.9,93.6 573.9,93.6 574.9,94.2 575.9,95.3 576.9,96.8 577.9,98.6 578.9,100.7 579.9,103.0 580.9,105.6 581.9,108.6 582.9,112.0 583.9,115.5 584.9,118.9 585.9,122.3 586.9,125.5 587.9,128.5 588.9,131.4 589.9,134.2 590.9,137.0 591.9,139.7 592.9,142.4 593.9,145.0 594.9,147.7 595.9,150.2 596.9,152.8 597.9,155.3 598.1,155.9" fill="none" stroke="#cc3ad6" stroke-width="1.25" stroke-dasharray="4.5,3" stroke-opacity="1.00" stroke-linejoin="round"/>
<path d="M476.9,99.8 477.9,99.8 478.9,99.8 479.9,99.8 480.9,99.8 481.9,99.8 482.9,99.8 483.9,99.8 484.9,99.8 485.9,99.8 486.9,99.8 487.9,99.8 488.9,99.8 489.9,99.8 490.9,99.8 491.9,99.8 492.9,99.8 493.9,99.8 494.9,99.8 495.9,99.8 496.9,99.8 497.9,99.8 498.9,99.8 499.9,99.8 500.9,99.8 501.9,99.8 502.9,99.8 503.9,99.8 504.9,99.8 505.9,99.8 506.9,99.8 507.9,99.8 508.9,99.8 509.9,99.8 510.9,99.8 511.9,99.8 512.9,99.8 513.9,99.8 514.9,99.8 515.9,99.8 516.9,99.8 517.9,99.8 518.9,99.8 519.9,99.8 520.9,99.8 521.9,99.8 522.9,99.7 523.9,99.7 524.9,99.6 525.9,99.5 526.9,99.4 527.9,99.3 528.9,99.2 529.9,99.1 530.9,98.9 531.9,98.7 532.9,98.5 533.9,98.1 534.9,97.8 535.9,97.4 536.9,96.9 537.9,96.5 538.9,96.0 539.9,95.5 540.9,95.0 541.9,94.5 542.9,93.9 543.9,93.4 544.9,92.8 545.9,92.1 546.9,91.5 547.9,90.8 548.9,90.1 549.9,89.4 550.9,88.7 551.9,88.1 552.9,87.6 553.9,87.0 554.9,86.5 555.9,86.0 556.9,85.4 557.9,84.7 558.9,83.8 559.9,82.8 560.9,81.5 561.9,80.0 562.9,78.4 563.9,76.7 564.9,75.1 565.9,73.5 566.9,71.9 567.9,70.3 568.9,68.6 569.9,66.8 570.9,64.7 571.9,62.5 572.9,60.1 573.9,57.7 574.9,55.3 575.9,53.2 576.9,51.4 577.9,50.1 578.9,49.3 579.9,49.1 580.9,49.4 581.9,50.2 582.9,51.2 583.9,52.6 584.9,54.3 585.9,56.7 586.9,59.9 587.9,64.0 588.9,68.7 589.9,73.7 590.9,78.9 591.9,84.3 592.9,89.9 593.9,95.9 594.9,102.0 595.9,108.3 596.9,114.7 597.9,121.1 598.4,124.3" fill="none" stroke="#ff3b3b" stroke-width="1.25" stroke-opacity="1.00" stroke-linejoin="round"/>
<path d="M476.9,94.1 477.9,94.2 478.9,94.3 479.9,94.3 480.9,94.4 481.9,94.5 482.9,94.5 483.9,94.6 484.9,94.7 485.9,94.7 486.9,94.8 487.9,94.8 488.9,94.9 489.9,95.0 490.9,95.0 491.9,95.1 492.9,95.1 493.9,95.1 494.9,95.2 495.9,95.2 496.9,95.3 497.9,95.3 498.9,95.3 499.9,95.3 500.9,95.4 501.9,95.4 502.9,95.4 503.9,95.4 504.9,95.4 505.9,95.5 506.9,95.5 507.9,95.5 508.9,95.5 509.9,95.5 510.9,95.5 511.9,95.5 512.9,95.5 513.9,95.5 514.9,95.5 515.9,95.5 516.9,95.5 517.9,95.4 518.9,95.4 519.9,95.4 520.9,95.4 521.9,95.4 522.9,95.3 523.9,95.3 524.9,95.3 525.9,95.2 526.9,95.2 527.9,95.2 528.9,95.1 529.9,95.1 530.9,95.0 531.9,95.0 532.9,94.9 533.9,94.8 534.9,94.7 535.9,94.5 536.9,94.4 537.9,94.2 538.9,94.0 539.9,93.8 540.9,93.6 541.9,93.4 542.9,93.1 543.9,92.8 544.9,92.4 545.9,91.9 546.9,91.3 547.9,90.7 548.9,90.0 549.9,89.4 550.9,88.7 551.9,88.1 552.9,87.5 553.9,86.9 554.9,86.3 555.9,85.7 556.9,85.0 557.9,84.2 558.9,83.2 559.9,82.1 560.9,80.6 561.9,79.0 562.9,77.3 563.9,75.5 564.9,73.7 565.9,72.0 566.9,70.2 567.9,68.5 568.9,66.7 569.9,64.8 570.9,62.9 571.9,60.8 572.9,58.7 573.9,56.7 574.9,54.9 575.9,53.4 576.9,52.4 577.9,52.0 578.9,52.1 579.9,52.8 580.9,53.9 581.9,55.4 582.9,57.2 583.9,59.7 584.9,63.0 585.9,67.4 586.9,72.6 587.9,78.3 588.9,83.9 589.9,89.4 590.9,94.7 591.9,99.9 592.9,105.1 593.9,110.0 594.9,114.5 595.9,118.7 596.9,122.5 597.9,126.0 598.4,127.7" fill="none" stroke="#3a3aff" stroke-width="1.25" stroke-opacity="1.00" stroke-linejoin="round"/>
<path d="M476.9,93.3 477.9,93.3 478.9,93.3 479.9,93.4 480.9,93.4 481.9,93.4 482.9,93.5 483.9,93.5 484.9,93.6 485.9,93.7 486.9,93.7 487.9,93.8 488.9,93.9 489.9,94.0 490.9,94.0 491.9,94.1 492.9,94.2 493.9,94.3 494.9,94.4 495.9,94.5 496.9,94.6 497.9,94.7 498.9,94.8 499.9,94.9 500.9,95.0 501.9,95.2 502.9,95.3 503.9,95.4 504.9,95.5 505.9,95.6 506.9,95.8 507.9,95.9 508.9,96.0 509.9,96.1 510.9,96.3 511.9,96.4 512.9,96.5 513.9,96.7 514.9,96.9 515.9,97.0 516.9,97.2 517.9,97.4 518.9,97.6 519.9,97.8 520.9,98.0 521.9,98.3 522.9,98.5 523.9,98.7 524.9,98.9 525.9,99.1 526.9,99.4 527.9,99.6 528.9,99.8 529.9,100.0 530.9,100.2 531.9,100.4 532.9,100.7 533.9,100.9 534.9,101.1 535.9,101.3 536.9,101.5 537.9,101.7 538.9,101.9 539.9,102.1 540.9,102.2 541.9,102.4 542.9,102.6 543.9,102.7 544.9,102.8 545.9,102.9 546.9,102.9 547.9,102.9 548.9,102.8 549.9,102.6 550.9,102.3 551.9,101.9 552.9,101.5 553.9,100.9 554.9,100.1 555.9,99.1 556.9,97.8 557.9,96.3 558.9,94.7 559.9,92.8 560.9,90.8 561.9,88.5 562.9,85.9 563.9,83.1 564.9,80.0 565.9,76.6 566.9,73.0 567.9,68.9 568.9,64.5 569.9,59.8 570.9,55.5 571.9,51.8 572.9,48.7 573.9,46.2 574.9,44.0 575.9,42.3 576.9,41.1 577.9,40.5 578.9,40.6 579.9,41.3 580.9,42.4 581.9,43.9 582.9,45.7 583.9,48.0 584.9,50.9 585.9,54.7 586.9,59.3 587.9,64.4 588.9,70.0 589.9,76.0 590.9,82.7 591.9,90.0 592.9,97.4 593.9,104.5 594.9,110.9 595.9,116.4 596.9,121.2 597.9,125.6 598.4,127.6" fill="none" stroke="#33a033" stroke-width="1.25" stroke-opacity="1.00" stroke-linejoin="round"/>
<path d="M476.9,99.8 477.9,99.8 478.9,99.8 479.9,99.8 480.9,99.8 481.9,99.8 482.9,99.8 483.9,99.8 484.9,99.8 485.9,99.8 486.9,99.8 487.9,99.8 488.9,99.8 489.9,99.8 490.9,99.8 491.9,99.8 492.9,99.9 493.9,99.9 494.9,99.9 495.9,99.9 496.9,99.9 497.9,99.9 498.9,99.9 499.9,99.9 500.9,99.9 501.9,99.9 502.9,100.0 503.9,100.0 504.9,100.0 505.9,100.0 506.9,100.0 507.9,100.0 508.9,100.0 509.9,100.1 510.9,100.1 511.9,100.1 512.9,100.1 513.9,100.1 514.9,100.2 515.9,100.2 516.9,100.2 517.9,100.2 518.9,100.3 519.9,100.3 520.9,100.4 521.9,100.5 522.9,100.6 523.9,100.8 524.9,101.0 525.9,101.2 526.9,101.5 527.9,101.8 528.9,102.1 529.9,102.4 530.9,102.8 531.9,103.3 532.9,103.9 533.9,104.5 534.9,105.2 535.9,105.8 536.9,106.4 537.9,107.0 538.9,107.5 539.9,108.0 540.9,108.5 541.9,109.0 542.9,109.3 543.9,109.5 544.9,109.4 545.9,109.1 546.9,108.5 547.9,107.7 548.9,106.7 549.9,105.7 550.9,104.6 551.9,103.4 552.9,102.0 553.9,100.5 554.9,98.7 555.9,96.7 556.9,94.3 557.9,91.6 558.9,88.6 559.9,85.6 560.9,82.5 561.9,79.2 562.9,75.9 563.9,72.6 564.9,69.5 565.9,66.5 566.9,63.7 567.9,61.2 568.9,58.8 569.9,56.6 570.9,54.4 571.9,52.6 572.9,51.3 573.9,50.8 574.9,51.1 575.9,52.0 576.9,53.5 577.9,55.4 578.9,57.7 579.9,60.6 580.9,64.4 581.9,69.2 582.9,74.6 583.9,80.2 584.9,85.6 585.9,90.7 586.9,95.6 587.9,100.4 588.9,105.0 589.9,109.2 590.9,113.0 591.9,116.5 592.9,119.8 593.9,122.9 594.9,125.7 595.9,128.3 596.9,130.7 597.9,132.8 598.4,133.8" fill="none" stroke="#cc3ad6" stroke-width="1.25" stroke-opacity="1.00" stroke-linejoin="round"/>
<path d="M31.5,232.7 32.5,232.7 33.5,232.8 34.5,232.8 35.5,232.8 36.5,232.9 37.5,232.9 38.5,233.0 39.5,233.0 40.5,233.0 41.5,233.1 42.5,233.1 43.5,233.1 44.5,233.2 45.5,233.2 46.5,233.3 47.5,233.3 48.5,233.3 49.5,233.4 50.5,233.4 51.5,233.4 52.5,233.5 53.5,233.5 54.5,233.5 55.5,233.6 56.5,233.6 57.5,233.6 58.5,233.7 59.5,233.7 60.5,233.7 61.5,233.8 62.5,233.8 63.5,233.8 64.5,233.9 65.5,233.9 66.5,233.9 67.5,234.0 68.5,234.0 69.5,234.0 70.5,234.0 71.5,234.1 72.5,234.1 73.5,234.1 74.5,234.1 75.5,234.1 76.5,234.2 77.5,234.2 78.5,234.2 79.5,234.2 80.5,234.3 81.5,234.3 82.5,234.3 83.5,234.3 84.5,234.4 85.5,234.4 86.5,234.4 87.5,234.4 88.5,234.5 89.5,234.5 90.5,234.5 91.5,234.6 92.5,234.6 93.5,234.6 94.5,234.7 95.5,234.7 96.5,234.7 97.5,234.8 98.5,234.8 99.5,234.9 100.5,234.9 101.5,234.9 102.5,235.0 103.5,235.0 104.5,235.1 105.5,235.2 106.5,235.2 107.5,235.3 108.5,235.4 109.5,235.5 110.5,235.6 111.5,235.8 112.5,235.9 113.5,236.0 114.5,236.2 115.5,236.4 116.5,236.5 117.5,236.7 118.5,237.0 119.5,237.2 120.5,237.5 121.5,237.8 122.5,238.2 123.5,238.5 124.5,238.9 125.5,239.3 126.5,239.7 127.5,240.2 128.5,240.7 129.5,241.2 130.5,241.7 131.5,242.3 132.5,242.9 133.5,243.5 134.5,244.2 135.5,244.9 136.5,245.6 137.5,246.3 138.5,247.1 139.5,247.9 140.5,248.8 141.5,249.7 142.5,250.8 143.5,251.9 144.5,253.2 145.5,254.5 146.5,255.9 147.5,257.3 148.5,258.7 149.5,260.1 150.5,261.6 151.5,263.1 152.5,264.5 153.5,266.0 154.5,267.5 154.8,267.9" fill="none" stroke="#ff3b3b" stroke-width="1.25" stroke-dasharray="4.5,3" stroke-opacity="1.00" stroke-linejoin="round"/>
<path d="M31.5,225.9 32.5,226.0 33.5,226.1 34.5,226.2 35.5,226.3 36.5,226.4 37.5,226.5 38.5,226.6 39.5,226.7 40.5,226.8 41.5,226.9 42.5,226.9 43.5,227.0 44.5,227.1 45.5,227.2 46.5,227.3 47.5,227.4 48.5,227.4 49.5,227.5 50.5,227.6 51.5,227.7 52.5,227.7 53.5,227.8 54.5,227.9 55.5,227.9 56.5,228.0 57.5,228.1 58.5,228.1 59.5,228.2 60.5,228.2 61.5,228.3 62.5,228.3 63.5,228.3 64.5,228.4 65.5,228.4 66.5,228.5 67.5,228.5 68.5,228.5 69.5,228.6 70.5,228.6 71.5,228.7 72.5,228.7 73.5,228.7 74.5,228.8 75.5,228.8 76.5,228.9 77.5,228.9 78.5,228.9 79.5,229.0 80.5,229.0 81.5,229.0 82.5,229.1 83.5,229.1 84.5,229.1 85.5,229.1 86.5,229.2 87.5,229.2 88.5,229.2 89.5,229.2 90.5,229.3 91.5,229.3 92.5,229.3 93.5,229.3 94.5,229.3 95.5,229.3 96.5,229.4 97.5,229.4 98.5,229.4 99.5,229.4 100.5,229.4 101.5,229.4 102.5,229.4 103.5,229.4 104.5,229.4 105.5,229.3 106.5,229.3 107.5,229.3 108.5,229.2 109.5,229.2 110.5,229.1 111.5,229.0 112.5,229.0 113.5,228.9 114.5,228.8 115.5,228.7 116.5,228.7 117.5,228.6 118.5,228.5 119.5,228.4 120.5,228.4 121.5,228.3 122.5,228.2 123.5,228.1 124.5,228.0 125.5,228.0 126.5,227.9 127.5,227.9 128.5,227.8 129.5,227.9 130.5,227.9 131.5,228.0 132.5,228.1 133.5,228.4 134.5,228.8 135.5,229.3 136.5,229.9 137.5,230.7 138.5,231.7 139.5,232.8 140.5,234.1 141.5,235.6 142.5,237.3 143.5,239.2 144.5,241.3 145.5,243.5 146.5,245.9 147.5,248.3 148.5,250.8 149.5,253.4 150.5,256.0 151.5,258.7 152.5,261.5 153.5,264.3 154.5,267.1 154.8,267.9" fill="none" stroke="#3a3aff" stroke-width="1.25" stroke-dasharray="4.5,3" stroke-opacity="1.00" stroke-linejoin="round"/>
<path d="M31.5,224.6 32.5,224.7 33.5,224.9 34.5,225.0 35.5,225.2 36.5,225.3 37.5,225.4 38.5,225.6 39.5,225.7 40.5,225.8 41.5,225.9 42.5,226.1 43.5,226.2 44.5,226.3 45.5,226.4 46.5,226.6 47.5,226.7 48.5,226.8 49.5,226.9 50.5,227.0 51.5,227.1 52.5,227.2 53.5,227.2 54.5,227.3 55.5,227.4 56.5,227.5 57.5,227.5 58.5,227.6 59.5,227.7 60.5,227.7 61.5,227.8 62.5,227.8 63.5,227.8 64.5,227.9 65.5,227.9 66.5,227.9 67.5,228.0 68.5,228.0 69.5,228.0 70.5,228.1 71.5,228.1 72.5,228.1 73.5,228.1 74.5,228.2 75.5,228.2 76.5,228.2 77.5,228.3 78.5,228.3 79.5,228.3 80.5,228.3 81.5,228.3 82.5,228.4 83.5,228.4 84.5,228.4 85.5,228.4 86.5,228.4 87.5,228.5 88.5,228.5 89.5,228.5 90.5,228.5 91.5,228.5 92.5,228.5 93.5,228.5 94.5,228.6 95.5,228.6 96.5,228.6 97.5,228.6 98.5,228.6 99.5,228.6 100.5,228.6 101.5,228.5 102.5,228.5 103.5,228.3 104.5,228.1 105.5,227.7 106.5,227.2 107.5,226.6 108.5,225.9 109.5,225.1 110.5,224.3 111.5,223.5 112.5,222.7 113.5,221.9 114.5,221.2 115.5,220.4 116.5,219.7 117.5,219.0 118.5,218.3 119.5,217.6 120.5,217.0 121.5,216.4 122.5,215.8 123.5,215.3 124.5,214.9 125.5,214.6 126.5,214.4 127.5,214.3 128.5,214.4 129.5,214.7 130.5,215.0 131.5,215.5 132.5,216.1 133.5,216.9 134.5,217.7 135.5,218.7 136.5,219.8 137.5,221.0 138.5,222.3 139.5,223.9 140.5,225.7 141.5,227.8 142.5,230.2 143.5,232.8 144.5,235.7 145.5,238.7 146.5,241.9 147.5,245.0 148.5,248.3 149.5,251.5 150.5,254.7 151.5,257.8 152.5,260.9 153.5,264.0 154.5,267.1 154.8,267.8" fill="none" stroke="#33a033" stroke-width="1.25" stroke-dasharray="4.5,3" stroke-opacity="1.00" stroke-linejoin="round"/>
<path d="M31.5,204.0 32.5,204.1 33.5,204.2 34.5,204.3 35.5,204.4 36.5,204.5 37.5,204.7 38.5,204.8 39.5,204.9 40.5,205.0 41.5,205.1 42.5,205.2 43.5,205.3 44.5,205.4 45.5,205.5 46.5,205.6 47.5,205.6 48.5,205.7 49.5,205.8 50.5,205.9 51.5,206.0 52.5,206.1 53.5,206.1 54.5,206.2 55.5,206.3 56.5,206.4 57.5,206.4 58.5,206.5 59.5,206.5 60.5,206.6 61.5,206.7 62.5,206.7 63.5,206.8 64.5,206.8 65.5,206.8 66.5,206.9 67.5,206.9 68.5,207.0 69.5,207.0 70.5,207.1 71.5,207.1 72.5,207.2 73.5,207.2 74.5,207.3 75.5,207.3 76.5,207.3 77.5,207.4 78.5,207.4 79.5,207.5 80.5,207.5 81.5,207.5 82.5,207.6 83.5,207.6 84.5,207.6 85.5,207.7 86.5,207.7 87.5,207.7 88.5,207.7 89.5,207.8 90.5,207.8 91.5,207.8 92.5,207.8 93.5,207.8 94.5,207.9 95.5,207.9 96.5,207.9 97.5,207.9 98.5,207.8 99.5,207.8 100.5,207.6 101.5,207.4 102.5,207.1 103.5,206.7 104.5,206.2 105.5,205.6 106.5,205.0 107.5,204.3 108.5,203.5 109.5,202.6 110.5,201.7 111.5,200.6 112.5,199.6 113.5,198.6 114.5,197.6 115.5,196.6 116.5,195.8 117.5,195.0 118.5,194.5 119.5,194.2 120.5,194.1 121.5,194.2 122.5,194.6 123.5,195.2 124.5,196.0 125.5,196.9 126.5,198.0 127.5,199.3 128.5,200.7 129.5,202.1 130.5,203.6 131.5,205.0 132.5,206.4 133.5,207.9 134.5,209.5 135.5,211.3 136.5,213.2 137.5,215.3 138.5,217.6 139.5,220.1 140.5,222.9 141.5,225.8 142.5,228.9 143.5,232.1 144.5,235.3 145.5,238.6 146.5,241.9 147.5,245.1 148.5,248.3 149.5,251.5 150.5,254.7 151.5,257.8 152.5,260.9 153.5,264.0 154.5,267.1 154.8,267.8" fill="none" stroke="#cc3ad6" stroke-width="1.25" stroke-dasharray="4.5,3" stroke-opacity="1.00" stroke-linejoin="round"/>
<path d="M31.5,229.0 32.5,229.0 33.5,229.1 34.5,229.1 35.5,229.2 36.5,229.2 37.5,229.3 38.5,229.3 39.5,229.4 40.5,229.4 41.5,229.4 42.5,229.5 43.5,229.5 44.5,229.6 45.5,229.6 46.5,229.7 47.5,229.7 48.5,229.7 49.5,229.8 50.5,229.8 51.5,229.8 52.5,229.9 53.5,229.9 54.5,230.0 55.5,230.0 56.5,230.0 57.5,230.1 58.5,230.1 59.5,230.1 60.5,230.1 61.5,230.2 62.5,230.2 63.5,230.2 64.5,230.3 65.5,230.3 66.5,230.3 67.5,230.3 68.5,230.3 69.5,230.4 70.5,230.4 71.5,230.4 72.5,230.4 73.5,230.4 74.5,230.4 75.5,230.5 76.5,230.5 77.5,230.5 78.5,230.5 79.5,230.5 80.5,230.5 81.5,230.5 82.5,230.5 83.5,230.6 84.5,230.6 85.5,230.6 86.5,230.6 87.5,230.6 88.5,230.6 89.5,230.7 90.5,230.7 91.5,230.7 92.5,230.7 93.5,230.7 94.5,230.8 95.5,230.8 96.5,230.8 97.5,230.8 98.5,230.9 99.5,230.9 100.5,230.9 101.5,231.0 102.5,231.0 103.5,231.1 104.5,231.1 105.5,231.2 106.5,231.3 107.5,231.4 108.5,231.5 109.5,231.7 110.5,231.9 111.5,232.1 112.5,232.3 113.5,232.5 114.5,232.8 115.5,233.0 116.5,233.3 117.5,233.5 118.5,233.8 119.5,234.1 120.5,234.5 121.5,234.8 122.5,235.2 123.5,235.6 124.5,236.1 125.5,236.5 126.5,237.0 127.5,237.6 128.5,238.2 129.5,238.8 130.5,239.6 131.5,240.4 132.5,241.2 133.5,242.1 134.5,243.1 135.5,244.1 136.5,245.1 137.5,246.2 138.5,247.3 139.5,248.4 140.5,249.5 141.5,250.5 142.5,251.6 143.5,252.7 144.5,253.9 145.5,255.2 146.5,256.5 147.5,257.9 148.5,259.4 149.5,260.8 150.5,262.2 151.5,263.6 152.5,265.0 153.5,266.3 154.5,267.6 154.8,267.9" fill="none" stroke="#ff3b3b" stroke-width="1.25" stroke-opacity="1.00" stroke-linejoin="round"/>
<path d="M31.5,217.6 32.5,217.6 33.5,217.7 34.5,217.7 35.5,217.8 36.5,217.8 37.5,217.9 38.5,217.9 39.5,217.9 40.5,218.0 41.5,218.0 42.5,218.1 43.5,218.1 44.5,218.1 45.5,218.2 46.5,218.2 47.5,218.3 48.5,218.3 49.5,218.4 50.5,218.4 51.5,218.4 52.5,218.5 53.5,218.5 54.5,218.6 55.5,218.6 56.5,218.6 57.5,218.7 58.5,218.7 59.5,218.8 60.5,218.8 61.5,218.9 62.5,218.9 63.5,218.9 64.5,219.0 65.5,219.0 66.5,219.1 67.5,219.1 68.5,219.2 69.5,219.2 70.5,219.2 71.5,219.3 72.5,219.3 73.5,219.4 74.5,219.4 75.5,219.4 76.5,219.5 77.5,219.5 78.5,219.6 79.5,219.6 80.5,219.6 81.5,219.7 82.5,219.7 83.5,219.8 84.5,219.8 85.5,219.9 86.5,219.9 87.5,219.9 88.5,220.0 89.5,220.0 90.5,220.1 91.5,220.1 92.5,220.2 93.5,220.2 94.5,220.3 95.5,220.3 96.5,220.3 97.5,220.4 98.5,220.4 99.5,220.5 100.5,220.5 101.5,220.6 102.5,220.6 103.5,220.7 104.5,220.7 105.5,220.7 106.5,220.8 107.5,220.8 108.5,220.9 109.5,220.9 110.5,221.0 111.5,221.0 112.5,221.1 113.5,221.1 114.5,221.2 115.5,221.2 116.5,221.3 117.5,221.4 118.5,221.4 119.5,221.5 120.5,221.6 121.5,221.8 122.5,221.9 123.5,222.1 124.5,222.3 125.5,222.6 126.5,222.9 127.5,223.3 128.5,223.7 129.5,224.1 130.5,224.5 131.5,224.9 132.5,225.4 133.5,225.9 134.5,226.5 135.5,227.2 136.5,228.0 137.5,229.0 138.5,230.2 139.5,231.5 140.5,233.1 141.5,234.8 142.5,236.6 143.5,238.6 144.5,240.8 145.5,243.0 146.5,245.4 147.5,247.9 148.5,250.4 149.5,253.0 150.5,255.7 151.5,258.5 152.5,261.3 153.5,264.2 154.5,267.1 154.8,267.8" fill="none" stroke="#3a3aff" stroke-width="1.25" stroke-opacity="1.00" stroke-linejoin="round"/>
<path d="M31.5,213.7 32.5,213.8 33.5,214.0 34.5,214.1 35.5,214.2 36.5,214.3 37.5,214.5 38.5,214.6 39.5,214.7 40.5,214.8 41.5,214.9 42.5,215.0 43.5,215.2 44.5,215.3 45.5,215.4 46.5,215.5 47.5,215.6 48.5,215.7 49.5,215.8 50.5,215.9 51.5,216.0 52.5,216.1 53.5,216.2 54.5,216.3 55.5,216.4 56.5,216.5 57.5,216.6 58.5,216.7 59.5,216.8 60.5,216.8 61.5,216.9 62.5,217.0 63.5,217.1 64.5,217.2 65.5,217.2 66.5,217.3 67.5,217.4 68.5,217.5 69.5,217.6 70.5,217.6 71.5,217.7 72.5,217.8 73.5,217.9 74.5,218.0 75.5,218.0 76.5,218.1 77.5,218.2 78.5,218.3 79.5,218.3 80.5,218.4 81.5,218.5 82.5,218.6 83.5,218.6 84.5,218.7 85.5,218.7 86.5,218.8 87.5,218.8 88.5,218.9 89.5,218.9 90.5,219.0 91.5,219.0 92.5,219.1 93.5,219.1 94.5,219.1 95.5,219.1 96.5,219.2 97.5,219.2 98.5,219.2 99.5,219.1 100.5,219.1 101.5,219.0 102.5,218.9 103.5,218.7 104.5,218.5 105.5,218.2 106.5,218.0 107.5,217.7 108.5,217.3 109.5,217.0 110.5,216.6 111.5,216.2 112.5,215.7 113.5,215.1 114.5,214.6 115.5,214.0 116.5,213.4 117.5,212.8 118.5,212.3 119.5,211.7 120.5,211.3 121.5,210.9 122.5,210.5 123.5,210.3 124.5,210.3 125.5,210.3 126.5,210.5 127.5,210.7 128.5,211.0 129.5,211.3 130.5,211.7 131.5,212.2 132.5,212.8 133.5,213.5 134.5,214.4 135.5,215.4 136.5,216.5 137.5,217.9 138.5,219.5 139.5,221.4 140.5,223.6 141.5,226.1 142.5,228.9 143.5,231.9 144.5,235.0 145.5,238.2 146.5,241.5 147.5,244.8 148.5,248.1 149.5,251.4 150.5,254.7 151.5,257.8 152.5,261.0 153.5,264.0 154.5,267.1 154.8,267.9" fill="none" stroke="#33a033" stroke-width="1.25" stroke-opacity="1.00" stroke-linejoin="round"/>
<path d="M31.5,191.7 32.5,191.8 33.5,191.9 34.5,192.0 35.5,192.2 36.5,192.3 37.5,192.4 38.5,192.5 39.5,192.6 40.5,192.7 41.5,192.8 42.5,192.9 43.5,193.0 44.5,193.1 45.5,193.2 46.5,193.3 47.5,193.4 48.5,193.5 49.5,193.6 50.5,193.7 51.5,193.8 52.5,193.9 53.5,194.0 54.5,194.0 55.5,194.1 56.5,194.2 57.5,194.3 58.5,194.3 59.5,194.4 60.5,194.5 61.5,194.5 62.5,194.6 63.5,194.7 64.5,194.7 65.5,194.8 66.5,194.8 67.5,194.9 68.5,195.0 69.5,195.0 70.5,195.1 71.5,195.1 72.5,195.2 73.5,195.3 74.5,195.3 75.5,195.4 76.5,195.4 77.5,195.5 78.5,195.5 79.5,195.6 80.5,195.6 81.5,195.7 82.5,195.7 83.5,195.8 84.5,195.8 85.5,195.9 86.5,195.9 87.5,196.0 88.5,196.0 89.5,196.0 90.5,196.1 91.5,196.1 92.5,196.1 93.5,196.1 94.5,196.1 95.5,196.2 96.5,196.2 97.5,196.2 98.5,196.1 99.5,196.1 100.5,196.0 101.5,195.8 102.5,195.5 103.5,195.1 104.5,194.7 105.5,194.2 106.5,193.6 107.5,193.0 108.5,192.4 109.5,191.7 110.5,190.9 111.5,190.2 112.5,189.4 113.5,188.7 114.5,188.1 115.5,187.5 116.5,187.1 117.5,186.8 118.5,186.7 119.5,186.9 120.5,187.3 121.5,187.9 122.5,188.7 123.5,189.7 124.5,191.0 125.5,192.5 126.5,194.2 127.5,195.9 128.5,197.7 129.5,199.4 130.5,200.9 131.5,202.3 132.5,203.7 133.5,205.2 134.5,206.9 135.5,208.7 136.5,210.9 137.5,213.2 138.5,215.8 139.5,218.6 140.5,221.6 141.5,224.7 142.5,228.0 143.5,231.3 144.5,234.7 145.5,238.1 146.5,241.5 147.5,244.9 148.5,248.2 149.5,251.5 150.5,254.7 151.5,257.8 152.5,261.0 153.5,264.0 154.5,267.1 154.8,267.9" fill="none" stroke="#cc3ad6" stroke-width="1.25" stroke-opacity="1.00" stroke-linejoin="round"/>
<g fill="#ff5a5a" fill-opacity="0.80"><circle cx="213.4" cy="198.0" r="0.85"/><circle cx="246.4" cy="208.8" r="0.85"/><circle cx="264.4" cy="236.1" r="0.85"/><circle cx="216.9" cy="201.4" r="0.85"/><circle cx="187.2" cy="186.6" r="0.85"/><circle cx="183.2" cy="183.3" r="0.85"/><circle cx="297.6" cy="269.5" r="0.85"/><circle cx="250.6" cy="222.3" r="0.85"/><circle cx="268.9" cy="230.7" r="0.85"/><circle cx="215.5" cy="195.1" r="0.85"/><circle cx="278.9" cy="252.4" r="0.85"/><circle cx="206.1" cy="198.6" r="0.85"/><circle cx="257.6" cy="224.9" r="0.85"/><circle cx="217.0" cy="198.1" r="0.85"/><circle cx="252.4" cy="218.7" r="0.85"/><circle cx="278.8" cy="239.7" r="0.85"/><circle cx="269.8" cy="233.9" r="0.85"/><circle cx="246.4" cy="213.4" r="0.85"/><circle cx="266.1" cy="233.4" r="0.85"/><circle cx="282.7" cy="246.5" r="0.85"/><circle cx="298.8" cy="267.6" r="0.85"/><circle cx="297.7" cy="268.6" r="0.85"/><circle cx="279.4" cy="238.8" r="0.85"/><circle cx="279.5" cy="245.3" r="0.85"/><circle cx="211.3" cy="194.7" r="0.85"/><circle cx="201.3" cy="187.4" r="0.85"/><circle cx="192.8" cy="180.6" r="0.85"/><circle cx="261.4" cy="221.8" r="0.85"/><circle cx="240.7" cy="213.3" r="0.85"/><circle cx="182.6" cy="183.1" r="0.85"/><circle cx="229.2" cy="210.9" r="0.85"/><circle cx="289.1" cy="250.3" r="0.85"/><circle cx="272.1" cy="238.8" r="0.85"/><circle cx="281.1" cy="243.6" r="0.85"/><circle cx="289.2" cy="247.4" r="0.85"/><circle cx="292.6" cy="255.7" r="0.85"/><circle cx="183.4" cy="179.3" r="0.85"/><circle cx="218.8" cy="199.3" r="0.85"/></g>
<g fill="#5a5aff" fill-opacity="0.80"><circle cx="204.1" cy="190.8" r="0.85"/><circle cx="212.7" cy="193.9" r="0.85"/><circle cx="300.4" cy="259.5" r="0.85"/><circle cx="295.1" cy="253.8" r="0.85"/><circle cx="226.9" cy="198.3" r="0.85"/><circle cx="237.8" cy="204.0" r="0.85"/><circle cx="187.5" cy="186.2" r="0.85"/><circle cx="193.3" cy="183.1" r="0.85"/><circle cx="214.9" cy="197.5" r="0.85"/><circle cx="227.7" cy="199.4" r="0.85"/><circle cx="296.5" cy="251.4" r="0.85"/><circle cx="201.4" cy="188.8" r="0.85"/><circle cx="274.2" cy="230.5" r="0.85"/><circle cx="280.8" cy="241.0" r="0.85"/><circle cx="206.2" cy="190.7" r="0.85"/><circle cx="281.7" cy="237.7" r="0.85"/><circle cx="268.4" cy="223.8" r="0.85"/><circle cx="207.1" cy="191.0" r="0.85"/><circle cx="264.5" cy="222.3" r="0.85"/><circle cx="239.5" cy="202.3" r="0.85"/><circle cx="184.1" cy="183.4" r="0.85"/><circle cx="220.5" cy="195.3" r="0.85"/><circle cx="260.7" cy="221.8" r="0.85"/><circle cx="222.8" cy="198.1" r="0.85"/><circle cx="202.5" cy="190.6" r="0.85"/><circle cx="285.3" cy="240.1" r="0.85"/><circle cx="283.0" cy="237.2" r="0.85"/><circle cx="272.0" cy="233.3" r="0.85"/><circle cx="191.8" cy="189.4" r="0.85"/><circle cx="198.4" cy="194.6" r="0.85"/><circle cx="242.7" cy="209.4" r="0.85"/><circle cx="249.8" cy="209.3" r="0.85"/><circle cx="276.7" cy="225.9" r="0.85"/><circle cx="194.5" cy="189.4" r="0.85"/><circle cx="246.3" cy="210.3" r="0.85"/><circle cx="211.7" cy="192.6" r="0.85"/><circle cx="272.5" cy="229.8" r="0.85"/><circle cx="237.3" cy="213.6" r="0.85"/></g>
<g fill="#40a040" fill-opacity="0.80"><circle cx="261.4" cy="228.6" r="0.85"/><circle cx="264.9" cy="227.6" r="0.85"/><circle cx="299.8" cy="262.8" r="0.85"/><circle cx="243.7" cy="213.9" r="0.85"/><circle cx="188.9" cy="194.4" r="0.85"/><circle cx="238.5" cy="215.9" r="0.85"/><circle cx="193.1" cy="196.0" r="0.85"/><circle cx="219.5" cy="204.6" r="0.85"/><circle cx="195.0" cy="197.0" r="0.85"/><circle cx="250.9" cy="220.8" r="0.85"/><circle cx="203.7" cy="198.9" r="0.85"/><circle cx="226.1" cy="208.6" r="0.85"/><circle cx="299.0" cy="262.0" r="0.85"/><circle cx="271.9" cy="241.5" r="0.85"/><circle cx="242.0" cy="219.4" r="0.85"/><circle cx="221.8" cy="200.2" r="0.85"/><circle cx="274.5" cy="238.1" r="0.85"/><circle cx="296.1" cy="262.2" r="0.85"/><circle cx="227.0" cy="207.3" r="0.85"/><circle cx="242.7" cy="217.2" r="0.85"/><circle cx="289.0" cy="248.2" r="0.85"/><circle cx="277.3" cy="237.3" r="0.85"/><circle cx="234.9" cy="214.7" r="0.85"/><circle cx="254.4" cy="227.4" r="0.85"/><circle cx="257.1" cy="230.5" r="0.85"/><circle cx="223.1" cy="209.6" r="0.85"/><circle cx="218.0" cy="201.5" r="0.85"/><circle cx="229.1" cy="207.2" r="0.85"/><circle cx="210.4" cy="203.6" r="0.85"/><circle cx="262.1" cy="230.9" r="0.85"/><circle cx="211.8" cy="206.5" r="0.85"/><circle cx="301.5" cy="262.5" r="0.85"/><circle cx="284.5" cy="244.7" r="0.85"/><circle cx="231.5" cy="210.7" r="0.85"/><circle cx="254.6" cy="218.0" r="0.85"/><circle cx="225.3" cy="210.5" r="0.85"/><circle cx="288.7" cy="254.5" r="0.85"/><circle cx="277.0" cy="236.6" r="0.85"/></g>
<g fill="#d060dc" fill-opacity="0.80"><circle cx="185.3" cy="215.1" r="0.85"/><circle cx="240.9" cy="227.4" r="0.85"/><circle cx="277.8" cy="251.3" r="0.85"/><circle cx="224.7" cy="224.2" r="0.85"/><circle cx="221.2" cy="228.6" r="0.85"/><circle cx="209.7" cy="220.2" r="0.85"/><circle cx="273.9" cy="248.1" r="0.85"/><circle cx="230.3" cy="229.5" r="0.85"/><circle cx="221.2" cy="218.8" r="0.85"/><circle cx="239.1" cy="234.4" r="0.85"/><circle cx="219.4" cy="225.5" r="0.85"/><circle cx="194.7" cy="209.8" r="0.85"/><circle cx="248.3" cy="230.1" r="0.85"/><circle cx="290.3" cy="256.4" r="0.85"/><circle cx="230.1" cy="220.7" r="0.85"/><circle cx="267.0" cy="248.0" r="0.85"/><circle cx="185.0" cy="209.5" r="0.85"/><circle cx="271.9" cy="244.5" r="0.85"/><circle cx="246.3" cy="235.3" r="0.85"/><circle cx="227.1" cy="225.8" r="0.85"/><circle cx="281.4" cy="252.4" r="0.85"/><circle cx="269.2" cy="246.5" r="0.85"/><circle cx="221.0" cy="220.3" r="0.85"/><circle cx="205.4" cy="214.3" r="0.85"/><circle cx="264.0" cy="246.0" r="0.85"/><circle cx="202.9" cy="220.5" r="0.85"/><circle cx="274.8" cy="250.1" r="0.85"/><circle cx="294.8" cy="260.9" r="0.85"/><circle cx="242.7" cy="237.1" r="0.85"/><circle cx="302.5" cy="258.1" r="0.85"/><circle cx="252.1" cy="237.4" r="0.85"/><circle cx="283.4" cy="248.4" r="0.85"/><circle cx="214.7" cy="220.1" r="0.85"/><circle cx="247.0" cy="231.5" r="0.85"/><circle cx="182.0" cy="208.7" r="0.85"/><circle cx="275.1" cy="247.8" r="0.85"/></g>
<path d="M180.0,183.0 181.0,183.4 182.0,183.8 183.0,184.1 184.0,184.5 185.0,184.9 186.0,185.2 187.0,185.6 188.0,186.0 189.0,186.4 190.0,186.7 191.0,187.1 192.0,187.5 193.0,187.9 194.0,188.3 195.0,188.7 196.0,189.0 197.0,189.4 198.0,189.8 199.0,190.2 200.0,190.6 201.0,191.0 202.0,191.4 203.0,191.8 204.0,192.2 205.0,192.7 206.0,193.1 207.0,193.5 208.0,193.9 209.0,194.4 210.0,194.8 211.0,195.2 212.0,195.7 213.0,196.1 214.0,196.6 215.0,197.0 216.0,197.5 217.0,198.0 218.0,198.4 219.0,198.9 220.0,199.4 221.0,199.9 222.0,200.4 223.0,200.9 224.0,201.4 225.0,201.9 226.0,202.4 227.0,202.9 228.0,203.5 229.0,204.0 230.0,204.6 231.0,205.1 232.0,205.7 233.0,206.2 234.0,206.8 235.0,207.4 236.0,208.0 237.0,208.6 238.0,209.2 239.0,209.8 240.0,210.4 241.0,211.1 242.0,211.7 243.0,212.4 244.0,213.0 245.0,213.7 246.0,214.4 247.0,215.1 248.0,215.8 249.0,216.5 250.0,217.2 251.0,217.9 252.0,218.6 253.0,219.4 254.0,220.2 255.0,220.9 256.0,221.7 257.0,222.5 258.0,223.3 259.0,224.1 260.0,224.9 261.0,225.8 262.0,226.6 263.0,227.5 264.0,228.3 265.0,229.2 266.0,230.1 267.0,231.0 268.0,231.9 269.0,232.8 270.0,233.8 271.0,234.7 272.0,235.7 273.0,236.7 274.0,237.7 275.0,238.7 276.0,239.7 277.0,240.7 278.0,241.8 279.0,242.8 280.0,243.9 281.0,245.0 282.0,246.1 283.0,247.2 284.0,248.4 285.0,249.5 286.0,250.7 287.0,251.9 288.0,253.0 289.0,254.3 290.0,255.5 291.0,256.7 292.0,258.0 293.0,259.2 294.0,260.5 295.0,261.8 296.0,263.1 297.0,264.5 298.0,265.8 299.0,267.2 300.0,268.6 301.0,270.0 302.0,271.4 302.5,272.1" fill="none" stroke="#ff3b3b" stroke-width="1.25" stroke-opacity="1.00" stroke-linejoin="round"/>
<path d="M180.0,182.4 181.0,182.7 182.0,183.1 183.0,183.4 184.0,183.8 185.0,184.2 186.0,184.5 187.0,184.9 188.0,185.3 189.0,185.6 190.0,186.0 191.0,186.3 192.0,186.7 193.0,187.1 194.0,187.4 195.0,187.8 196.0,188.2 197.0,188.5 198.0,188.9 199.0,189.2 200.0,189.6 201.0,190.0 202.0,190.4 203.0,190.7 204.0,191.1 205.0,191.5 206.0,191.9 207.0,192.2 208.0,192.6 209.0,193.0 210.0,193.4 211.0,193.8 212.0,194.2 213.0,194.6 214.0,195.0 215.0,195.4 216.0,195.8 217.0,196.2 218.0,196.6 219.0,197.1 220.0,197.5 221.0,197.9 222.0,198.3 223.0,198.8 224.0,199.2 225.0,199.7 226.0,200.1 227.0,200.6 228.0,201.0 229.0,201.5 230.0,202.0 231.0,202.5 232.0,202.9 233.0,203.4 234.0,203.9 235.0,204.4 236.0,204.9 237.0,205.5 238.0,206.0 239.0,206.5 240.0,207.0 241.0,207.6 242.0,208.1 243.0,208.7 244.0,209.3 245.0,209.8 246.0,210.4 247.0,211.0 248.0,211.6 249.0,212.2 250.0,212.8 251.0,213.4 252.0,214.0 253.0,214.7 254.0,215.3 255.0,216.0 256.0,216.6 257.0,217.3 258.0,218.0 259.0,218.7 260.0,219.4 261.0,220.1 262.0,220.8 263.0,221.5 264.0,222.3 265.0,223.0 266.0,223.8 267.0,224.6 268.0,225.3 269.0,226.1 270.0,226.9 271.0,227.7 272.0,228.6 273.0,229.4 274.0,230.3 275.0,231.1 276.0,232.0 277.0,232.9 278.0,233.8 279.0,234.7 280.0,235.6 281.0,236.5 282.0,237.5 283.0,238.4 284.0,239.4 285.0,240.4 286.0,241.4 287.0,242.4 288.0,243.4 289.0,244.4 290.0,245.5 291.0,246.5 292.0,247.6 293.0,248.7 294.0,249.8 295.0,250.9 296.0,252.1 297.0,253.2 298.0,254.4 299.0,255.5 300.0,256.7 301.0,257.9 302.0,259.2 302.5,259.8" fill="none" stroke="#3a3aff" stroke-width="1.25" stroke-opacity="1.00" stroke-linejoin="round"/>
<path d="M180.0,192.4 181.0,192.6 182.0,192.8 183.0,193.1 184.0,193.3 185.0,193.5 186.0,193.8 187.0,194.0 188.0,194.3 189.0,194.5 190.0,194.8 191.0,195.0 192.0,195.3 193.0,195.5 194.0,195.8 195.0,196.1 196.0,196.3 197.0,196.6 198.0,196.9 199.0,197.2 200.0,197.5 201.0,197.8 202.0,198.1 203.0,198.4 204.0,198.7 205.0,199.0 206.0,199.3 207.0,199.6 208.0,199.9 209.0,200.3 210.0,200.6 211.0,200.9 212.0,201.3 213.0,201.6 214.0,202.0 215.0,202.3 216.0,202.7 217.0,203.1 218.0,203.4 219.0,203.8 220.0,204.2 221.0,204.6 222.0,205.0 223.0,205.4 224.0,205.8 225.0,206.2 226.0,206.6 227.0,207.1 228.0,207.5 229.0,208.0 230.0,208.4 231.0,208.9 232.0,209.3 233.0,209.8 234.0,210.3 235.0,210.7 236.0,211.2 237.0,211.7 238.0,212.2 239.0,212.7 240.0,213.2 241.0,213.8 242.0,214.3 243.0,214.8 244.0,215.4 245.0,215.9 246.0,216.5 247.0,217.1 248.0,217.6 249.0,218.2 250.0,218.8 251.0,219.4 252.0,220.0 253.0,220.7 254.0,221.3 255.0,221.9 256.0,222.6 257.0,223.2 258.0,223.9 259.0,224.6 260.0,225.2 261.0,225.9 262.0,226.6 263.0,227.3 264.0,228.1 265.0,228.8 266.0,229.5 267.0,230.3 268.0,231.0 269.0,231.8 270.0,232.6 271.0,233.4 272.0,234.2 273.0,235.0 274.0,235.8 275.0,236.6 276.0,237.4 277.0,238.3 278.0,239.2 279.0,240.0 280.0,240.9 281.0,241.8 282.0,242.7 283.0,243.6 284.0,244.5 285.0,245.5 286.0,246.4 287.0,247.4 288.0,248.3 289.0,249.3 290.0,250.3 291.0,251.3 292.0,252.3 293.0,253.4 294.0,254.4 295.0,255.5 296.0,256.5 297.0,257.6 298.0,258.7 299.0,259.8 300.0,260.9 301.0,262.0 302.0,263.2 302.5,263.7" fill="none" stroke="#33a033" stroke-width="1.25" stroke-opacity="1.00" stroke-linejoin="round"/>
<path d="M180.0,211.0 181.0,211.2 182.0,211.5 183.0,211.8 184.0,212.0 185.0,212.3 186.0,212.6 187.0,212.8 188.0,213.1 189.0,213.4 190.0,213.6 191.0,213.9 192.0,214.2 193.0,214.5 194.0,214.7 195.0,215.0 196.0,215.3 197.0,215.6 198.0,215.8 199.0,216.1 200.0,216.4 201.0,216.7 202.0,217.0 203.0,217.3 204.0,217.6 205.0,217.8 206.0,218.1 207.0,218.4 208.0,218.7 209.0,219.0 210.0,219.3 211.0,219.6 212.0,219.9 213.0,220.3 214.0,220.6 215.0,220.9 216.0,221.2 217.0,221.5 218.0,221.8 219.0,222.2 220.0,222.5 221.0,222.8 222.0,223.2 223.0,223.5 224.0,223.8 225.0,224.2 226.0,224.5 227.0,224.9 228.0,225.2 229.0,225.6 230.0,226.0 231.0,226.3 232.0,226.7 233.0,227.1 234.0,227.5 235.0,227.8 236.0,228.2 237.0,228.6 238.0,229.0 239.0,229.4 240.0,229.8 241.0,230.2 242.0,230.6 243.0,231.1 244.0,231.5 245.0,231.9 246.0,232.3 247.0,232.8 248.0,233.2 249.0,233.7 250.0,234.1 251.0,234.6 252.0,235.1 253.0,235.5 254.0,236.0 255.0,236.5 256.0,237.0 257.0,237.5 258.0,238.0 259.0,238.5 260.0,239.0 261.0,239.5 262.0,240.0 263.0,240.6 264.0,241.1 265.0,241.6 266.0,242.2 267.0,242.7 268.0,243.3 269.0,243.9 270.0,244.4 271.0,245.0 272.0,245.6 273.0,246.2 274.0,246.8 275.0,247.4 276.0,248.0 277.0,248.7 278.0,249.3 279.0,249.9 280.0,250.6 281.0,251.2 282.0,251.9 283.0,252.6 284.0,253.2 285.0,253.9 286.0,254.6 287.0,255.3 288.0,256.0 289.0,256.8 290.0,257.5 291.0,258.2 292.0,259.0 293.0,259.7 294.0,260.5 295.0,261.2 296.0,262.0 297.0,262.8 298.0,263.6 299.0,264.4 300.0,265.2 301.0,266.0 302.0,266.9 302.5,267.3" fill="none" stroke="#cc3ad6" stroke-width="1.25" stroke-opacity="1.00" stroke-linejoin="round"/>
<path d="M328.8,202.5 329.8,203.0 330.8,203.4 331.8,203.9 332.8,204.3 333.8,204.7 334.8,205.2 335.8,205.6 336.8,205.9 337.8,206.3 338.8,206.7 339.8,207.1 340.8,207.4 341.8,207.8 342.8,208.1 343.8,208.4 344.8,208.8 345.8,209.1 346.8,209.4 347.8,209.7 348.8,210.0 349.8,210.4 350.8,210.7 351.8,211.0 352.8,211.3 353.8,211.6 354.8,211.9 355.8,212.2 356.8,212.5 357.8,212.8 358.8,213.1 359.8,213.4 360.8,213.7 361.8,214.1 362.8,214.4 363.8,214.7 364.8,215.1 365.8,215.4 366.8,215.8 367.8,216.1 368.8,216.5 369.8,216.9 370.8,217.2 371.8,217.6 372.8,218.0 373.8,218.5 374.8,218.9 375.8,219.3 376.8,219.8 377.8,220.2 378.8,220.7 379.8,221.2 380.8,221.7 381.8,222.2 382.8,222.8 383.8,223.3 384.8,223.9 385.8,224.5 386.8,225.1 387.8,225.7 388.8,226.4 389.8,227.0 390.8,227.7 391.8,228.4 392.8,229.2 393.8,229.9 394.8,230.7 395.8,231.4 396.8,232.2 397.8,233.0 398.8,233.8 399.8,234.6 400.8,235.3 401.8,236.1 402.8,236.9 403.8,237.7 404.8,238.5 405.8,239.3 406.8,240.1 407.8,240.9 408.8,241.7 409.8,242.6 410.8,243.4 411.8,244.2 412.8,245.0 413.8,245.8 414.8,246.7 415.8,247.5 416.8,248.3 417.8,249.2 418.8,250.0 419.8,250.8 420.8,251.7 421.8,252.5 422.8,253.4 423.8,254.3 424.8,255.2 425.8,256.0 426.8,256.9 427.8,257.8 428.8,258.7 429.8,259.6 430.8,260.6 431.8,261.5 432.8,262.5 433.8,263.4 434.8,264.4 435.8,265.4 436.8,266.4 437.8,267.4 438.8,268.5 439.8,269.5 440.8,270.6 441.8,271.7 442.8,272.8 443.8,273.9 444.8,275.0 445.8,276.2 446.8,277.4 447.8,278.6 448.8,279.8 449.8,281.1 450.8,282.3" fill="none" stroke="#ff3b3b" stroke-width="1.25" stroke-dasharray="4.5,3" stroke-opacity="1.00" stroke-linejoin="round"/>
<path d="M328.8,190.9 329.8,191.1 330.8,191.4 331.8,191.6 332.8,191.9 333.8,192.1 334.8,192.4 335.8,192.7 336.8,193.0 337.8,193.4 338.8,193.7 339.8,194.1 340.8,194.4 341.8,194.8 342.8,195.2 343.8,195.6 344.8,196.0 345.8,196.4 346.8,196.9 347.8,197.3 348.8,197.8 349.8,198.2 350.8,198.7 351.8,199.1 352.8,199.6 353.8,200.1 354.8,200.6 355.8,201.1 356.8,201.6 357.8,202.1 358.8,202.7 359.8,203.2 360.8,203.7 361.8,204.2 362.8,204.8 363.8,205.3 364.8,205.9 365.8,206.4 366.8,207.0 367.8,207.5 368.8,208.1 369.8,208.6 370.8,209.2 371.8,209.7 372.8,210.3 373.8,210.9 374.8,211.4 375.8,212.0 376.8,212.5 377.8,213.1 378.8,213.7 379.8,214.2 380.8,214.8 381.8,215.3 382.8,215.9 383.8,216.4 384.8,216.9 385.8,217.5 386.8,218.0 387.8,218.5 388.8,219.1 389.8,219.6 390.8,220.1 391.8,220.6 392.8,221.1 393.8,221.6 394.8,222.1 395.8,222.6 396.8,223.0 397.8,223.5 398.8,223.9 399.8,224.4 400.8,224.8 401.8,225.2 402.8,225.7 403.8,226.1 404.8,226.5 405.8,226.9 406.8,227.3 407.8,227.8 408.8,228.2 409.8,228.7 410.8,229.2 411.8,229.7 412.8,230.2 413.8,230.8 414.8,231.5 415.8,232.1 416.8,232.9 417.8,233.6 418.8,234.5 419.8,235.4 420.8,236.3 421.8,237.4 422.8,238.5 423.8,239.7 424.8,240.9 425.8,242.2 426.8,243.6 427.8,245.0 428.8,246.4 429.8,247.9 430.8,249.5 431.8,251.1 432.8,252.7 433.8,254.3 434.8,255.9 435.8,257.6 436.8,259.2 437.8,260.9 438.8,262.6 439.8,264.3 440.8,265.9 441.8,267.6 442.8,269.2 443.8,270.8 444.8,272.4 445.8,273.9 446.8,275.4 447.8,276.8 448.8,278.2 449.8,279.5 450.8,280.8" fill="none" stroke="#3a3aff" stroke-width="1.25" stroke-dasharray="4.5,3" stroke-opacity="1.00" stroke-linejoin="round"/>
<path d="M328.8,200.1 329.8,200.2 330.8,200.3 331.8,200.4 332.8,200.6 333.8,200.7 334.8,200.9 335.8,201.2 336.8,201.4 337.8,201.7 338.8,201.9 339.8,202.2 340.8,202.6 341.8,202.9 342.8,203.3 343.8,203.6 344.8,204.0 345.8,204.4 346.8,204.8 347.8,205.3 348.8,205.7 349.8,206.2 350.8,206.7 351.8,207.1 352.8,207.6 353.8,208.1 354.8,208.7 355.8,209.2 356.8,209.7 357.8,210.2 358.8,210.8 359.8,211.3 360.8,211.9 361.8,212.4 362.8,213.0 363.8,213.6 364.8,214.1 365.8,214.7 366.8,215.3 367.8,215.9 368.8,216.4 369.8,217.0 370.8,217.6 371.8,218.1 372.8,218.7 373.8,219.2 374.8,219.8 375.8,220.3 376.8,220.9 377.8,221.4 378.8,221.9 379.8,222.5 380.8,223.0 381.8,223.5 382.8,224.0 383.8,224.4 384.8,224.9 385.8,225.4 386.8,225.8 387.8,226.2 388.8,226.7 389.8,227.1 390.8,227.4 391.8,227.8 392.8,228.2 393.8,228.5 394.8,228.8 395.8,229.1 396.8,229.4 397.8,229.6 398.8,229.9 399.8,230.1 400.8,230.3 401.8,230.4 402.8,230.6 403.8,230.7 404.8,230.8 405.8,230.8 406.8,230.9 407.8,230.9 408.8,230.9 409.8,230.8 410.8,230.7 411.8,230.6 412.8,230.5 413.8,230.4 414.8,230.3 415.8,230.2 416.8,230.3 417.8,230.4 418.8,230.7 419.8,231.1 420.8,231.7 421.8,232.4 422.8,233.4 423.8,234.5 424.8,235.7 425.8,237.1 426.8,238.6 427.8,240.2 428.8,241.9 429.8,243.7 430.8,245.6 431.8,247.5 432.8,249.5 433.8,251.6 434.8,253.7 435.8,255.8 436.8,257.9 437.8,260.0 438.8,262.1 439.8,264.2 440.8,266.3 441.8,268.3 442.8,270.3 443.8,272.2 444.8,274.0 445.8,275.6 446.8,277.2 447.8,278.6 448.8,279.9 449.8,280.9 450.8,281.9" fill="none" stroke="#33a033" stroke-width="1.25" stroke-dasharray="4.5,3" stroke-opacity="1.00" stroke-linejoin="round"/>
<path d="M328.8,192.4 329.8,192.8 330.8,193.2 331.8,193.6 332.8,193.9 333.8,194.3 334.8,194.7 335.8,195.1 336.8,195.5 337.8,195.9 338.8,196.3 339.8,196.7 340.8,197.1 341.8,197.5 342.8,197.9 343.8,198.4 344.8,198.8 345.8,199.2 346.8,199.6 347.8,200.0 348.8,200.4 349.8,200.9 350.8,201.3 351.8,201.7 352.8,202.1 353.8,202.6 354.8,203.0 355.8,203.4 356.8,203.9 357.8,204.3 358.8,204.7 359.8,205.2 360.8,205.6 361.8,206.0 362.8,206.5 363.8,206.9 364.8,207.4 365.8,207.8 366.8,208.3 367.8,208.7 368.8,209.2 369.8,209.6 370.8,210.1 371.8,210.6 372.8,211.0 373.8,211.5 374.8,212.0 375.8,212.4 376.8,212.9 377.8,213.4 378.8,213.8 379.8,214.3 380.8,214.8 381.8,215.3 382.8,215.7 383.8,216.2 384.8,216.7 385.8,217.2 386.8,217.7 387.8,218.2 388.8,218.6 389.8,219.1 390.8,219.6 391.8,220.1 392.8,220.6 393.8,221.1 394.8,221.5 395.8,222.0 396.8,222.4 397.8,222.8 398.8,223.2 399.8,223.5 400.8,223.9 401.8,224.1 402.8,224.4 403.8,224.6 404.8,224.8 405.8,224.9 406.8,225.1 407.8,225.3 408.8,225.5 409.8,225.7 410.8,226.0 411.8,226.3 412.8,226.6 413.8,227.1 414.8,227.6 415.8,228.2 416.8,228.8 417.8,229.6 418.8,230.6 419.8,231.6 420.8,232.8 421.8,234.1 422.8,235.6 423.8,237.2 424.8,238.9 425.8,240.7 426.8,242.6 427.8,244.6 428.8,246.6 429.8,248.7 430.8,250.7 431.8,252.8 432.8,254.8 433.8,256.8 434.8,258.8 435.8,260.7 436.8,262.5 437.8,264.3 438.8,266.0 439.8,267.6 440.8,269.2 441.8,270.7 442.8,272.1 443.8,273.5 444.8,274.9 445.8,276.1 446.8,277.4 447.8,278.5 448.8,279.6 449.8,280.7 450.8,281.8" fill="none" stroke="#cc3ad6" stroke-width="1.25" stroke-dasharray="4.5,3" stroke-opacity="1.00" stroke-linejoin="round"/>
<path d="M328.8,197.0 329.8,197.3 330.8,197.6 331.8,197.9 332.8,198.2 333.8,198.5 334.8,198.8 335.8,199.1 336.8,199.4 337.8,199.7 338.8,200.0 339.8,200.4 340.8,200.7 341.8,201.0 342.8,201.3 343.8,201.7 344.8,202.0 345.8,202.3 346.8,202.7 347.8,203.0 348.8,203.4 349.8,203.7 350.8,204.1 351.8,204.4 352.8,204.8 353.8,205.2 354.8,205.6 355.8,205.9 356.8,206.3 357.8,206.7 358.8,207.1 359.8,207.5 360.8,207.9 361.8,208.4 362.8,208.8 363.8,209.2 364.8,209.7 365.8,210.1 366.8,210.6 367.8,211.0 368.8,211.5 369.8,212.0 370.8,212.4 371.8,212.9 372.8,213.4 373.8,213.9 374.8,214.5 375.8,215.0 376.8,215.5 377.8,216.1 378.8,216.6 379.8,217.2 380.8,217.7 381.8,218.3 382.8,218.9 383.8,219.5 384.8,220.1 385.8,220.7 386.8,221.4 387.8,222.0 388.8,222.6 389.8,223.3 390.8,224.0 391.8,224.6 392.8,225.3 393.8,226.0 394.8,226.8 395.8,227.5 396.8,228.2 397.8,229.0 398.8,229.7 399.8,230.5 400.8,231.3 401.8,232.1 402.8,232.9 403.8,233.7 404.8,234.6 405.8,235.4 406.8,236.3 407.8,237.1 408.8,238.0 409.8,238.9 410.8,239.9 411.8,240.8 412.8,241.7 413.8,242.7 414.8,243.7 415.8,244.7 416.8,245.7 417.8,246.7 418.8,247.7 419.8,248.8 420.8,249.8 421.8,250.9 422.8,252.0 423.8,253.1 424.8,254.2 425.8,255.3 426.8,256.5 427.8,257.6 428.8,258.7 429.8,259.9 430.8,261.0 431.8,262.2 432.8,263.3 433.8,264.5 434.8,265.6 435.8,266.7 436.8,267.9 437.8,269.0 438.8,270.1 439.8,271.2 440.8,272.3 441.8,273.4 442.8,274.5 443.8,275.5 444.8,276.5 445.8,277.6 446.8,278.6 447.8,279.6 448.8,280.5 449.8,281.4 450.8,282.4" fill="none" stroke="#ff3b3b" stroke-width="1.25" stroke-opacity="1.00" stroke-linejoin="round"/>
<path d="M328.8,177.0 329.8,177.6 330.8,178.1 331.8,178.7 332.8,179.3 333.8,179.8 334.8,180.4 335.8,180.9 336.8,181.5 337.8,182.0 338.8,182.6 339.8,183.1 340.8,183.7 341.8,184.2 342.8,184.7 343.8,185.3 344.8,185.8 345.8,186.3 346.8,186.8 347.8,187.4 348.8,187.9 349.8,188.4 350.8,188.9 351.8,189.4 352.8,190.0 353.8,190.5 354.8,191.0 355.8,191.5 356.8,192.0 357.8,192.5 358.8,193.0 359.8,193.5 360.8,194.0 361.8,194.5 362.8,195.0 363.8,195.5 364.8,196.0 365.8,196.5 366.8,197.0 367.8,197.5 368.8,198.0 369.8,198.5 370.8,199.0 371.8,199.5 372.8,200.0 373.8,200.5 374.8,201.0 375.8,201.5 376.8,202.0 377.8,202.5 378.8,202.9 379.8,203.4 380.8,203.9 381.8,204.4 382.8,204.9 383.8,205.4 384.8,205.9 385.8,206.4 386.8,206.9 387.8,207.4 388.8,207.9 389.8,208.4 390.8,208.9 391.8,209.4 392.8,209.9 393.8,210.5 394.8,211.0 395.8,211.5 396.8,212.0 397.8,212.5 398.8,213.0 399.8,213.5 400.8,214.1 401.8,214.6 402.8,215.1 403.8,215.6 404.8,216.2 405.8,216.7 406.8,217.3 407.8,217.9 408.8,218.5 409.8,219.1 410.8,219.8 411.8,220.5 412.8,221.2 413.8,222.0 414.8,222.8 415.8,223.7 416.8,224.6 417.8,225.6 418.8,226.6 419.8,227.7 420.8,228.9 421.8,230.1 422.8,231.4 423.8,232.8 424.8,234.3 425.8,235.8 426.8,237.4 427.8,239.1 428.8,240.9 429.8,242.8 430.8,244.7 431.8,246.7 432.8,248.8 433.8,250.9 434.8,253.0 435.8,255.2 436.8,257.3 437.8,259.5 438.8,261.6 439.8,263.7 440.8,265.8 441.8,267.8 442.8,269.7 443.8,271.5 444.8,273.2 445.8,274.8 446.8,276.3 447.8,277.7 448.8,278.9 449.8,279.9 450.8,280.8" fill="none" stroke="#3a3aff" stroke-width="1.25" stroke-opacity="1.00" stroke-linejoin="round"/>
<path d="M328.8,183.1 329.8,183.5 330.8,184.0 331.8,184.4 332.8,184.8 333.8,185.3 334.8,185.8 335.8,186.2 336.8,186.7 337.8,187.2 338.8,187.7 339.8,188.2 340.8,188.7 341.8,189.2 342.8,189.7 343.8,190.2 344.8,190.7 345.8,191.2 346.8,191.8 347.8,192.3 348.8,192.8 349.8,193.4 350.8,193.9 351.8,194.5 352.8,195.0 353.8,195.6 354.8,196.1 355.8,196.7 356.8,197.3 357.8,197.8 358.8,198.4 359.8,198.9 360.8,199.5 361.8,200.1 362.8,200.6 363.8,201.2 364.8,201.7 365.8,202.3 366.8,202.8 367.8,203.4 368.8,203.9 369.8,204.5 370.8,205.0 371.8,205.6 372.8,206.1 373.8,206.7 374.8,207.2 375.8,207.7 376.8,208.2 377.8,208.8 378.8,209.3 379.8,209.8 380.8,210.3 381.8,210.8 382.8,211.3 383.8,211.8 384.8,212.3 385.8,212.7 386.8,213.2 387.8,213.6 388.8,214.1 389.8,214.5 390.8,215.0 391.8,215.4 392.8,215.8 393.8,216.2 394.8,216.6 395.8,217.0 396.8,217.4 397.8,217.8 398.8,218.1 399.8,218.5 400.8,218.8 401.8,219.1 402.8,219.4 403.8,219.7 404.8,220.0 405.8,220.3 406.8,220.7 407.8,221.0 408.8,221.4 409.8,221.7 410.8,222.2 411.8,222.6 412.8,223.1 413.8,223.6 414.8,224.2 415.8,224.9 416.8,225.6 417.8,226.4 418.8,227.3 419.8,228.2 420.8,229.3 421.8,230.4 422.8,231.6 423.8,232.9 424.8,234.3 425.8,235.8 426.8,237.4 427.8,239.0 428.8,240.7 429.8,242.5 430.8,244.3 431.8,246.2 432.8,248.1 433.8,250.0 434.8,252.0 435.8,254.0 436.8,256.0 437.8,258.0 438.8,260.1 439.8,262.1 440.8,264.2 441.8,266.2 442.8,268.3 443.8,270.3 444.8,272.3 445.8,274.2 446.8,276.0 447.8,277.7 448.8,279.3 449.8,280.7 450.8,281.9" fill="none" stroke="#33a033" stroke-width="1.25" stroke-opacity="1.00" stroke-linejoin="round"/>
<path d="M328.8,177.7 329.8,178.4 330.8,179.0 331.8,179.6 332.8,180.3 333.8,180.9 334.8,181.5 335.8,182.1 336.8,182.7 337.8,183.3 338.8,183.9 339.8,184.5 340.8,185.1 341.8,185.6 342.8,186.2 343.8,186.8 344.8,187.3 345.8,187.9 346.8,188.4 347.8,188.9 348.8,189.5 349.8,190.0 350.8,190.5 351.8,191.1 352.8,191.6 353.8,192.1 354.8,192.6 355.8,193.1 356.8,193.6 357.8,194.1 358.8,194.6 359.8,195.1 360.8,195.6 361.8,196.1 362.8,196.6 363.8,197.1 364.8,197.6 365.8,198.1 366.8,198.7 367.8,199.2 368.8,199.7 369.8,200.2 370.8,200.7 371.8,201.2 372.8,201.7 373.8,202.2 374.8,202.7 375.8,203.2 376.8,203.8 377.8,204.3 378.8,204.8 379.8,205.4 380.8,205.9 381.8,206.4 382.8,207.0 383.8,207.6 384.8,208.1 385.8,208.7 386.8,209.2 387.8,209.8 388.8,210.4 389.8,211.0 390.8,211.6 391.8,212.2 392.8,212.8 393.8,213.4 394.8,214.0 395.8,214.5 396.8,215.1 397.8,215.6 398.8,216.0 399.8,216.5 400.8,216.9 401.8,217.2 402.8,217.5 403.8,217.8 404.8,218.1 405.8,218.3 406.8,218.5 407.8,218.7 408.8,219.0 409.8,219.3 410.8,219.6 411.8,220.0 412.8,220.5 413.8,221.1 414.8,221.8 415.8,222.6 416.8,223.5 417.8,224.6 418.8,225.8 419.8,227.2 420.8,228.7 421.8,230.5 422.8,232.4 423.8,234.5 424.8,236.8 425.8,239.2 426.8,241.6 427.8,244.1 428.8,246.6 429.8,249.1 430.8,251.6 431.8,254.0 432.8,256.3 433.8,258.4 434.8,260.4 435.8,262.3 436.8,264.0 437.8,265.6 438.8,267.1 439.8,268.5 440.8,269.8 441.8,271.1 442.8,272.3 443.8,273.5 444.8,274.7 445.8,275.8 446.8,277.0 447.8,278.1 448.8,279.3 449.8,280.5 450.8,281.8" fill="none" stroke="#cc3ad6" stroke-width="1.25" stroke-opacity="1.00" stroke-linejoin="round"/>
<path d="M476.9,176.6 477.9,176.6 478.9,176.7 479.9,176.7 480.9,176.8 481.9,176.8 482.9,176.9 483.9,176.9 484.9,177.0 485.9,177.0 486.9,177.1 487.9,177.2 488.9,177.2 489.9,177.3 490.9,177.3 491.9,177.4 492.9,177.5 493.9,177.5 494.9,177.6 495.9,177.7 496.9,177.8 497.9,177.8 498.9,177.9 499.9,178.0 500.9,178.1 501.9,178.2 502.9,178.2 503.9,178.3 504.9,178.4 505.9,178.5 506.9,178.6 507.9,178.7 508.9,178.8 509.9,178.9 510.9,179.0 511.9,179.1 512.9,179.2 513.9,179.3 514.9,179.4 515.9,179.5 516.9,179.7 517.9,179.8 518.9,179.9 519.9,180.1 520.9,180.2 521.9,180.4 522.9,180.6 523.9,180.7 524.9,180.9 525.9,181.1 526.9,181.3 527.9,181.5 528.9,181.7 529.9,182.0 530.9,182.2 531.9,182.5 532.9,182.7 533.9,183.0 534.9,183.3 535.9,183.6 536.9,183.9 537.9,184.3 538.9,184.6 539.9,185.0 540.9,185.4 541.9,185.8 542.9,186.3 543.9,186.8 544.9,187.3 545.9,187.9 546.9,188.6 547.9,189.2 548.9,190.0 549.9,190.7 550.9,191.5 551.9,192.4 552.9,193.2 553.9,194.2 554.9,195.2 555.9,196.3 556.9,197.5 557.9,198.9 558.9,200.5 559.9,202.2 560.9,204.0 561.9,205.9 562.9,208.1 563.9,210.4 564.9,213.0 565.9,215.6 566.9,218.2 567.9,220.8 568.9,223.3 569.9,225.9 570.9,228.5 571.9,231.0 572.9,233.3 573.9,235.5 574.9,237.4 575.9,239.0 576.9,240.5 577.9,241.8 578.9,242.7 579.9,243.0 580.9,242.7 581.9,241.6 582.9,239.9 583.9,237.7 584.9,235.4 585.9,232.8 586.9,230.1 587.9,227.0 588.9,223.7 589.9,220.2 590.9,216.6 591.9,213.0 592.9,209.5 593.9,206.2 594.9,202.9 595.9,199.7 596.9,196.5 597.9,193.4 598.9,190.2 599.9,187.1 600.4,185.5" fill="none" stroke="#ff3b3b" stroke-width="1.25" stroke-opacity="1.00" stroke-linejoin="round"/>
<path d="M476.9,183.4 477.9,183.5 478.9,183.6 479.9,183.7 480.9,183.9 481.9,184.0 482.9,184.1 483.9,184.2 484.9,184.3 485.9,184.4 486.9,184.5 487.9,184.7 488.9,184.8 489.9,184.9 490.9,185.0 491.9,185.1 492.9,185.2 493.9,185.3 494.9,185.4 495.9,185.6 496.9,185.7 497.9,185.8 498.9,185.9 499.9,186.0 500.9,186.1 501.9,186.2 502.9,186.3 503.9,186.4 504.9,186.5 505.9,186.6 506.9,186.7 507.9,186.8 508.9,186.9 509.9,187.0 510.9,187.1 511.9,187.2 512.9,187.3 513.9,187.4 514.9,187.5 515.9,187.6 516.9,187.7 517.9,187.8 518.9,188.0 519.9,188.1 520.9,188.2 521.9,188.3 522.9,188.5 523.9,188.6 524.9,188.7 525.9,188.8 526.9,188.9 527.9,189.1 528.9,189.2 529.9,189.3 530.9,189.5 531.9,189.6 532.9,189.8 533.9,190.0 534.9,190.2 535.9,190.4 536.9,190.6 537.9,190.8 538.9,191.0 539.9,191.3 540.9,191.6 541.9,191.9 542.9,192.3 543.9,192.8 544.9,193.3 545.9,193.9 546.9,194.5 547.9,195.2 548.9,195.9 549.9,196.7 550.9,197.6 551.9,198.5 552.9,199.6 553.9,200.9 554.9,202.4 555.9,204.2 556.9,206.3 557.9,208.5 558.9,210.9 559.9,213.4 560.9,216.0 561.9,218.5 562.9,221.1 563.9,223.9 564.9,226.7 565.9,229.8 566.9,232.8 567.9,235.9 568.9,238.9 569.9,241.8 570.9,244.6 571.9,247.2 572.9,249.7 573.9,252.1 574.9,254.5 575.9,256.8 576.9,259.1 577.9,261.2 578.9,262.5 579.9,262.5 580.9,261.2 581.9,258.9 582.9,256.0 583.9,252.8 584.9,249.4 585.9,245.7 586.9,241.7 587.9,237.4 588.9,232.9 589.9,228.3 590.9,223.7 591.9,219.2 592.9,214.9 593.9,210.7 594.9,206.7 595.9,202.8 596.9,198.9 597.9,195.0 598.9,191.2 599.9,187.4 600.4,185.6" fill="none" stroke="#3a3aff" stroke-width="1.25" stroke-opacity="1.00" stroke-linejoin="round"/>
<path d="M476.9,185.3 477.9,185.5 478.9,185.7 479.9,186.0 480.9,186.2 481.9,186.4 482.9,186.6 483.9,186.8 484.9,187.0 485.9,187.1 486.9,187.3 487.9,187.5 488.9,187.7 489.9,187.8 490.9,187.9 491.9,188.1 492.9,188.2 493.9,188.3 494.9,188.4 495.9,188.5 496.9,188.6 497.9,188.7 498.9,188.8 499.9,188.8 500.9,188.9 501.9,188.9 502.9,189.0 503.9,189.0 504.9,189.0 505.9,189.0 506.9,189.0 507.9,189.0 508.9,189.0 509.9,189.0 510.9,188.9 511.9,188.9 512.9,188.9 513.9,188.9 514.9,188.8 515.9,188.8 516.9,188.8 517.9,188.8 518.9,188.7 519.9,188.7 520.9,188.7 521.9,188.6 522.9,188.5 523.9,188.4 524.9,188.3 525.9,188.2 526.9,188.1 527.9,188.0 528.9,187.9 529.9,187.8 530.9,187.7 531.9,187.6 532.9,187.4 533.9,187.3 534.9,187.3 535.9,187.2 536.9,187.1 537.9,187.1 538.9,187.0 539.9,187.0 540.9,187.1 541.9,187.3 542.9,187.6 543.9,187.9 544.9,188.4 545.9,188.9 546.9,189.5 547.9,190.2 548.9,191.0 549.9,191.7 550.9,192.6 551.9,193.4 552.9,194.4 553.9,195.5 554.9,196.7 555.9,198.2 556.9,199.9 557.9,201.7 558.9,203.7 559.9,205.9 560.9,208.3 561.9,210.9 562.9,213.7 563.9,217.1 564.9,220.9 565.9,225.3 566.9,230.0 567.9,234.8 568.9,239.7 569.9,244.7 570.9,249.8 571.9,254.9 572.9,259.9 573.9,264.5 574.9,268.8 575.9,272.6 576.9,275.6 577.9,277.3 578.9,277.7 579.9,277.0 580.9,275.6 581.9,273.8 582.9,271.4 583.9,268.2 584.9,264.0 585.9,258.7 586.9,252.7 587.9,246.3 588.9,239.9 589.9,233.8 590.9,228.2 591.9,223.1 592.9,218.2 593.9,213.5 594.9,208.9 595.9,204.4 596.9,200.0 597.9,195.7 598.9,191.6 599.9,187.6 600.4,185.6" fill="none" stroke="#33a033" stroke-width="1.25" stroke-opacity="1.00" stroke-linejoin="round"/>
<path d="M476.9,185.9 477.9,185.9 478.9,186.0 479.9,186.0 480.9,186.0 481.9,186.1 482.9,186.1 483.9,186.1 484.9,186.2 485.9,186.2 486.9,186.3 487.9,186.3 488.9,186.4 489.9,186.4 490.9,186.5 491.9,186.5 492.9,186.6 493.9,186.6 494.9,186.7 495.9,186.8 496.9,186.8 497.9,186.9 498.9,186.9 499.9,187.0 500.9,187.1 501.9,187.1 502.9,187.2 503.9,187.3 504.9,187.4 505.9,187.5 506.9,187.7 507.9,187.8 508.9,187.9 509.9,188.0 510.9,188.1 511.9,188.2 512.9,188.3 513.9,188.4 514.9,188.5 515.9,188.5 516.9,188.6 517.9,188.6 518.9,188.7 519.9,188.7 520.9,188.7 521.9,188.6 522.9,188.6 523.9,188.5 524.9,188.4 525.9,188.3 526.9,188.2 527.9,188.1 528.9,188.0 529.9,187.9 530.9,187.7 531.9,187.6 532.9,187.5 533.9,187.4 534.9,187.3 535.9,187.2 536.9,187.1 537.9,187.1 538.9,187.0 539.9,187.0 540.9,187.1 541.9,187.3 542.9,187.5 543.9,187.8 544.9,188.3 545.9,188.8 546.9,189.4 547.9,190.0 548.9,190.8 549.9,191.6 550.9,192.5 551.9,193.7 552.9,195.3 553.9,197.4 554.9,200.0 555.9,202.9 556.9,206.1 557.9,209.4 558.9,212.9 559.9,216.6 560.9,220.7 561.9,225.0 562.9,229.6 563.9,234.2 564.9,238.8 565.9,243.6 566.9,248.4 567.9,253.1 568.9,257.6 569.9,261.5 570.9,264.7 571.9,267.5 572.9,269.8 573.9,271.6 574.9,272.7 575.9,273.0 576.9,272.5 577.9,271.5 578.9,270.0 579.9,268.1 580.9,266.0 581.9,263.5 582.9,260.6 583.9,256.9 584.9,252.6 585.9,247.7 586.9,242.4 587.9,236.9 588.9,231.3 589.9,225.7 590.9,220.2 591.9,214.6 592.9,208.7 593.9,202.7 594.9,196.7 595.9,190.7 596.9,185.2 597.9,180.1 598.9,175.7 599.9,172.0 600.4,170.3" fill="none" stroke="#cc3ad6" stroke-width="1.25" stroke-opacity="1.00" stroke-linejoin="round"/>
<g><circle cx="58.3" cy="317.9" r="1.25" fill="#2020ff"/><circle cx="150.9" cy="408.1" r="1.25" fill="#108a10"/><circle cx="77.3" cy="349.5" r="1.25" fill="#ff2020"/><circle cx="112.1" cy="404.0" r="1.25" fill="#c020d0"/><circle cx="113.4" cy="404.0" r="1.25" fill="#2020ff"/><circle cx="88.7" cy="321.1" r="1.25" fill="#108a10"/><circle cx="96.9" cy="393.4" r="1.25" fill="#2020ff"/><circle cx="59.0" cy="362.0" r="1.25" fill="#c020d0"/><circle cx="111.4" cy="396.6" r="1.25" fill="#108a10"/><circle cx="106.6" cy="399.4" r="1.25" fill="#2020ff"/><circle cx="86.7" cy="391.9" r="1.25" fill="#2020ff"/><circle cx="95.9" cy="380.7" r="1.25" fill="#c020d0"/><circle cx="142.7" cy="338.6" r="1.25" fill="#ff2020"/><circle cx="47.0" cy="324.5" r="1.25" fill="#2020ff"/><circle cx="123.7" cy="413.4" r="1.25" fill="#108a10"/><circle cx="147.0" cy="397.8" r="1.25" fill="#c020d0"/><circle cx="105.2" cy="326.4" r="1.25" fill="#2020ff"/><circle cx="125.0" cy="361.5" r="1.25" fill="#108a10"/><circle cx="128.3" cy="412.0" r="1.25" fill="#2020ff"/><circle cx="38.4" cy="392.0" r="1.25" fill="#2020ff"/><circle cx="74.9" cy="377.3" r="1.25" fill="#c020d0"/><circle cx="148.0" cy="399.4" r="1.25" fill="#108a10"/><circle cx="79.4" cy="327.0" r="1.25" fill="#108a10"/><circle cx="110.8" cy="398.7" r="1.25" fill="#c020d0"/><circle cx="88.5" cy="381.5" r="1.25" fill="#108a10"/><circle cx="70.8" cy="321.4" r="1.25" fill="#108a10"/><circle cx="38.0" cy="315.6" r="1.25" fill="#108a10"/><circle cx="124.9" cy="402.4" r="1.25" fill="#108a10"/><circle cx="92.6" cy="342.7" r="1.25" fill="#108a10"/><circle cx="41.4" cy="328.7" r="1.25" fill="#108a10"/><circle cx="81.4" cy="388.4" r="1.25" fill="#2020ff"/><circle cx="118.6" cy="401.2" r="1.25" fill="#108a10"/><circle cx="108.6" cy="321.7" r="1.25" fill="#108a10"/><circle cx="115.1" cy="405.9" r="1.25" fill="#2020ff"/><circle cx="68.2" cy="328.1" r="1.25" fill="#c020d0"/><circle cx="122.1" cy="411.3" r="1.25" fill="#2020ff"/><circle cx="91.2" cy="391.8" r="1.25" fill="#108a10"/><circle cx="56.0" cy="392.3" r="1.25" fill="#2020ff"/><circle cx="88.9" cy="314.6" r="1.25" fill="#108a10"/><circle cx="77.5" cy="396.1" r="1.25" fill="#2020ff"/><circle cx="37.4" cy="385.1" r="1.25" fill="#108a10"/><circle cx="106.4" cy="395.9" r="1.25" fill="#108a10"/><circle cx="87.3" cy="307.0" r="1.25" fill="#108a10"/><circle cx="138.9" cy="417.1" r="1.25" fill="#c020d0"/><circle cx="141.8" cy="417.8" r="1.25" fill="#2020ff"/><circle cx="47.8" cy="392.2" r="1.25" fill="#2020ff"/><circle cx="142.8" cy="411.9" r="1.25" fill="#108a10"/><circle cx="91.0" cy="331.0" r="1.25" fill="#2020ff"/><circle cx="139.2" cy="375.6" r="1.25" fill="#2020ff"/><circle cx="127.3" cy="397.0" r="1.25" fill="#ff2020"/><circle cx="142.5" cy="398.8" r="1.25" fill="#ff2020"/><circle cx="146.0" cy="342.0" r="1.25" fill="#c020d0"/><circle cx="139.6" cy="414.5" r="1.25" fill="#2020ff"/><circle cx="43.8" cy="324.5" r="1.25" fill="#2020ff"/><circle cx="57.5" cy="313.1" r="1.25" fill="#ff2020"/><circle cx="91.7" cy="374.0" r="1.25" fill="#c020d0"/><circle cx="47.9" cy="373.0" r="1.25" fill="#c020d0"/><circle cx="74.0" cy="377.3" r="1.25" fill="#108a10"/><circle cx="45.0" cy="332.5" r="1.25" fill="#2020ff"/><circle cx="55.9" cy="327.0" r="1.25" fill="#2020ff"/><circle cx="56.1" cy="327.9" r="1.25" fill="#ff2020"/><circle cx="88.9" cy="382.3" r="1.25" fill="#108a10"/><circle cx="53.8" cy="374.7" r="1.25" fill="#108a10"/><circle cx="128.6" cy="361.2" r="1.25" fill="#2020ff"/><circle cx="86.7" cy="333.6" r="1.25" fill="#2020ff"/><circle cx="60.1" cy="340.6" r="1.25" fill="#ff2020"/><circle cx="143.1" cy="394.6" r="1.25" fill="#ff2020"/><circle cx="65.4" cy="328.9" r="1.25" fill="#2020ff"/><circle cx="94.3" cy="349.5" r="1.25" fill="#ff2020"/><circle cx="57.0" cy="374.5" r="1.25" fill="#c020d0"/><circle cx="95.2" cy="393.0" r="1.25" fill="#2020ff"/><circle cx="93.0" cy="315.7" r="1.25" fill="#108a10"/><circle cx="110.2" cy="327.0" r="1.25" fill="#2020ff"/><circle cx="59.6" cy="357.0" r="1.25" fill="#2020ff"/><circle cx="56.2" cy="355.2" r="1.25" fill="#108a10"/><circle cx="56.2" cy="357.8" r="1.25" fill="#ff2020"/><circle cx="60.5" cy="348.9" r="1.25" fill="#c020d0"/><circle cx="121.4" cy="342.1" r="1.25" fill="#ff2020"/><circle cx="40.2" cy="331.5" r="1.25" fill="#2020ff"/><circle cx="137.9" cy="343.2" r="1.25" fill="#c020d0"/><circle cx="110.5" cy="392.6" r="1.25" fill="#108a10"/><circle cx="121.4" cy="359.1" r="1.25" fill="#ff2020"/><circle cx="66.4" cy="315.4" r="1.25" fill="#108a10"/><circle cx="121.7" cy="366.1" r="1.25" fill="#c020d0"/><circle cx="122.7" cy="409.7" r="1.25" fill="#2020ff"/><circle cx="125.8" cy="419.1" r="1.25" fill="#c020d0"/><circle cx="121.5" cy="378.9" r="1.25" fill="#c020d0"/><circle cx="66.6" cy="340.9" r="1.25" fill="#ff2020"/><circle cx="64.0" cy="326.7" r="1.25" fill="#2020ff"/><circle cx="97.0" cy="397.3" r="1.25" fill="#2020ff"/><circle cx="142.2" cy="382.1" r="1.25" fill="#108a10"/><circle cx="109.8" cy="315.7" r="1.25" fill="#108a10"/><circle cx="138.9" cy="389.8" r="1.25" fill="#c020d0"/><circle cx="51.5" cy="332.3" r="1.25" fill="#c020d0"/><circle cx="48.8" cy="378.2" r="1.25" fill="#108a10"/><circle cx="95.9" cy="377.6" r="1.25" fill="#c020d0"/><circle cx="76.7" cy="375.3" r="1.25" fill="#108a10"/><circle cx="92.1" cy="341.1" r="1.25" fill="#ff2020"/><circle cx="142.7" cy="402.3" r="1.25" fill="#2020ff"/><circle cx="61.4" cy="379.6" r="1.25" fill="#c020d0"/><circle cx="124.6" cy="345.5" r="1.25" fill="#2020ff"/><circle cx="150.0" cy="410.0" r="1.25" fill="#2020ff"/><circle cx="81.1" cy="379.7" r="1.25" fill="#c020d0"/><circle cx="121.8" cy="406.9" r="1.25" fill="#2020ff"/><circle cx="121.1" cy="381.3" r="1.25" fill="#c020d0"/><circle cx="144.8" cy="409.4" r="1.25" fill="#108a10"/><circle cx="74.5" cy="393.5" r="1.25" fill="#2020ff"/><circle cx="124.0" cy="360.8" r="1.25" fill="#2020ff"/><circle cx="40.6" cy="391.9" r="1.25" fill="#2020ff"/><circle cx="47.2" cy="328.2" r="1.25" fill="#2020ff"/><circle cx="117.5" cy="349.8" r="1.25" fill="#c020d0"/><circle cx="91.9" cy="383.0" r="1.25" fill="#c020d0"/><circle cx="93.6" cy="391.4" r="1.25" fill="#2020ff"/><circle cx="41.8" cy="316.6" r="1.25" fill="#108a10"/><circle cx="77.6" cy="378.6" r="1.25" fill="#c020d0"/><circle cx="63.0" cy="384.5" r="1.25" fill="#108a10"/><circle cx="106.9" cy="318.0" r="1.25" fill="#108a10"/><circle cx="107.4" cy="394.7" r="1.25" fill="#c020d0"/><circle cx="95.2" cy="361.7" r="1.25" fill="#ff2020"/><circle cx="150.7" cy="388.3" r="1.25" fill="#ff2020"/><circle cx="64.2" cy="379.9" r="1.25" fill="#108a10"/><circle cx="42.3" cy="392.3" r="1.25" fill="#2020ff"/><circle cx="91.6" cy="341.0" r="1.25" fill="#2020ff"/><circle cx="54.2" cy="395.5" r="1.25" fill="#2020ff"/><circle cx="75.6" cy="368.1" r="1.25" fill="#c020d0"/><circle cx="143.4" cy="366.3" r="1.25" fill="#2020ff"/><circle cx="118.5" cy="406.0" r="1.25" fill="#ff2020"/><circle cx="43.7" cy="377.9" r="1.25" fill="#c020d0"/><circle cx="97.3" cy="382.4" r="1.25" fill="#108a10"/><circle cx="51.9" cy="329.8" r="1.25" fill="#108a10"/><circle cx="63.8" cy="338.5" r="1.25" fill="#c020d0"/><circle cx="94.4" cy="317.0" r="1.25" fill="#108a10"/><circle cx="43.9" cy="326.9" r="1.25" fill="#108a10"/><circle cx="103.1" cy="337.9" r="1.25" fill="#ff2020"/><circle cx="56.3" cy="384.6" r="1.25" fill="#108a10"/><circle cx="108.7" cy="388.0" r="1.25" fill="#c020d0"/><circle cx="139.9" cy="398.4" r="1.25" fill="#ff2020"/><circle cx="139.4" cy="417.1" r="1.25" fill="#c020d0"/><circle cx="94.3" cy="356.0" r="1.25" fill="#c020d0"/><circle cx="54.8" cy="343.8" r="1.25" fill="#ff2020"/><circle cx="96.0" cy="395.5" r="1.25" fill="#2020ff"/><circle cx="101.7" cy="351.3" r="1.25" fill="#ff2020"/><circle cx="57.2" cy="380.6" r="1.25" fill="#c020d0"/><circle cx="80.0" cy="391.2" r="1.25" fill="#108a10"/><circle cx="63.1" cy="368.8" r="1.25" fill="#c020d0"/><circle cx="85.9" cy="323.8" r="1.25" fill="#108a10"/><circle cx="125.9" cy="412.1" r="1.25" fill="#108a10"/><circle cx="109.1" cy="394.2" r="1.25" fill="#c020d0"/><circle cx="110.0" cy="337.3" r="1.25" fill="#2020ff"/><circle cx="140.8" cy="375.3" r="1.25" fill="#108a10"/><circle cx="98.7" cy="388.2" r="1.25" fill="#108a10"/><circle cx="149.5" cy="398.3" r="1.25" fill="#2020ff"/><circle cx="95.3" cy="336.0" r="1.25" fill="#c020d0"/><circle cx="40.1" cy="324.6" r="1.25" fill="#108a10"/><circle cx="88.1" cy="381.9" r="1.25" fill="#108a10"/><circle cx="131.3" cy="384.4" r="1.25" fill="#2020ff"/><circle cx="59.5" cy="392.1" r="1.25" fill="#2020ff"/><circle cx="45.0" cy="397.4" r="1.25" fill="#2020ff"/><circle cx="126.6" cy="416.7" r="1.25" fill="#2020ff"/><circle cx="35.1" cy="378.5" r="1.25" fill="#c020d0"/><circle cx="121.0" cy="412.2" r="1.25" fill="#c020d0"/><circle cx="37.9" cy="376.3" r="1.25" fill="#108a10"/><circle cx="44.4" cy="379.8" r="1.25" fill="#108a10"/><circle cx="135.4" cy="333.4" r="1.25" fill="#ff2020"/><circle cx="86.5" cy="351.4" r="1.25" fill="#ff2020"/><circle cx="54.1" cy="334.5" r="1.25" fill="#c020d0"/><circle cx="100.1" cy="352.6" r="1.25" fill="#ff2020"/><circle cx="152.9" cy="393.4" r="1.25" fill="#ff2020"/><circle cx="138.5" cy="412.0" r="1.25" fill="#108a10"/><circle cx="90.4" cy="316.2" r="1.25" fill="#108a10"/><circle cx="126.6" cy="407.3" r="1.25" fill="#108a10"/><circle cx="77.6" cy="312.3" r="1.25" fill="#2020ff"/><circle cx="122.8" cy="353.4" r="1.25" fill="#ff2020"/><circle cx="122.0" cy="413.6" r="1.25" fill="#c020d0"/><circle cx="43.0" cy="376.4" r="1.25" fill="#c020d0"/><circle cx="82.0" cy="370.8" r="1.25" fill="#c020d0"/><circle cx="60.4" cy="332.3" r="1.25" fill="#c020d0"/><circle cx="37.6" cy="340.4" r="1.25" fill="#c020d0"/><circle cx="80.7" cy="323.3" r="1.25" fill="#108a10"/><circle cx="109.0" cy="392.5" r="1.25" fill="#108a10"/><circle cx="65.4" cy="313.6" r="1.25" fill="#108a10"/><circle cx="69.4" cy="318.3" r="1.25" fill="#108a10"/><circle cx="76.4" cy="380.3" r="1.25" fill="#108a10"/><circle cx="91.4" cy="358.0" r="1.25" fill="#ff2020"/><circle cx="43.5" cy="320.8" r="1.25" fill="#2020ff"/><circle cx="55.7" cy="391.8" r="1.25" fill="#2020ff"/><circle cx="142.0" cy="398.5" r="1.25" fill="#c020d0"/><circle cx="129.4" cy="408.4" r="1.25" fill="#108a10"/><circle cx="126.4" cy="416.3" r="1.25" fill="#c020d0"/><circle cx="128.6" cy="410.5" r="1.25" fill="#c020d0"/><circle cx="93.6" cy="323.5" r="1.25" fill="#2020ff"/><circle cx="117.9" cy="340.3" r="1.25" fill="#108a10"/><circle cx="130.8" cy="384.1" r="1.25" fill="#2020ff"/><circle cx="65.2" cy="376.6" r="1.25" fill="#108a10"/><circle cx="129.8" cy="368.4" r="1.25" fill="#c020d0"/><circle cx="136.9" cy="410.0" r="1.25" fill="#108a10"/><circle cx="55.8" cy="330.7" r="1.25" fill="#c020d0"/><circle cx="57.2" cy="357.0" r="1.25" fill="#c020d0"/><circle cx="49.8" cy="351.4" r="1.25" fill="#ff2020"/><circle cx="138.5" cy="418.2" r="1.25" fill="#108a10"/><circle cx="65.3" cy="349.9" r="1.25" fill="#ff2020"/><circle cx="45.5" cy="331.7" r="1.25" fill="#c020d0"/><circle cx="55.8" cy="322.1" r="1.25" fill="#108a10"/><circle cx="110.8" cy="391.8" r="1.25" fill="#108a10"/><circle cx="128.3" cy="403.9" r="1.25" fill="#108a10"/><circle cx="92.1" cy="342.4" r="1.25" fill="#ff2020"/><circle cx="93.9" cy="315.8" r="1.25" fill="#108a10"/><circle cx="58.2" cy="321.6" r="1.25" fill="#108a10"/><circle cx="99.4" cy="377.4" r="1.25" fill="#c020d0"/><circle cx="142.2" cy="394.5" r="1.25" fill="#ff2020"/><circle cx="60.7" cy="355.6" r="1.25" fill="#2020ff"/><circle cx="142.9" cy="418.0" r="1.25" fill="#2020ff"/><circle cx="152.7" cy="411.2" r="1.25" fill="#108a10"/><circle cx="41.8" cy="333.0" r="1.25" fill="#2020ff"/><circle cx="81.0" cy="395.2" r="1.25" fill="#2020ff"/><circle cx="101.9" cy="342.8" r="1.25" fill="#c020d0"/><circle cx="41.1" cy="380.9" r="1.25" fill="#c020d0"/><circle cx="125.7" cy="348.5" r="1.25" fill="#2020ff"/><circle cx="110.0" cy="400.5" r="1.25" fill="#2020ff"/><circle cx="62.9" cy="373.7" r="1.25" fill="#c020d0"/><circle cx="105.8" cy="395.9" r="1.25" fill="#2020ff"/><circle cx="93.0" cy="348.8" r="1.25" fill="#c020d0"/><circle cx="64.7" cy="392.5" r="1.25" fill="#2020ff"/><circle cx="41.4" cy="376.2" r="1.25" fill="#108a10"/><circle cx="124.5" cy="362.4" r="1.25" fill="#c020d0"/><circle cx="58.5" cy="351.7" r="1.25" fill="#108a10"/></g>
<path d="M31.5,375.8 32.5,375.8 33.5,375.8 34.5,375.8 35.5,375.8 36.5,375.8 37.5,375.8 38.5,375.8 39.5,375.8 40.5,375.8 41.5,375.8 42.5,375.8 43.5,375.8 44.5,375.9 45.5,375.9 46.5,375.9 47.5,375.9 48.5,375.9 49.5,375.9 50.5,375.9 51.5,375.9 52.5,375.9 53.5,375.9 54.5,375.9 55.5,376.0 56.5,376.0 57.5,376.0 58.5,376.0 59.5,376.0 60.5,376.0 61.5,376.0 62.5,376.0 63.5,376.0 64.5,376.1 65.5,376.1 66.5,376.1 67.5,376.1 68.5,376.1 69.5,376.1 70.5,376.1 71.5,376.2 72.5,376.2 73.5,376.2 74.5,376.2 75.5,376.2 76.5,376.3 77.5,376.3 78.5,376.3 79.5,376.3 80.5,376.4 81.5,376.4 82.5,376.4 83.5,376.5 84.5,376.5 85.5,376.5 86.5,376.6 87.5,376.6 88.5,376.7 89.5,376.7 90.5,376.8 91.5,376.8 92.5,376.9 93.5,376.9 94.5,377.0 95.5,377.1 96.5,377.2 97.5,377.3 98.5,377.5 99.5,377.8 100.5,378.1 101.5,378.7 102.5,379.5 103.5,380.7 104.5,382.3 105.5,384.3 106.5,386.7 107.5,389.3 108.5,392.2 109.5,395.3 110.5,398.3 111.5,401.3 112.5,404.0 113.5,406.5 114.5,408.6 115.5,410.5 116.5,412.1 117.5,413.4 118.5,414.5 119.5,415.3 120.5,416.1 121.5,416.7 122.5,417.2 123.5,417.7 124.5,418.1 125.5,418.4 126.5,418.6 127.5,418.7 128.5,418.9 129.5,419.0 130.5,419.0 131.5,419.1 132.5,419.2 133.5,419.3 134.5,419.3 135.5,419.4 136.5,419.5 137.5,419.5 138.5,419.6 139.5,419.6 140.5,419.7 141.5,419.7 142.5,419.8 143.5,419.8 144.5,419.8 145.5,419.9 146.5,419.9 147.5,419.9 148.5,419.9 149.5,420.0 150.5,420.0 151.5,420.0 152.5,420.0 153.5,420.0 154.5,420.0 155.0,420.0" fill="none" stroke="#cc3ad6" stroke-width="1.25" stroke-dasharray="4.5,3" stroke-opacity="1.00" stroke-linejoin="round"/>
<path d="M31.5,380.6 32.5,380.6 33.5,380.6 34.5,380.6 35.5,380.6 36.5,380.6 37.5,380.6 38.5,380.6 39.5,380.6 40.5,380.7 41.5,380.7 42.5,380.7 43.5,380.7 44.5,380.7 45.5,380.7 46.5,380.7 47.5,380.7 48.5,380.8 49.5,380.8 50.5,380.8 51.5,380.8 52.5,380.8 53.5,380.9 54.5,380.9 55.5,380.9 56.5,380.9 57.5,380.9 58.5,381.0 59.5,381.0 60.5,381.0 61.5,381.0 62.5,381.1 63.5,381.1 64.5,381.1 65.5,381.2 66.5,381.2 67.5,381.3 68.5,381.3 69.5,381.4 70.5,381.4 71.5,381.5 72.5,381.6 73.5,381.6 74.5,381.7 75.5,381.8 76.5,381.9 77.5,381.9 78.5,382.0 79.5,382.1 80.5,382.2 81.5,382.3 82.5,382.4 83.5,382.6 84.5,382.7 85.5,382.8 86.5,382.9 87.5,383.1 88.5,383.2 89.5,383.3 90.5,383.5 91.5,383.6 92.5,383.8 93.5,384.0 94.5,384.2 95.5,384.4 96.5,384.7 97.5,385.0 98.5,385.4 99.5,385.8 100.5,386.3 101.5,386.8 102.5,387.4 103.5,388.0 104.5,388.6 105.5,389.3 106.5,390.0 107.5,390.8 108.5,391.7 109.5,392.6 110.5,393.6 111.5,394.6 112.5,395.7 113.5,396.8 114.5,397.8 115.5,398.9 116.5,399.9 117.5,400.8 118.5,401.7 119.5,402.6 120.5,403.5 121.5,404.3 122.5,405.1 123.5,405.8 124.5,406.6 125.5,407.3 126.5,408.0 127.5,408.7 128.5,409.3 129.5,410.0 130.5,410.6 131.5,411.2 132.5,411.8 133.5,412.3 134.5,412.9 135.5,413.4 136.5,413.9 137.5,414.4 138.5,414.8 139.5,415.2 140.5,415.6 141.5,415.9 142.5,416.2 143.5,416.5 144.5,416.7 145.5,417.0 146.5,417.2 147.5,417.5 148.5,417.7 149.5,417.9 150.5,418.0 151.5,418.2 152.5,418.3 153.5,418.4 154.5,418.5 155.0,418.5" fill="none" stroke="#33a033" stroke-width="1.25" stroke-dasharray="4.5,3" stroke-opacity="1.00" stroke-linejoin="round"/>
<path d="M31.5,392.5 32.5,392.5 33.5,392.5 34.5,392.6 35.5,392.6 36.5,392.6 37.5,392.6 38.5,392.6 39.5,392.6 40.5,392.7 41.5,392.7 42.5,392.7 43.5,392.7 44.5,392.7 45.5,392.8 46.5,392.8 47.5,392.8 48.5,392.8 49.5,392.8 50.5,392.8 51.5,392.9 52.5,392.9 53.5,392.9 54.5,392.9 55.5,392.9 56.5,392.9 57.5,393.0 58.5,393.0 59.5,393.0 60.5,393.0 61.5,393.0 62.5,393.0 63.5,393.0 64.5,393.1 65.5,393.1 66.5,393.1 67.5,393.1 68.5,393.1 69.5,393.1 70.5,393.1 71.5,393.1 72.5,393.1 73.5,393.1 74.5,393.2 75.5,393.2 76.5,393.2 77.5,393.2 78.5,393.2 79.5,393.2 80.5,393.2 81.5,393.2 82.5,393.2 83.5,393.3 84.5,393.3 85.5,393.3 86.5,393.3 87.5,393.3 88.5,393.3 89.5,393.4 90.5,393.4 91.5,393.4 92.5,393.4 93.5,393.5 94.5,393.5 95.5,393.6 96.5,393.7 97.5,393.8 98.5,394.0 99.5,394.2 100.5,394.4 101.5,394.7 102.5,395.0 103.5,395.3 104.5,395.7 105.5,396.0 106.5,396.4 107.5,396.9 108.5,397.5 109.5,398.1 110.5,398.8 111.5,399.6 112.5,400.5 113.5,401.5 114.5,402.5 115.5,403.5 116.5,404.5 117.5,405.5 118.5,406.4 119.5,407.4 120.5,408.3 121.5,409.3 122.5,410.2 123.5,411.1 124.5,412.0 125.5,412.9 126.5,413.7 127.5,414.4 128.5,415.1 129.5,415.7 130.5,416.2 131.5,416.7 132.5,417.2 133.5,417.6 134.5,418.0 135.5,418.3 136.5,418.6 137.5,418.8 138.5,419.0 139.5,419.1 140.5,419.2 141.5,419.3 142.5,419.4 143.5,419.5 144.5,419.6 145.5,419.7 146.5,419.7 147.5,419.8 148.5,419.8 149.5,419.9 150.5,419.9 151.5,419.9 152.5,420.0 153.5,420.0 154.5,420.0 155.0,420.0" fill="none" stroke="#3a3aff" stroke-width="1.25" stroke-dasharray="4.5,3" stroke-opacity="1.00" stroke-linejoin="round"/>
<path d="M31.5,352.0 32.5,351.9 33.5,351.8 34.5,351.6 35.5,351.5 36.5,351.4 37.5,351.3 38.5,351.2 39.5,351.0 40.5,350.9 41.5,350.8 42.5,350.7 43.5,350.6 44.5,350.5 45.5,350.4 46.5,350.3 47.5,350.2 48.5,350.1 49.5,350.0 50.5,349.9 51.5,349.8 52.5,349.7 53.5,349.6 54.5,349.5 55.5,349.4 56.5,349.3 57.5,349.2 58.5,349.1 59.5,349.0 60.5,349.0 61.5,348.9 62.5,348.8 63.5,348.7 64.5,348.6 65.5,348.5 66.5,348.5 67.5,348.4 68.5,348.3 69.5,348.2 70.5,348.1 71.5,348.0 72.5,348.0 73.5,347.9 74.5,347.8 75.5,347.7 76.5,347.6 77.5,347.6 78.5,347.5 79.5,347.4 80.5,347.3 81.5,347.3 82.5,347.2 83.5,347.2 84.5,347.1 85.5,347.1 86.5,347.0 87.5,347.0 88.5,346.9 89.5,346.9 90.5,346.9 91.5,346.8 92.5,346.8 93.5,346.8 94.5,346.8 95.5,346.8 96.5,346.8 97.5,346.8 98.5,346.8 99.5,346.8 100.5,346.8 101.5,346.8 102.5,346.8 103.5,346.8 104.5,346.8 105.5,346.8 106.5,346.8 107.5,346.8 108.5,346.8 109.5,346.8 110.5,346.8 111.5,346.9 112.5,347.0 113.5,347.3 114.5,347.6 115.5,348.2 116.5,348.9 117.5,350.1 118.5,351.6 119.5,353.6 120.5,356.0 121.5,358.8 122.5,361.7 123.5,364.7 124.5,367.8 125.5,370.8 126.5,373.7 127.5,376.5 128.5,379.1 129.5,381.5 130.5,383.8 131.5,385.8 132.5,387.5 133.5,389.0 134.5,390.2 135.5,391.2 136.5,392.0 137.5,392.7 138.5,393.2 139.5,393.6 140.5,393.9 141.5,394.1 142.5,394.1 143.5,394.2 144.5,394.2 145.5,394.2 146.5,394.2 147.5,394.2 148.5,394.2 149.5,394.2 150.5,394.2 151.5,394.2 152.5,394.2 153.5,394.2 154.5,394.2 155.0,394.2" fill="none" stroke="#ff3b3b" stroke-width="1.25" stroke-opacity="1.00" stroke-linejoin="round"/>
<path d="M31.5,329.5 32.5,329.4 33.5,329.3 34.5,329.1 35.5,329.0 36.5,328.9 37.5,328.8 38.5,328.7 39.5,328.6 40.5,328.4 41.5,328.3 42.5,328.2 43.5,328.1 44.5,328.0 45.5,327.9 46.5,327.8 47.5,327.7 48.5,327.6 49.5,327.6 50.5,327.5 51.5,327.4 52.5,327.3 53.5,327.3 54.5,327.2 55.5,327.2 56.5,327.1 57.5,327.1 58.5,327.1 59.5,327.0 60.5,327.0 61.5,327.0 62.5,327.0 63.5,326.9 64.5,326.9 65.5,326.9 66.5,326.9 67.5,326.9 68.5,326.8 69.5,326.8 70.5,326.8 71.5,326.8 72.5,326.8 73.5,326.8 74.5,326.7 75.5,326.7 76.5,326.7 77.5,326.7 78.5,326.7 79.5,326.7 80.5,326.7 81.5,326.7 82.5,326.7 83.5,326.6 84.5,326.6 85.5,326.6 86.5,326.6 87.5,326.6 88.5,326.6 89.5,326.6 90.5,326.6 91.5,326.6 92.5,326.6 93.5,326.6 94.5,326.6 95.5,326.7 96.5,326.7 97.5,326.8 98.5,326.9 99.5,327.0 100.5,327.2 101.5,327.3 102.5,327.5 103.5,327.8 104.5,328.0 105.5,328.3 106.5,328.6 107.5,328.9 108.5,329.3 109.5,329.7 110.5,330.2 111.5,330.8 112.5,331.5 113.5,332.2 114.5,333.1 115.5,334.1 116.5,335.2 117.5,336.4 118.5,337.6 119.5,339.1 120.5,340.7 121.5,342.4 122.5,344.3 123.5,346.2 124.5,348.3 125.5,350.5 126.5,352.7 127.5,355.0 128.5,357.4 129.5,359.9 130.5,362.3 131.5,364.6 132.5,366.9 133.5,369.1 134.5,371.2 135.5,373.3 136.5,375.3 137.5,377.2 138.5,379.2 139.5,381.1 140.5,383.1 141.5,385.0 142.5,386.9 143.5,388.7 144.5,390.5 145.5,392.1 146.5,393.5 147.5,394.8 148.5,396.0 149.5,397.1 150.5,398.1 151.5,398.9 152.5,399.7 153.5,400.4 154.5,401.1 155.0,401.4" fill="none" stroke="#3a3aff" stroke-width="1.25" stroke-opacity="1.00" stroke-linejoin="round"/>
<path d="M31.5,325.0 32.5,324.9 33.5,324.7 34.5,324.6 35.5,324.4 36.5,324.3 37.5,324.1 38.5,324.0 39.5,323.8 40.5,323.7 41.5,323.6 42.5,323.4 43.5,323.3 44.5,323.2 45.5,323.1 46.5,322.9 47.5,322.8 48.5,322.7 49.5,322.6 50.5,322.5 51.5,322.3 52.5,322.2 53.5,322.1 54.5,322.0 55.5,321.9 56.5,321.8 57.5,321.7 58.5,321.6 59.5,321.6 60.5,321.5 61.5,321.4 62.5,321.3 63.5,321.2 64.5,321.2 65.5,321.1 66.5,321.0 67.5,320.9 68.5,320.9 69.5,320.8 70.5,320.8 71.5,320.7 72.5,320.6 73.5,320.6 74.5,320.5 75.5,320.5 76.5,320.4 77.5,320.4 78.5,320.3 79.5,320.2 80.5,320.2 81.5,320.1 82.5,320.0 83.5,320.0 84.5,319.9 85.5,319.8 86.5,319.8 87.5,319.7 88.5,319.6 89.5,319.5 90.5,319.4 91.5,319.3 92.5,319.2 93.5,319.1 94.5,318.9 95.5,318.8 96.5,318.7 97.5,318.5 98.5,318.4 99.5,318.3 100.5,318.2 101.5,318.1 102.5,318.1 103.5,318.2 104.5,318.4 105.5,318.7 106.5,319.2 107.5,319.8 108.5,320.5 109.5,321.4 110.5,322.5 111.5,323.9 112.5,325.6 113.5,327.6 114.5,330.0 115.5,332.7 116.5,335.7 117.5,339.1 118.5,342.8 119.5,346.8 120.5,351.1 121.5,355.6 122.5,360.1 123.5,364.7 124.5,369.1 125.5,373.3 126.5,377.2 127.5,380.6 128.5,383.7 129.5,386.4 130.5,388.7 131.5,390.7 132.5,392.3 133.5,393.6 134.5,394.6 135.5,395.5 136.5,396.3 137.5,396.9 138.5,397.4 139.5,397.9 140.5,398.2 141.5,398.5 142.5,398.7 143.5,398.9 144.5,399.1 145.5,399.2 146.5,399.4 147.5,399.5 148.5,399.6 149.5,399.7 150.5,399.8 151.5,399.9 152.5,399.9 153.5,400.0 154.5,400.0 155.0,400.0" fill="none" stroke="#33a033" stroke-width="1.25" stroke-opacity="1.00" stroke-linejoin="round"/>
<path d="M31.5,336.5 32.5,336.4 33.5,336.2 34.5,336.1 35.5,336.0 36.5,335.8 37.5,335.7 38.5,335.6 39.5,335.5 40.5,335.4 41.5,335.3 42.5,335.2 43.5,335.2 44.5,335.1 45.5,335.0 46.5,334.9 47.5,334.9 48.5,334.8 49.5,334.8 50.5,334.7 51.5,334.7 52.5,334.6 53.5,334.6 54.5,334.6 55.5,334.6 56.5,334.5 57.5,334.5 58.5,334.5 59.5,334.5 60.5,334.5 61.5,334.5 62.5,334.5 63.5,334.6 64.5,334.6 65.5,334.6 66.5,334.7 67.5,334.7 68.5,334.8 69.5,334.9 70.5,334.9 71.5,335.0 72.5,335.1 73.5,335.2 74.5,335.3 75.5,335.4 76.5,335.5 77.5,335.6 78.5,335.7 79.5,335.8 80.5,335.9 81.5,336.1 82.5,336.2 83.5,336.3 84.5,336.5 85.5,336.6 86.5,336.8 87.5,336.9 88.5,337.1 89.5,337.2 90.5,337.4 91.5,337.5 92.5,337.7 93.5,337.9 94.5,338.0 95.5,338.2 96.5,338.4 97.5,338.6 98.5,338.8 99.5,339.1 100.5,339.3 101.5,339.6 102.5,339.9 103.5,340.2 104.5,340.6 105.5,340.9 106.5,341.3 107.5,341.7 108.5,342.2 109.5,342.6 110.5,343.2 111.5,343.8 112.5,344.5 113.5,345.3 114.5,346.3 115.5,347.4 116.5,348.9 117.5,350.8 118.5,353.0 119.5,355.6 120.5,358.5 121.5,361.5 122.5,364.6 123.5,367.7 124.5,370.8 125.5,373.8 126.5,376.7 127.5,379.3 128.5,381.7 129.5,383.8 130.5,385.7 131.5,387.5 132.5,389.1 133.5,390.4 134.5,391.6 135.5,392.7 136.5,393.5 137.5,394.3 138.5,395.0 139.5,395.6 140.5,396.1 141.5,396.7 142.5,397.1 143.5,397.6 144.5,398.1 145.5,398.6 146.5,399.1 147.5,399.6 148.5,400.0 149.5,400.5 150.5,401.0 151.5,401.4 152.5,401.8 153.5,402.3 154.5,402.7 155.0,402.9" fill="none" stroke="#cc3ad6" stroke-width="1.25" stroke-opacity="1.00" stroke-linejoin="round"/>
<path d="M180.0,377.7 181.0,377.7 182.0,377.7 183.0,377.7 184.0,377.6 185.0,377.6 186.0,377.6 187.0,377.6 188.0,377.6 189.0,377.6 190.0,377.5 191.0,377.5 192.0,377.5 193.0,377.5 194.0,377.4 195.0,377.4 196.0,377.4 197.0,377.4 198.0,377.3 199.0,377.3 200.0,377.3 201.0,377.2 202.0,377.2 203.0,377.2 204.0,377.1 205.0,377.1 206.0,377.1 207.0,377.0 208.0,377.0 209.0,376.9 210.0,376.9 211.0,376.9 212.0,376.8 213.0,376.8 214.0,376.7 215.0,376.7 216.0,376.7 217.0,376.6 218.0,376.6 219.0,376.5 220.0,376.5 221.0,376.4 222.0,376.4 223.0,376.3 224.0,376.3 225.0,376.2 226.0,376.1 227.0,376.1 228.0,376.0 229.0,375.9 230.0,375.8 231.0,375.7 232.0,375.6 233.0,375.5 234.0,375.4 235.0,375.3 236.0,375.3 237.0,375.2 238.0,375.1 239.0,375.0 240.0,374.9 241.0,374.8 242.0,374.7 243.0,374.6 244.0,374.6 245.0,374.5 246.0,374.4 247.0,374.4 248.0,374.3 249.0,374.3 250.0,374.2 251.0,374.2 252.0,374.1 253.0,374.1 254.0,374.1 255.0,374.1 256.0,374.1 257.0,374.1 258.0,374.1 259.0,374.1 260.0,374.1 261.0,374.1 262.0,374.1 263.0,374.1 264.0,374.1 265.0,374.1 266.0,374.1 267.0,374.2 268.0,374.3 269.0,374.6 270.0,375.2 271.0,375.9 272.0,376.9 273.0,378.0 274.0,379.3 275.0,380.8 276.0,382.5 277.0,384.3 278.0,386.1 279.0,388.0 280.0,389.9 281.0,391.7 282.0,393.5 283.0,395.2 284.0,396.8 285.0,398.2 286.0,399.5 287.0,400.7 288.0,401.7 289.0,402.5 290.0,403.1 291.0,403.6 292.0,403.9 293.0,404.2 294.0,404.3 295.0,404.4 296.0,404.4 297.0,404.2 298.0,404.0 299.0,403.7 300.0,403.3 301.0,402.8 302.0,402.3 302.5,402.0" fill="none" stroke="#ff3b3b" stroke-width="1.25" stroke-opacity="1.00" stroke-linejoin="round"/>
<path d="M180.0,332.9 181.0,332.9 182.0,332.8 183.0,332.8 184.0,332.8 185.0,332.7 186.0,332.7 187.0,332.7 188.0,332.6 189.0,332.6 190.0,332.6 191.0,332.5 192.0,332.5 193.0,332.5 194.0,332.4 195.0,332.4 196.0,332.4 197.0,332.3 198.0,332.3 199.0,332.3 200.0,332.3 201.0,332.2 202.0,332.2 203.0,332.2 204.0,332.2 205.0,332.1 206.0,332.1 207.0,332.1 208.0,332.0 209.0,332.0 210.0,332.0 211.0,332.0 212.0,331.9 213.0,331.9 214.0,331.9 215.0,331.9 216.0,331.8 217.0,331.8 218.0,331.8 219.0,331.8 220.0,331.7 221.0,331.7 222.0,331.7 223.0,331.7 224.0,331.7 225.0,331.6 226.0,331.6 227.0,331.6 228.0,331.6 229.0,331.6 230.0,331.6 231.0,331.6 232.0,331.6 233.0,331.6 234.0,331.6 235.0,331.6 236.0,331.6 237.0,331.7 238.0,331.7 239.0,331.7 240.0,331.7 241.0,331.7 242.0,331.8 243.0,331.8 244.0,331.8 245.0,331.8 246.0,331.9 247.0,331.9 248.0,332.0 249.0,332.0 250.0,332.1 251.0,332.2 252.0,332.3 253.0,332.5 254.0,332.7 255.0,333.1 256.0,333.5 257.0,333.9 258.0,334.4 259.0,335.0 260.0,335.7 261.0,336.6 262.0,337.6 263.0,338.8 264.0,340.1 265.0,341.5 266.0,343.0 267.0,344.7 268.0,346.5 269.0,348.5 270.0,350.6 271.0,352.8 272.0,355.0 273.0,357.2 274.0,359.3 275.0,361.5 276.0,363.6 277.0,365.7 278.0,367.9 279.0,370.0 280.0,372.1 281.0,374.3 282.0,376.4 283.0,378.6 284.0,380.9 285.0,383.1 286.0,385.2 287.0,387.1 288.0,388.9 289.0,390.5 290.0,391.9 291.0,393.3 292.0,394.5 293.0,395.6 294.0,396.6 295.0,397.5 296.0,398.3 297.0,399.0 298.0,399.6 299.0,400.2 300.0,400.7 301.0,401.2 302.0,401.5 303.0,401.9 303.5,402.0" fill="none" stroke="#3a3aff" stroke-width="1.25" stroke-opacity="1.00" stroke-linejoin="round"/>
<path d="M180.0,318.4 181.0,318.3 182.0,318.2 183.0,318.1 184.0,318.0 185.0,317.9 186.0,317.8 187.0,317.7 188.0,317.6 189.0,317.5 190.0,317.5 191.0,317.4 192.0,317.3 193.0,317.2 194.0,317.1 195.0,317.0 196.0,317.0 197.0,316.9 198.0,316.8 199.0,316.7 200.0,316.7 201.0,316.6 202.0,316.5 203.0,316.4 204.0,316.4 205.0,316.3 206.0,316.2 207.0,316.2 208.0,316.1 209.0,316.1 210.0,316.0 211.0,315.9 212.0,315.9 213.0,315.8 214.0,315.8 215.0,315.7 216.0,315.6 217.0,315.6 218.0,315.5 219.0,315.5 220.0,315.4 221.0,315.4 222.0,315.3 223.0,315.3 224.0,315.2 225.0,315.2 226.0,315.2 227.0,315.1 228.0,315.1 229.0,315.1 230.0,315.1 231.0,315.1 232.0,315.1 233.0,315.1 234.0,315.2 235.0,315.2 236.0,315.2 237.0,315.3 238.0,315.3 239.0,315.4 240.0,315.4 241.0,315.5 242.0,315.6 243.0,315.6 244.0,315.7 245.0,315.9 246.0,316.1 247.0,316.4 248.0,316.9 249.0,317.4 250.0,318.0 251.0,318.7 252.0,319.5 253.0,320.4 254.0,321.4 255.0,322.5 256.0,323.8 257.0,325.3 258.0,327.0 259.0,329.0 260.0,331.2 261.0,333.6 262.0,336.2 263.0,338.9 264.0,341.7 265.0,344.6 266.0,347.5 267.0,350.5 268.0,353.7 269.0,357.0 270.0,360.4 271.0,363.8 272.0,367.1 273.0,370.2 274.0,373.2 275.0,375.9 276.0,378.5 277.0,381.0 278.0,383.3 279.0,385.4 280.0,387.3 281.0,389.1 282.0,390.8 283.0,392.4 284.0,393.8 285.0,395.1 286.0,396.1 287.0,397.0 288.0,397.8 289.0,398.4 290.0,398.9 291.0,399.4 292.0,399.8 293.0,400.2 294.0,400.5 295.0,400.8 296.0,401.0 297.0,401.2 298.0,401.4 299.0,401.6 300.0,401.8 301.0,401.9 302.0,402.0 302.5,402.0" fill="none" stroke="#33a033" stroke-width="1.25" stroke-opacity="1.00" stroke-linejoin="round"/>
<path d="M180.0,319.9 181.0,319.9 182.0,319.8 183.0,319.8 184.0,319.7 185.0,319.7 186.0,319.7 187.0,319.6 188.0,319.6 189.0,319.5 190.0,319.5 191.0,319.5 192.0,319.4 193.0,319.4 194.0,319.4 195.0,319.3 196.0,319.3 197.0,319.2 198.0,319.2 199.0,319.2 200.0,319.1 201.0,319.1 202.0,319.1 203.0,319.0 204.0,319.0 205.0,319.0 206.0,318.9 207.0,318.9 208.0,318.9 209.0,318.8 210.0,318.8 211.0,318.8 212.0,318.7 213.0,318.7 214.0,318.7 215.0,318.6 216.0,318.6 217.0,318.5 218.0,318.5 219.0,318.5 220.0,318.4 221.0,318.4 222.0,318.4 223.0,318.3 224.0,318.3 225.0,318.3 226.0,318.2 227.0,318.2 228.0,318.2 229.0,318.2 230.0,318.2 231.0,318.2 232.0,318.2 233.0,318.3 234.0,318.3 235.0,318.3 236.0,318.4 237.0,318.5 238.0,318.5 239.0,318.6 240.0,318.7 241.0,318.8 242.0,319.0 243.0,319.1 244.0,319.3 245.0,319.6 246.0,320.0 247.0,320.5 248.0,321.3 249.0,322.2 250.0,323.3 251.0,324.6 252.0,326.0 253.0,327.8 254.0,329.8 255.0,332.1 256.0,334.8 257.0,337.9 258.0,341.3 259.0,344.9 260.0,348.7 261.0,352.6 262.0,356.5 263.0,360.4 264.0,364.2 265.0,367.7 266.0,370.9 267.0,373.9 268.0,376.6 269.0,379.0 270.0,381.0 271.0,382.8 272.0,384.3 273.0,385.6 274.0,386.8 275.0,388.0 276.0,389.0 277.0,390.0 278.0,390.9 279.0,391.8 280.0,392.6 281.0,393.4 282.0,394.1 283.0,394.8 284.0,395.4 285.0,395.9 286.0,396.4 287.0,396.9 288.0,397.3 289.0,397.7 290.0,398.1 291.0,398.5 292.0,398.8 293.0,399.1 294.0,399.3 295.0,399.6 296.0,399.8 297.0,400.0 298.0,400.2 299.0,400.4 300.0,400.5 301.0,400.6 302.0,400.7 302.5,400.8" fill="none" stroke="#cc3ad6" stroke-width="1.25" stroke-opacity="1.00" stroke-linejoin="round"/>
<path d="M328.8,334.7 329.8,335.1 330.8,335.4 331.8,335.8 332.8,336.2 333.8,336.5 334.8,336.9 335.8,337.2 336.8,337.6 337.8,338.0 338.8,338.3 339.8,338.7 340.8,339.1 341.8,339.4 342.8,339.8 343.8,340.1 344.8,340.5 345.8,340.8 346.8,341.2 347.8,341.6 348.8,341.9 349.8,342.3 350.8,342.6 351.8,343.0 352.8,343.3 353.8,343.6 354.8,344.0 355.8,344.3 356.8,344.7 357.8,345.0 358.8,345.4 359.8,345.7 360.8,346.1 361.8,346.4 362.8,346.8 363.8,347.1 364.8,347.5 365.8,347.9 366.8,348.3 367.8,348.7 368.8,349.1 369.8,349.5 370.8,349.9 371.8,350.3 372.8,350.7 373.8,351.1 374.8,351.5 375.8,351.9 376.8,352.4 377.8,352.8 378.8,353.3 379.8,353.7 380.8,354.2 381.8,354.6 382.8,355.1 383.8,355.6 384.8,356.1 385.8,356.6 386.8,357.1 387.8,357.7 388.8,358.2 389.8,358.8 390.8,359.4 391.8,360.0 392.8,360.7 393.8,361.3 394.8,361.9 395.8,362.6 396.8,363.3 397.8,363.9 398.8,364.6 399.8,365.3 400.8,365.9 401.8,366.6 402.8,367.3 403.8,368.0 404.8,368.7 405.8,369.4 406.8,370.1 407.8,370.9 408.8,371.6 409.8,372.4 410.8,373.2 411.8,374.0 412.8,374.9 413.8,375.8 414.8,376.7 415.8,377.6 416.8,378.6 417.8,379.6 418.8,380.6 419.8,381.7 420.8,382.9 421.8,384.1 422.8,385.3 423.8,386.6 424.8,387.9 425.8,389.3 426.8,390.7 427.8,392.1 428.8,393.5 429.8,395.0 430.8,396.4 431.8,397.9 432.8,399.3 433.8,400.7 434.8,402.0 435.8,403.3 436.8,404.6 437.8,405.7 438.8,406.9 439.8,407.9 440.8,409.0 441.8,410.0 442.8,410.9 443.8,411.8 444.8,412.7 445.8,413.5 446.8,414.3 447.8,415.1 448.8,415.8 449.8,416.4 450.8,417.0 451.6,417.5" fill="none" stroke="#ff3b3b" stroke-width="1.25" stroke-opacity="1.00" stroke-linejoin="round"/>
<path d="M328.8,303.3 329.8,303.8 330.8,304.3 331.8,304.9 332.8,305.4 333.8,305.9 334.8,306.5 335.8,307.0 336.8,307.5 337.8,308.1 338.8,308.7 339.8,309.2 340.8,309.8 341.8,310.3 342.8,310.9 343.8,311.5 344.8,312.1 345.8,312.7 346.8,313.3 347.8,313.9 348.8,314.5 349.8,315.1 350.8,315.7 351.8,316.3 352.8,317.0 353.8,317.6 354.8,318.3 355.8,318.9 356.8,319.6 357.8,320.2 358.8,320.9 359.8,321.6 360.8,322.2 361.8,322.9 362.8,323.6 363.8,324.2 364.8,324.9 365.8,325.5 366.8,326.2 367.8,326.9 368.8,327.5 369.8,328.2 370.8,328.8 371.8,329.5 372.8,330.1 373.8,330.7 374.8,331.4 375.8,332.0 376.8,332.7 377.8,333.3 378.8,334.0 379.8,334.6 380.8,335.3 381.8,335.9 382.8,336.6 383.8,337.2 384.8,337.9 385.8,338.5 386.8,339.2 387.8,339.8 388.8,340.5 389.8,341.2 390.8,341.8 391.8,342.5 392.8,343.1 393.8,343.8 394.8,344.5 395.8,345.1 396.8,345.8 397.8,346.4 398.8,347.1 399.8,347.7 400.8,348.4 401.8,349.0 402.8,349.7 403.8,350.3 404.8,351.0 405.8,351.6 406.8,352.3 407.8,353.1 408.8,353.8 409.8,354.7 410.8,355.6 411.8,356.5 412.8,357.5 413.8,358.5 414.8,359.6 415.8,360.8 416.8,362.1 417.8,363.5 418.8,364.9 419.8,366.5 420.8,368.2 421.8,370.1 422.8,372.0 423.8,374.1 424.8,376.2 425.8,378.5 426.8,380.8 427.8,383.1 428.8,385.5 429.8,387.8 430.8,390.0 431.8,392.2 432.8,394.3 433.8,396.2 434.8,398.0 435.8,399.7 436.8,401.3 437.8,402.8 438.8,404.3 439.8,405.6 440.8,406.9 441.8,408.2 442.8,409.4 443.8,410.6 444.8,411.7 445.8,412.8 446.8,413.8 447.8,414.7 448.8,415.5 449.8,416.3 450.8,417.0 451.6,417.5" fill="none" stroke="#cc3ad6" stroke-width="1.25" stroke-opacity="1.00" stroke-linejoin="round"/>
<path d="M328.8,308.5 329.8,309.0 330.8,309.5 331.8,310.1 332.8,310.6 333.8,311.1 334.8,311.6 335.8,312.2 336.8,312.7 337.8,313.2 338.8,313.8 339.8,314.3 340.8,314.9 341.8,315.4 342.8,316.0 343.8,316.5 344.8,317.1 345.8,317.6 346.8,318.2 347.8,318.8 348.8,319.3 349.8,319.9 350.8,320.5 351.8,321.1 352.8,321.7 353.8,322.3 354.8,322.9 355.8,323.5 356.8,324.1 357.8,324.7 358.8,325.3 359.8,325.9 360.8,326.5 361.8,327.1 362.8,327.7 363.8,328.3 364.8,328.9 365.8,329.5 366.8,330.1 367.8,330.8 368.8,331.4 369.8,332.0 370.8,332.5 371.8,333.1 372.8,333.7 373.8,334.3 374.8,334.9 375.8,335.5 376.8,336.1 377.8,336.7 378.8,337.3 379.8,337.9 380.8,338.5 381.8,339.1 382.8,339.7 383.8,340.3 384.8,340.9 385.8,341.5 386.8,342.1 387.8,342.7 388.8,343.3 389.8,343.9 390.8,344.5 391.8,345.1 392.8,345.7 393.8,346.3 394.8,347.0 395.8,347.6 396.8,348.2 397.8,348.9 398.8,349.6 399.8,350.3 400.8,351.0 401.8,351.7 402.8,352.5 403.8,353.2 404.8,354.0 405.8,354.9 406.8,355.7 407.8,356.5 408.8,357.4 409.8,358.3 410.8,359.2 411.8,360.1 412.8,361.0 413.8,362.0 414.8,363.0 415.8,364.1 416.8,365.3 417.8,366.6 418.8,368.0 419.8,369.5 420.8,371.1 421.8,372.9 422.8,374.8 423.8,376.8 424.8,378.9 425.8,381.0 426.8,383.2 427.8,385.4 428.8,387.5 429.8,389.6 430.8,391.6 431.8,393.4 432.8,395.2 433.8,396.9 434.8,398.6 435.8,400.1 436.8,401.7 437.8,403.1 438.8,404.6 439.8,405.9 440.8,407.3 441.8,408.5 442.8,409.8 443.8,410.9 444.8,412.0 445.8,413.0 446.8,414.0 447.8,414.8 448.8,415.6 449.8,416.3 450.8,417.0 451.6,417.5" fill="none" stroke="#3a3aff" stroke-width="1.25" stroke-opacity="1.00" stroke-linejoin="round"/>
<path d="M328.8,308.0 329.8,308.5 330.8,309.0 331.8,309.6 332.8,310.1 333.8,310.6 334.8,311.1 335.8,311.7 336.8,312.2 337.8,312.7 338.8,313.3 339.8,313.8 340.8,314.4 341.8,314.9 342.8,315.5 343.8,316.0 344.8,316.6 345.8,317.1 346.8,317.7 347.8,318.3 348.8,318.8 349.8,319.4 350.8,320.0 351.8,320.6 352.8,321.2 353.8,321.8 354.8,322.4 355.8,323.0 356.8,323.6 357.8,324.2 358.8,324.8 359.8,325.4 360.8,326.0 361.8,326.6 362.8,327.2 363.8,327.8 364.8,328.5 365.8,329.1 366.8,329.6 367.8,330.2 368.8,330.8 369.8,331.4 370.8,332.0 371.8,332.6 372.8,333.2 373.8,333.8 374.8,334.3 375.8,334.9 376.8,335.5 377.8,336.1 378.8,336.6 379.8,337.2 380.8,337.8 381.8,338.4 382.8,339.0 383.8,339.6 384.8,340.1 385.8,340.7 386.8,341.3 387.8,341.9 388.8,342.5 389.8,343.1 390.8,343.7 391.8,344.3 392.8,344.9 393.8,345.5 394.8,346.1 395.8,346.8 396.8,347.4 397.8,348.0 398.8,348.7 399.8,349.3 400.8,350.0 401.8,350.6 402.8,351.3 403.8,352.0 404.8,352.7 405.8,353.4 406.8,354.1 407.8,354.9 408.8,355.6 409.8,356.4 410.8,357.2 411.8,358.0 412.8,358.8 413.8,359.7 414.8,360.6 415.8,361.6 416.8,362.6 417.8,363.6 418.8,364.7 419.8,365.8 420.8,367.1 421.8,368.4 422.8,369.8 423.8,371.2 424.8,372.8 425.8,374.5 426.8,376.3 427.8,378.2 428.8,380.2 429.8,382.3 430.8,384.5 431.8,386.8 432.8,389.0 433.8,391.3 434.8,393.6 435.8,395.7 436.8,397.8 437.8,399.8 438.8,401.6 439.8,403.3 440.8,404.9 441.8,406.4 442.8,407.8 443.8,409.2 444.8,410.4 445.8,411.6 446.8,412.7 447.8,413.7 448.8,414.7 449.8,415.5 450.8,416.4 451.6,417.0" fill="none" stroke="#33a033" stroke-width="1.25" stroke-opacity="1.00" stroke-linejoin="round"/>
<path d="M476.9,411.0 477.9,411.0 478.9,410.9 479.9,410.9 480.9,410.9 481.9,410.8 482.9,410.8 483.9,410.7 484.9,410.7 485.9,410.6 486.9,410.5 487.9,410.5 488.9,410.4 489.9,410.3 490.9,410.2 491.9,410.1 492.9,410.0 493.9,410.0 494.9,409.9 495.9,409.8 496.9,409.6 497.9,409.5 498.9,409.4 499.9,409.3 500.9,409.2 501.9,409.1 502.9,409.0 503.9,408.8 504.9,408.7 505.9,408.6 506.9,408.5 507.9,408.3 508.9,408.2 509.9,408.1 510.9,408.0 511.9,407.8 512.9,407.7 513.9,407.6 514.9,407.4 515.9,407.3 516.9,407.1 517.9,406.9 518.9,406.8 519.9,406.6 520.9,406.4 521.9,406.2 522.9,406.0 523.9,405.8 524.9,405.5 525.9,405.3 526.9,405.1 527.9,404.9 528.9,404.6 529.9,404.4 530.9,404.1 531.9,403.9 532.9,403.7 533.9,403.4 534.9,403.2 535.9,403.0 536.9,402.8 537.9,402.6 538.9,402.4 539.9,402.2 540.9,401.9 541.9,401.6 542.9,401.3 543.9,400.9 544.9,400.5 545.9,400.0 546.9,399.3 547.9,398.2 548.9,396.9 549.9,395.4 550.9,394.0 551.9,392.7 552.9,391.6 553.9,390.5 554.9,389.5 555.9,388.6 556.9,387.6 557.9,386.5 558.9,385.4 559.9,384.2 560.9,382.9 561.9,381.5 562.9,380.0 563.9,378.4 564.9,376.7 565.9,374.9 566.9,373.1 567.9,371.2 568.9,369.3 569.9,367.3 570.9,365.2 571.9,363.1 572.9,360.8 573.9,358.6 574.9,356.4 575.9,354.3 576.9,352.3 577.9,350.4 578.9,348.8 579.9,347.6 580.9,347.2 581.9,347.7 582.9,349.0 583.9,351.0 584.9,353.4 585.9,356.1 586.9,359.2 587.9,362.7 588.9,366.4 589.9,370.2 590.9,374.1 591.9,378.0 592.9,381.9 593.9,385.8 594.9,389.6 595.9,393.1 596.9,396.3 597.9,399.3 598.4,400.7" fill="none" stroke="#ff3b3b" stroke-width="1.25" stroke-opacity="1.00" stroke-linejoin="round"/>
<path d="M476.9,407.6 477.9,407.5 478.9,407.3 479.9,407.2 480.9,407.0 481.9,406.9 482.9,406.7 483.9,406.6 484.9,406.5 485.9,406.3 486.9,406.2 487.9,406.1 488.9,405.9 489.9,405.8 490.9,405.7 491.9,405.5 492.9,405.4 493.9,405.3 494.9,405.1 495.9,405.0 496.9,404.9 497.9,404.8 498.9,404.6 499.9,404.5 500.9,404.4 501.9,404.3 502.9,404.1 503.9,404.0 504.9,403.9 505.9,403.8 506.9,403.7 507.9,403.6 508.9,403.4 509.9,403.3 510.9,403.2 511.9,403.1 512.9,403.0 513.9,402.9 514.9,402.8 515.9,402.7 516.9,402.6 517.9,402.5 518.9,402.4 519.9,402.3 520.9,402.2 521.9,402.1 522.9,402.1 523.9,402.0 524.9,401.9 525.9,401.8 526.9,401.7 527.9,401.6 528.9,401.5 529.9,401.3 530.9,401.2 531.9,401.0 532.9,400.9 533.9,400.7 534.9,400.5 535.9,400.2 536.9,400.0 537.9,399.7 538.9,399.4 539.9,399.1 540.9,398.8 541.9,398.4 542.9,398.0 543.9,397.7 544.9,397.3 545.9,396.9 546.9,396.5 547.9,396.1 548.9,395.6 549.9,395.0 550.9,394.2 551.9,393.3 552.9,392.3 553.9,391.1 554.9,389.9 555.9,388.5 556.9,387.1 557.9,385.6 558.9,384.0 559.9,382.4 560.9,380.8 561.9,379.2 562.9,377.4 563.9,375.6 564.9,373.7 565.9,371.7 566.9,369.7 567.9,367.5 568.9,365.2 569.9,362.9 570.9,360.3 571.9,357.6 572.9,354.8 573.9,351.9 574.9,348.9 575.9,345.8 576.9,342.6 577.9,339.6 578.9,337.4 579.9,336.6 580.9,337.3 581.9,339.1 582.9,341.6 583.9,344.5 584.9,347.6 585.9,350.8 586.9,354.4 587.9,358.1 588.9,361.8 589.9,365.6 590.9,369.4 591.9,373.2 592.9,377.0 593.9,380.8 594.9,384.4 595.9,387.7 596.9,390.7 597.9,393.4 598.4,394.8" fill="none" stroke="#3a3aff" stroke-width="1.25" stroke-opacity="1.00" stroke-linejoin="round"/>
<path d="M476.9,406.7 477.9,406.5 478.9,406.4 479.9,406.2 480.9,406.1 481.9,405.9 482.9,405.8 483.9,405.6 484.9,405.5 485.9,405.3 486.9,405.2 487.9,405.0 488.9,404.9 489.9,404.8 490.9,404.6 491.9,404.5 492.9,404.4 493.9,404.2 494.9,404.1 495.9,404.0 496.9,403.9 497.9,403.7 498.9,403.6 499.9,403.5 500.9,403.4 501.9,403.2 502.9,403.1 503.9,403.0 504.9,402.9 505.9,402.8 506.9,402.7 507.9,402.6 508.9,402.5 509.9,402.4 510.9,402.3 511.9,402.2 512.9,402.1 513.9,402.0 514.9,401.9 515.9,401.8 516.9,401.7 517.9,401.6 518.9,401.4 519.9,401.3 520.9,401.2 521.9,401.1 522.9,401.0 523.9,400.9 524.9,400.9 525.9,400.8 526.9,400.7 527.9,400.6 528.9,400.6 529.9,400.6 530.9,400.5 531.9,400.5 532.9,400.5 533.9,400.5 534.9,400.6 535.9,400.6 536.9,400.7 537.9,400.7 538.9,400.8 539.9,400.9 540.9,400.9 541.9,401.0 542.9,401.0 543.9,400.9 544.9,400.8 545.9,400.5 546.9,400.1 547.9,399.6 548.9,399.0 549.9,398.4 550.9,397.6 551.9,396.6 552.9,395.4 553.9,394.0 554.9,392.4 555.9,390.6 556.9,388.8 557.9,386.8 558.9,384.8 559.9,382.5 560.9,380.1 561.9,377.3 562.9,374.3 563.9,370.9 564.9,367.0 565.9,362.4 566.9,356.7 567.9,350.2 568.9,343.7 569.9,337.9 570.9,333.4 571.9,330.1 572.9,327.5 573.9,325.4 574.9,323.6 575.9,322.4 576.9,321.7 577.9,321.7 578.9,322.5 579.9,324.1 580.9,326.2 581.9,328.9 582.9,331.9 583.9,335.4 584.9,339.7 585.9,344.5 586.9,349.6 587.9,354.6 588.9,359.3 589.9,363.8 590.9,368.0 591.9,372.1 592.9,376.0 593.9,379.5 594.9,382.7 595.9,385.6 596.9,388.2 597.9,390.6 598.4,391.8" fill="none" stroke="#33a033" stroke-width="1.25" stroke-opacity="1.00" stroke-linejoin="round"/>
<path d="M476.9,406.7 477.9,406.6 478.9,406.5 479.9,406.4 480.9,406.3 481.9,406.2 482.9,406.1 483.9,406.0 484.9,405.9 485.9,405.8 486.9,405.7 487.9,405.6 488.9,405.5 489.9,405.4 490.9,405.3 491.9,405.2 492.9,405.1 493.9,405.0 494.9,404.9 495.9,404.7 496.9,404.6 497.9,404.5 498.9,404.4 499.9,404.3 500.9,404.2 501.9,404.1 502.9,404.0 503.9,403.9 504.9,403.8 505.9,403.7 506.9,403.6 507.9,403.5 508.9,403.4 509.9,403.3 510.9,403.2 511.9,403.1 512.9,403.0 513.9,402.9 514.9,402.8 515.9,402.7 516.9,402.6 517.9,402.5 518.9,402.4 519.9,402.3 520.9,402.3 521.9,402.2 522.9,402.1 523.9,402.0 524.9,402.0 525.9,401.9 526.9,401.8 527.9,401.7 528.9,401.6 529.9,401.5 530.9,401.4 531.9,401.3 532.9,401.2 533.9,401.1 534.9,400.9 535.9,400.8 536.9,400.6 537.9,400.4 538.9,400.3 539.9,400.0 540.9,399.8 541.9,399.4 542.9,399.0 543.9,398.5 544.9,397.9 545.9,397.3 546.9,396.5 547.9,395.7 548.9,394.9 549.9,393.8 550.9,392.6 551.9,391.1 552.9,389.3 553.9,387.1 554.9,384.8 555.9,382.2 556.9,379.5 557.9,376.6 558.9,373.6 559.9,370.2 560.9,366.5 561.9,362.5 562.9,358.3 563.9,354.1 564.9,350.0 565.9,346.0 566.9,342.0 567.9,338.3 568.9,335.1 569.9,332.6 570.9,330.8 571.9,329.4 572.9,328.4 573.9,327.8 574.9,327.7 575.9,328.2 576.9,329.3 577.9,330.8 578.9,332.7 579.9,334.9 580.9,337.6 581.9,340.9 582.9,344.7 583.9,348.6 584.9,352.5 585.9,356.3 586.9,360.0 587.9,363.6 588.9,367.3 589.9,370.9 590.9,374.5 591.9,378.1 592.9,381.8 593.9,385.4 594.9,389.0 595.9,392.6 596.9,396.2 597.9,399.8 598.4,401.6" fill="none" stroke="#cc3ad6" stroke-width="1.25" stroke-opacity="1.00" stroke-linejoin="round"/>
<path d="M476.9,372.0 477.9,371.8 478.9,371.6 479.9,371.4 480.9,371.1 481.9,370.9 482.9,370.7 483.9,370.5 484.9,370.3 485.9,370.1 486.9,369.9 487.9,369.7 488.9,369.4 489.9,369.2 490.9,369.0 491.9,368.8 492.9,368.6 493.9,368.4 494.9,368.2 495.9,368.0 496.9,367.8 497.9,367.6 498.9,367.4 499.9,367.2 500.9,367.0 501.9,366.8 502.9,366.5 503.9,366.3 504.9,366.1 505.9,365.9 506.9,365.7 507.9,365.5 508.9,365.3 509.9,365.1 510.9,364.9 511.9,364.7 512.9,364.5 513.9,364.3 514.9,364.2 515.9,364.0 516.9,363.8 517.9,363.6 518.9,363.4 519.9,363.2 520.9,363.1 521.9,362.9 522.9,362.7 523.9,362.5 524.9,362.4 525.9,362.2 526.9,362.0 527.9,361.9 528.9,361.7 529.9,361.5 530.9,361.3 531.9,361.2 532.9,361.0 533.9,360.8 534.9,360.6 535.9,360.5 536.9,360.3 537.9,360.1 538.9,359.9 539.9,359.7 540.9,359.5 541.9,359.3 542.9,359.1 543.9,358.9 544.9,358.7 545.9,358.5 546.9,358.2 547.9,358.0 548.9,357.8 549.9,357.5 550.9,357.2 551.9,357.0 552.9,356.7 553.9,356.3 554.9,356.0 555.9,355.7 556.9,355.3 557.9,354.9 558.9,354.6 559.9,354.2 560.9,353.9 561.9,353.6 562.9,353.2 563.9,352.9 564.9,352.6 565.9,352.3 566.9,352.1 567.9,351.8 568.9,351.5 569.9,351.2 570.9,351.0 571.9,350.7 572.9,350.4 573.9,350.1 574.9,349.9 575.9,349.6 576.9,349.3 577.9,349.0 578.9,348.6 579.9,348.3 580.9,348.0 581.9,347.7 582.9,347.3 583.9,347.0 584.9,346.6 585.9,346.1 586.9,345.6 587.9,345.0 588.9,344.3 589.9,343.5 590.9,342.6 591.9,341.5 592.9,340.2 593.9,338.7 594.9,336.9 595.9,334.8 596.9,332.5 597.9,330.2 598.9,328.0 599.6,326.3" fill="none" stroke="#c040d0" stroke-width="1.5" stroke-dasharray="5,3" transform="translate(0,0.7)"/>
<path d="M476.9,372.0 477.9,371.8 478.9,371.6 479.9,371.4 480.9,371.1 481.9,370.9 482.9,370.7 483.9,370.5 484.9,370.3 485.9,370.1 486.9,369.9 487.9,369.7 488.9,369.4 489.9,369.2 490.9,369.0 491.9,368.8 492.9,368.6 493.9,368.4 494.9,368.2 495.9,368.0 496.9,367.8 497.9,367.6 498.9,367.4 499.9,367.2 500.9,367.0 501.9,366.8 502.9,366.5 503.9,366.3 504.9,366.1 505.9,365.9 506.9,365.7 507.9,365.5 508.9,365.3 509.9,365.1 510.9,364.9 511.9,364.7 512.9,364.5 513.9,364.3 514.9,364.2 515.9,364.0 516.9,363.8 517.9,363.6 518.9,363.4 519.9,363.2 520.9,363.1 521.9,362.9 522.9,362.7 523.9,362.5 524.9,362.4 525.9,362.2 526.9,362.0 527.9,361.9 528.9,361.7 529.9,361.5 530.9,361.3 531.9,361.2 532.9,361.0 533.9,360.8 534.9,360.6 535.9,360.5 536.9,360.3 537.9,360.1 538.9,359.9 539.9,359.7 540.9,359.5 541.9,359.3 542.9,359.1 543.9,358.9 544.9,358.7 545.9,358.5 546.9,358.2 547.9,358.0 548.9,357.8 549.9,357.5 550.9,357.2 551.9,357.0 552.9,356.7 553.9,356.3 554.9,356.0 555.9,355.7 556.9,355.3 557.9,354.9 558.9,354.6 559.9,354.2 560.9,353.9 561.9,353.6 562.9,353.2 563.9,352.9 564.9,352.6 565.9,352.3 566.9,352.1 567.9,351.8 568.9,351.5 569.9,351.2 570.9,351.0 571.9,350.7 572.9,350.4 573.9,350.1 574.9,349.9 575.9,349.6 576.9,349.3 577.9,349.0 578.9,348.6 579.9,348.3 580.9,348.0 581.9,347.7 582.9,347.3 583.9,347.0 584.9,346.6 585.9,346.1 586.9,345.6 587.9,345.0 588.9,344.3 589.9,343.5 590.9,342.6 591.9,341.5 592.9,340.2 593.9,338.7 594.9,336.9 595.9,334.8 596.9,332.5 597.9,330.2 598.9,328.0 599.6,326.3" fill="none" stroke="#3a1040" stroke-width="1.2" stroke-dasharray="5,3" transform="translate(0,-0.2)"/>
<text x="129.3" y="47.5" font-family="Liberation Sans" font-size="17.5" fill="#111" textLength="21.5" lengthAdjust="spacingAndGlyphs">(a)</text>
<text x="273.4" y="47.8" font-family="Liberation Sans" font-size="17.5" fill="#111" textLength="21.4" lengthAdjust="spacingAndGlyphs">(d)</text>
<text x="425.6" y="47.2" font-family="Liberation Sans" font-size="17.5" fill="#111" textLength="20.9" lengthAdjust="spacingAndGlyphs">(g)</text>
<text x="540.9" y="47.2" font-family="Liberation Sans" font-size="17.5" fill="#111" textLength="12.9" lengthAdjust="spacingAndGlyphs">(j)</text>
<text x="132.9" y="199.1" font-family="Liberation Sans" font-size="17.5" fill="#111" textLength="20.2" lengthAdjust="spacingAndGlyphs">(b)</text>
<text x="273.6" y="200.1" font-family="Liberation Sans" font-size="17.5" fill="#111" textLength="20.5" lengthAdjust="spacingAndGlyphs">(e)</text>
<text x="427.3" y="213.8" font-family="Liberation Sans" font-size="17.5" fill="#111" textLength="20.2" lengthAdjust="spacingAndGlyphs">(h)</text>
<text x="543.6" y="183.2" font-family="Liberation Sans" font-size="17.5" fill="#111" textLength="17.2" lengthAdjust="spacingAndGlyphs">(k)</text>
<text x="129.6" y="311.5" font-family="Liberation Sans" font-size="17.5" fill="#111" textLength="20.2" lengthAdjust="spacingAndGlyphs">(c)</text>
<text x="274.3" y="311.5" font-family="Liberation Sans" font-size="17.5" fill="#111" textLength="14.5" lengthAdjust="spacingAndGlyphs">(f)</text>
<text x="424.9" y="311.5" font-family="Liberation Sans" font-size="17.5" fill="#111" textLength="12.3" lengthAdjust="spacingAndGlyphs">(i)</text>
<text x="542.9" y="311.2" font-family="Liberation Sans" font-size="17.5" fill="#111" textLength="12.6" lengthAdjust="spacingAndGlyphs">(l)</text>
<text x="47.3" y="138.6" font-size="14.0" font-family="Liberation Serif" font-weight="bold" font-style="italic" fill="#111" textLength="82.0" lengthAdjust="spacingAndGlyphs" >n<tspan font-size="9.5" dy="3.0">e</tspan><tspan dy="-3.0">&#8203;</tspan> <tspan font-style="normal">(10</tspan><tspan font-size="9.5" dy="-5.5" font-style="normal">20</tspan><tspan dy="5.5">&#8203;</tspan><tspan font-style="normal">/</tspan>m<tspan font-size="9.5" dy="-5.5" font-style="normal">3</tspan><tspan dy="5.5">&#8203;</tspan><tspan font-style="normal">)</tspan></text>
<text x="207.2" y="137.8" font-size="14.0" font-family="Liberation Serif" font-weight="bold" font-style="italic" fill="#111" textLength="52.0" lengthAdjust="spacingAndGlyphs" >T<tspan font-size="9.5" dy="3.0">e</tspan><tspan dy="-3.0">&#8203;</tspan> <tspan font-style="normal">(</tspan>keV<tspan font-style="normal">)</tspan></text>
<text x="368.0" y="55.9" font-size="14.0" font-family="Liberation Serif" font-weight="bold" font-style="italic" fill="#111" textLength="54.0" lengthAdjust="spacingAndGlyphs" >p<tspan font-size="9.5" dy="3.0">e</tspan><tspan dy="-3.0">&#8203;</tspan> <tspan font-style="normal">(</tspan>kPa<tspan font-style="normal">)</tspan></text>
<text x="490.0" y="54.5" font-size="14.0" font-family="Liberation Serif" font-weight="bold" font-style="italic" fill="#111" textLength="12.5" lengthAdjust="spacingAndGlyphs" >j<tspan font-size="9.5" dy="3.0">N</tspan><tspan dy="-3.0">&#8203;</tspan></text>
<path d="M505.7,49.7H528.3" stroke="#111" stroke-width="1.6"/>
<text x="488.5" y="74.3" font-size="14.0" font-family="Liberation Serif" font-weight="bold" font-style="italic" fill="#111" textLength="31.5" lengthAdjust="spacingAndGlyphs" >j<tspan font-size="9.5" dy="3" font-style="normal" font-weight="normal">BS</tspan><tspan dy="-3">/2</tspan></text>
<path d="M526.1,72.3H549.5" stroke="#111" stroke-width="1.6" stroke-dasharray="5,4"/>
<path d="M38,175.7H56" stroke="#111" stroke-width="1.6" stroke-dasharray="5.5,4.5"/><circle cx="59.6" cy="175.7" r="0.9" fill="#111"/>
<text x="64.8" y="178.9" font-size="14.0" font-family="Liberation Serif" font-weight="bold" font-style="italic" fill="#111" textLength="81.5" lengthAdjust="spacingAndGlyphs" >n<tspan font-size="9.5" dy="3.0">D</tspan><tspan dy="-3.0">&#8203;</tspan><tspan font-style="normal">(10</tspan><tspan font-size="9.5" dy="-5.5" font-style="normal">20</tspan><tspan dy="5.5">&#8203;</tspan><tspan font-style="normal">/</tspan>m<tspan font-size="9.5" dy="-5.5" font-style="normal">3</tspan><tspan dy="5.5">&#8203;</tspan><tspan font-style="normal">)</tspan></text>
<text x="65.8" y="265.8" font-size="14.0" font-family="Liberation Serif" font-weight="bold" font-style="italic" fill="#111" textLength="65.3" lengthAdjust="spacingAndGlyphs" ><tspan font-style="normal">(10</tspan><tspan font-size="9.5" dy="-5.5" font-style="normal">20</tspan><tspan dy="5.5">&#8203;</tspan><tspan font-style="normal">/</tspan>m<tspan font-size="9.5" dy="-5.5" font-style="normal">3</tspan><tspan dy="5.5">&#8203;</tspan><tspan font-style="normal">)</tspan></text>
<path d="M31,277H54.2" stroke="#111" stroke-width="1.6"/>
<text x="54.2" y="279.5" font-size="14.0" font-family="Liberation Serif" font-weight="bold" font-style="italic" fill="#111" textLength="100.0" lengthAdjust="spacingAndGlyphs" >n<tspan font-size="9.5" dy="3.0">i</tspan><tspan dy="-3.0">&#8203;</tspan> <tspan font-style="normal">=</tspan> n<tspan font-size="9.5" dy="3.0">D</tspan><tspan dy="-3.0">&#8203;</tspan><tspan font-style="normal">+</tspan>n<tspan font-size="9.5" dy="3.0">C</tspan><tspan dy="-3.0">&#8203;</tspan><tspan font-style="normal">+</tspan>n<tspan font-size="9.5" dy="3.0">Ne</tspan><tspan dy="-3.0">&#8203;</tspan></text>
<path d="M36.5,304.7H60" stroke="#111" stroke-width="1.6"/>
<text x="61.6" y="306.3" font-size="14.0" font-family="Liberation Serif" font-weight="bold" font-style="italic" fill="#111" textLength="44.6" lengthAdjust="spacingAndGlyphs" ><tspan font-style="normal">6</tspan>n<tspan font-size="9.5" dy="3.0">C</tspan><tspan dy="-3.0">&#8203;</tspan><tspan font-style="normal">/</tspan>n<tspan font-size="9.5" dy="3.0">e</tspan><tspan dy="-3.0">&#8203;</tspan></text>
<path d="M32,409.4H51" stroke="#111" stroke-width="1.6" stroke-dasharray="5.5,4.5"/>
<text x="54.2" y="414.2" font-size="14.0" font-family="Liberation Serif" font-weight="bold" font-style="italic" fill="#111" textLength="58.0" lengthAdjust="spacingAndGlyphs" ><tspan font-style="normal">10</tspan>n<tspan font-size="9.5" dy="3.0">Ne</tspan><tspan dy="-3.0">&#8203;</tspan><tspan font-style="normal">/</tspan>n<tspan font-size="9.5" dy="3.0">e</tspan><tspan dy="-3.0">&#8203;</tspan></text>
<text x="197.7" y="266.2" font-size="14.0" font-family="Liberation Serif" font-weight="bold" font-style="italic" fill="#111" textLength="51.0" lengthAdjust="spacingAndGlyphs" >T<tspan font-size="9.5" dy="3.0">i</tspan><tspan dy="-3.0">&#8203;</tspan> <tspan font-style="normal">(</tspan>keV<tspan font-style="normal">)</tspan></text>
<text x="209.5" y="362.6" font-size="14.0" font-family="Liberation Serif" font-weight="bold" font-style="italic" fill="#111" textLength="25.0" lengthAdjust="spacingAndGlyphs" >Z<tspan font-size="10.0" dy="3.5">eff</tspan><tspan dy="-3.5">&#8203;</tspan></text>
<path d="M332,176.2H356" stroke="#111" stroke-width="1.6" stroke-dasharray="5.5,4.5"/>
<text x="355.3" y="178.8" font-size="14.0" font-family="Liberation Serif" font-weight="bold" font-style="italic" fill="#111" textLength="103.2" lengthAdjust="spacingAndGlyphs" >p<tspan font-size="9.5" dy="3.0">D</tspan><tspan dy="-3.0">&#8203;</tspan> <tspan font-style="normal">=</tspan> n<tspan font-size="9.5" dy="3.0">D</tspan><tspan dy="-3.0">&#8203;</tspan>T<tspan font-size="9.5" dy="3.0">i</tspan><tspan dy="-3.0">&#8203;</tspan> <tspan font-style="normal">(</tspan>kPa<tspan font-style="normal">)</tspan></text>
<path d="M337.4,190.1H361.6" stroke="#111" stroke-width="1.6"/>
<text x="363.7" y="191.4" font-size="14.0" font-family="Liberation Serif" font-weight="bold" font-style="italic" fill="#111" textLength="94.8" lengthAdjust="spacingAndGlyphs" >p<tspan font-size="9.5" dy="3.0">i</tspan><tspan dy="-3.0">&#8203;</tspan> <tspan font-style="normal">=</tspan> n<tspan font-size="9.5" dy="3.0">i</tspan><tspan dy="-3.0">&#8203;</tspan>T<tspan font-size="9.5" dy="3.0">i</tspan><tspan dy="-3.0">&#8203;</tspan> <tspan font-style="normal">(</tspan>kPa<tspan font-style="normal">)</tspan></text>
<text x="341.7" y="393.8" font-size="14.0" font-family="Liberation Serif" font-weight="bold" font-style="italic" fill="#111" textLength="63.3" lengthAdjust="spacingAndGlyphs" >p<tspan font-size="9.5" dy="3.0">tot</tspan><tspan dy="-3.0">&#8203;</tspan> <tspan font-style="normal">(</tspan>kPa<tspan font-style="normal">)</tspan></text>
<text x="480.4" y="241.8" font-size="14.0" font-family="Liberation Serif" font-weight="bold" font-style="italic" fill="#111" textLength="17.5" lengthAdjust="spacingAndGlyphs" >dp</text>
<path d="M480,248.3H498.6M507.4,248.3H557" stroke="#111" stroke-width="1.3"/>
<text x="480.4" y="260.7" font-size="14.0" font-family="Liberation Serif" font-weight="bold" font-style="italic" fill="#111" textLength="17.5" lengthAdjust="spacingAndGlyphs" >dR</text>
<text x="500.3" y="253.5" font-size="14" font-family="Liberation Serif" fill="#111">(</text>
<text x="507.4" y="241.8" font-size="14.0" font-family="Liberation Serif" font-weight="bold" font-style="italic" fill="#111" textLength="49.6" lengthAdjust="spacingAndGlyphs" ><tspan font-style="normal">100</tspan>kPa</text>
<text x="525.6" y="260.7" font-size="14.0" font-family="Liberation Serif" font-weight="bold" font-style="italic" fill="#111" textLength="11.7" lengthAdjust="spacingAndGlyphs" >m</text>
<text x="557" y="253.5" font-size="14" font-family="Liberation Serif" fill="#111">)</text>
<text x="489.2" y="316.6" font-size="17" stroke="#111" stroke-width="0.3" font-family="Liberation Sans" font-style="italic" fill="#111" textLength="10.5" lengthAdjust="spacingAndGlyphs">&#945;</text>
<path d="M502.8,312.2H526.1" stroke="#111" stroke-width="1.6"/>
<text x="488.4" y="332.2" font-size="16" stroke="#111" stroke-width="0.3" font-family="Liberation Sans" font-style="italic" fill="#111" textLength="9" lengthAdjust="spacingAndGlyphs">q</text>
<path d="M502.8,325.9H527" stroke="#111" stroke-width="1.6" stroke-dasharray="5,4"/>
</svg></body></html>
